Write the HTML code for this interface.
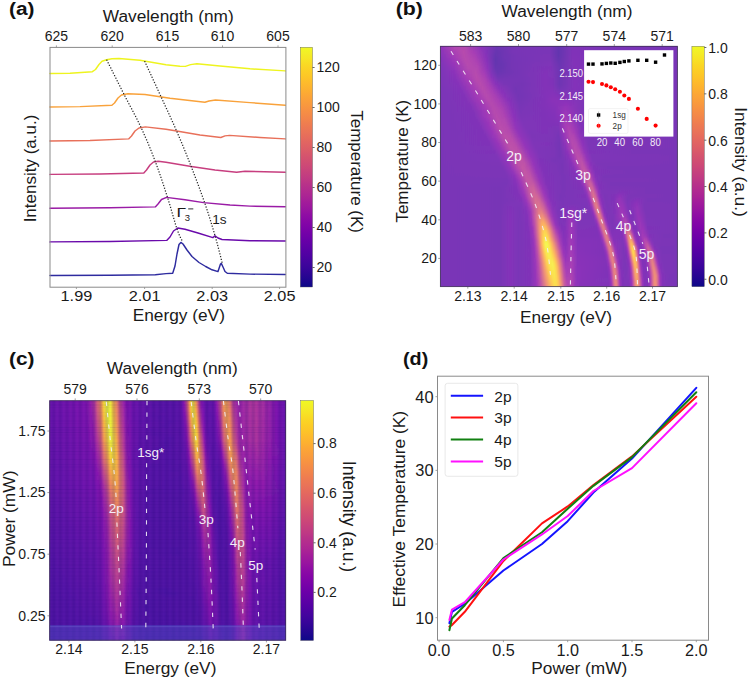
<!DOCTYPE html>
<html><head><meta charset="utf-8"><style>html,body{margin:0;padding:0;background:#fff;overflow:hidden}svg{display:block}</style></head>
<body><svg width="749" height="679" viewBox="0 0 749 679" font-family='"Liberation Sans", sans-serif'>
<defs><linearGradient id="pl" x1="0" y1="0" x2="0" y2="1"><stop offset="0.000" stop-color="#f0f921"/><stop offset="0.025" stop-color="#f3ee27"/><stop offset="0.050" stop-color="#f7e425"/><stop offset="0.075" stop-color="#fad824"/><stop offset="0.100" stop-color="#fcce25"/><stop offset="0.125" stop-color="#fdc527"/><stop offset="0.150" stop-color="#feba2c"/><stop offset="0.175" stop-color="#fdb130"/><stop offset="0.200" stop-color="#fca636"/><stop offset="0.225" stop-color="#fa9e3b"/><stop offset="0.250" stop-color="#f89540"/><stop offset="0.275" stop-color="#f58c46"/><stop offset="0.300" stop-color="#f2844b"/><stop offset="0.325" stop-color="#ee7b51"/><stop offset="0.350" stop-color="#ea7457"/><stop offset="0.375" stop-color="#e66c5c"/><stop offset="0.400" stop-color="#e16462"/><stop offset="0.425" stop-color="#dc5d67"/><stop offset="0.450" stop-color="#d6556d"/><stop offset="0.475" stop-color="#d14e72"/><stop offset="0.500" stop-color="#cc4778"/><stop offset="0.525" stop-color="#c5407e"/><stop offset="0.550" stop-color="#bf3984"/><stop offset="0.575" stop-color="#b7318a"/><stop offset="0.600" stop-color="#b12a90"/><stop offset="0.625" stop-color="#aa2395"/><stop offset="0.650" stop-color="#a11b9b"/><stop offset="0.675" stop-color="#99159f"/><stop offset="0.700" stop-color="#8f0da4"/><stop offset="0.725" stop-color="#8707a6"/><stop offset="0.750" stop-color="#7e03a8"/><stop offset="0.775" stop-color="#7401a8"/><stop offset="0.800" stop-color="#6a00a8"/><stop offset="0.825" stop-color="#6001a6"/><stop offset="0.850" stop-color="#5601a4"/><stop offset="0.875" stop-color="#4c02a1"/><stop offset="0.900" stop-color="#41049d"/><stop offset="0.925" stop-color="#370499"/><stop offset="0.950" stop-color="#2a0593"/><stop offset="0.975" stop-color="#1d068e"/><stop offset="1.000" stop-color="#0d0887"/></linearGradient><filter id="bv" filterUnits="userSpaceOnUse" x="0" y="0" width="749" height="679"><feGaussianBlur stdDeviation="0.6 1.6"/></filter><filter id="b1" filterUnits="userSpaceOnUse" x="0" y="0" width="749" height="679"><feGaussianBlur stdDeviation="1"/></filter><filter id="b1_5" filterUnits="userSpaceOnUse" x="0" y="0" width="749" height="679"><feGaussianBlur stdDeviation="1.5"/></filter><filter id="b2" filterUnits="userSpaceOnUse" x="0" y="0" width="749" height="679"><feGaussianBlur stdDeviation="2"/></filter><filter id="b2_5" filterUnits="userSpaceOnUse" x="0" y="0" width="749" height="679"><feGaussianBlur stdDeviation="2.5"/></filter><filter id="b3" filterUnits="userSpaceOnUse" x="0" y="0" width="749" height="679"><feGaussianBlur stdDeviation="3"/></filter><filter id="b3_5" filterUnits="userSpaceOnUse" x="0" y="0" width="749" height="679"><feGaussianBlur stdDeviation="3.5"/></filter><filter id="b4" filterUnits="userSpaceOnUse" x="0" y="0" width="749" height="679"><feGaussianBlur stdDeviation="4"/></filter><filter id="b5" filterUnits="userSpaceOnUse" x="0" y="0" width="749" height="679"><feGaussianBlur stdDeviation="5"/></filter><filter id="b6" filterUnits="userSpaceOnUse" x="0" y="0" width="749" height="679"><feGaussianBlur stdDeviation="6"/></filter><filter id="b8" filterUnits="userSpaceOnUse" x="0" y="0" width="749" height="679"><feGaussianBlur stdDeviation="8"/></filter><filter id="b10" filterUnits="userSpaceOnUse" x="0" y="0" width="749" height="679"><feGaussianBlur stdDeviation="10"/></filter><filter id="b12" filterUnits="userSpaceOnUse" x="0" y="0" width="749" height="679"><feGaussianBlur stdDeviation="12"/></filter><clipPath id="cb"><rect x="440.2" y="46" width="237.4" height="240.8"/></clipPath><linearGradient id="hb0" gradientUnits="userSpaceOnUse" x1="440" y1="0" x2="678" y2="0"><stop offset="0.002" stop-color="#8d33ba"/><stop offset="0.061" stop-color="#b046b1"/><stop offset="0.103" stop-color="#b54aae"/><stop offset="0.174" stop-color="#8c33ba"/><stop offset="0.237" stop-color="#6b36b2"/><stop offset="0.313" stop-color="#7834b6"/><stop offset="0.460" stop-color="#7b34b7"/><stop offset="0.498" stop-color="#6536b0"/><stop offset="0.561" stop-color="#8133b8"/><stop offset="0.708" stop-color="#7a34b7"/><stop offset="0.998" stop-color="#7a34b7"/></linearGradient><linearGradient id="hb1" gradientUnits="userSpaceOnUse" x1="440" y1="0" x2="678" y2="0"><stop offset="0.002" stop-color="#8833b9"/><stop offset="0.053" stop-color="#a63eb6"/><stop offset="0.099" stop-color="#b74bad"/><stop offset="0.145" stop-color="#a53db6"/><stop offset="0.195" stop-color="#8233b9"/><stop offset="0.237" stop-color="#6736b0"/><stop offset="0.309" stop-color="#7834b6"/><stop offset="0.460" stop-color="#7a34b7"/><stop offset="0.498" stop-color="#6336af"/><stop offset="0.557" stop-color="#8033b8"/><stop offset="0.754" stop-color="#7a34b7"/><stop offset="0.998" stop-color="#7a34b7"/></linearGradient><linearGradient id="hb2" gradientUnits="userSpaceOnUse" x1="440" y1="0" x2="678" y2="0"><stop offset="0.002" stop-color="#8433b9"/><stop offset="0.057" stop-color="#a33bb7"/><stop offset="0.103" stop-color="#b64bad"/><stop offset="0.145" stop-color="#aa41b4"/><stop offset="0.191" stop-color="#8933b9"/><stop offset="0.233" stop-color="#6536b0"/><stop offset="0.267" stop-color="#6e35b3"/><stop offset="0.321" stop-color="#7734b6"/><stop offset="0.460" stop-color="#7c34b7"/><stop offset="0.498" stop-color="#6436af"/><stop offset="0.557" stop-color="#8133b8"/><stop offset="0.716" stop-color="#7a34b7"/><stop offset="0.998" stop-color="#7a34b7"/></linearGradient><linearGradient id="hb3" gradientUnits="userSpaceOnUse" x1="440" y1="0" x2="678" y2="0"><stop offset="0.002" stop-color="#8133b8"/><stop offset="0.057" stop-color="#9c37b9"/><stop offset="0.107" stop-color="#b64bae"/><stop offset="0.149" stop-color="#ad43b3"/><stop offset="0.195" stop-color="#8933b9"/><stop offset="0.233" stop-color="#6336af"/><stop offset="0.267" stop-color="#6d35b3"/><stop offset="0.313" stop-color="#7634b6"/><stop offset="0.464" stop-color="#7c34b7"/><stop offset="0.498" stop-color="#6736b0"/><stop offset="0.561" stop-color="#8233b8"/><stop offset="0.683" stop-color="#7a34b7"/><stop offset="0.998" stop-color="#7a34b7"/></linearGradient><linearGradient id="hb4" gradientUnits="userSpaceOnUse" x1="440" y1="0" x2="678" y2="0"><stop offset="0.002" stop-color="#7f34b8"/><stop offset="0.061" stop-color="#9836b9"/><stop offset="0.116" stop-color="#b64bae"/><stop offset="0.158" stop-color="#ad43b3"/><stop offset="0.200" stop-color="#8933b9"/><stop offset="0.233" stop-color="#6536b0"/><stop offset="0.258" stop-color="#6836b1"/><stop offset="0.305" stop-color="#7534b5"/><stop offset="0.464" stop-color="#7f34b8"/><stop offset="0.502" stop-color="#6a36b2"/><stop offset="0.561" stop-color="#8233b8"/><stop offset="0.670" stop-color="#7a34b7"/><stop offset="0.998" stop-color="#7a34b7"/></linearGradient><linearGradient id="hb5" gradientUnits="userSpaceOnUse" x1="440" y1="0" x2="678" y2="0"><stop offset="0.002" stop-color="#7d34b8"/><stop offset="0.057" stop-color="#8f34ba"/><stop offset="0.120" stop-color="#b44aaf"/><stop offset="0.158" stop-color="#b147b1"/><stop offset="0.200" stop-color="#8e33ba"/><stop offset="0.233" stop-color="#6836b1"/><stop offset="0.258" stop-color="#6936b1"/><stop offset="0.305" stop-color="#7534b5"/><stop offset="0.464" stop-color="#8033b8"/><stop offset="0.502" stop-color="#6d35b3"/><stop offset="0.565" stop-color="#8233b8"/><stop offset="0.662" stop-color="#7a34b7"/><stop offset="0.998" stop-color="#7a34b7"/></linearGradient><linearGradient id="hb6" gradientUnits="userSpaceOnUse" x1="440" y1="0" x2="678" y2="0"><stop offset="0.002" stop-color="#7c34b7"/><stop offset="0.061" stop-color="#8c33ba"/><stop offset="0.107" stop-color="#aa41b4"/><stop offset="0.149" stop-color="#b64bae"/><stop offset="0.187" stop-color="#a23bb7"/><stop offset="0.221" stop-color="#7934b7"/><stop offset="0.242" stop-color="#6936b1"/><stop offset="0.313" stop-color="#7435b5"/><stop offset="0.447" stop-color="#8233b8"/><stop offset="0.473" stop-color="#7e34b8"/><stop offset="0.502" stop-color="#6e35b3"/><stop offset="0.569" stop-color="#8233b8"/><stop offset="0.662" stop-color="#7a34b7"/><stop offset="0.998" stop-color="#7a34b7"/></linearGradient><linearGradient id="hb7" gradientUnits="userSpaceOnUse" x1="440" y1="0" x2="678" y2="0"><stop offset="0.002" stop-color="#7c34b7"/><stop offset="0.065" stop-color="#8933b9"/><stop offset="0.111" stop-color="#a73eb5"/><stop offset="0.153" stop-color="#b74cad"/><stop offset="0.187" stop-color="#a940b5"/><stop offset="0.216" stop-color="#8733b9"/><stop offset="0.242" stop-color="#7035b4"/><stop offset="0.351" stop-color="#7834b6"/><stop offset="0.447" stop-color="#8233b9"/><stop offset="0.473" stop-color="#7f34b8"/><stop offset="0.502" stop-color="#6e35b3"/><stop offset="0.565" stop-color="#8333b9"/><stop offset="0.645" stop-color="#7a34b7"/><stop offset="0.998" stop-color="#7a34b7"/></linearGradient><linearGradient id="hb8" gradientUnits="userSpaceOnUse" x1="440" y1="0" x2="678" y2="0"><stop offset="0.002" stop-color="#7c34b7"/><stop offset="0.069" stop-color="#8633b9"/><stop offset="0.116" stop-color="#a33bb7"/><stop offset="0.158" stop-color="#b74bad"/><stop offset="0.191" stop-color="#ac42b3"/><stop offset="0.221" stop-color="#8c33ba"/><stop offset="0.246" stop-color="#7734b6"/><stop offset="0.347" stop-color="#7734b6"/><stop offset="0.443" stop-color="#8233b8"/><stop offset="0.473" stop-color="#7f33b8"/><stop offset="0.502" stop-color="#6e35b3"/><stop offset="0.565" stop-color="#8333b9"/><stop offset="0.645" stop-color="#7a34b7"/><stop offset="0.998" stop-color="#7a34b7"/></linearGradient><linearGradient id="hb9" gradientUnits="userSpaceOnUse" x1="440" y1="0" x2="678" y2="0"><stop offset="0.002" stop-color="#7c34b7"/><stop offset="0.078" stop-color="#8533b9"/><stop offset="0.128" stop-color="#a43cb6"/><stop offset="0.170" stop-color="#b74cad"/><stop offset="0.204" stop-color="#a83fb5"/><stop offset="0.233" stop-color="#8933b9"/><stop offset="0.267" stop-color="#7934b6"/><stop offset="0.342" stop-color="#7534b5"/><stop offset="0.443" stop-color="#8233b8"/><stop offset="0.473" stop-color="#7f33b8"/><stop offset="0.502" stop-color="#6e35b3"/><stop offset="0.565" stop-color="#8333b9"/><stop offset="0.645" stop-color="#7a34b7"/><stop offset="0.998" stop-color="#7a34b7"/></linearGradient><linearGradient id="hb10" gradientUnits="userSpaceOnUse" x1="440" y1="0" x2="678" y2="0"><stop offset="0.002" stop-color="#7b34b7"/><stop offset="0.086" stop-color="#8433b9"/><stop offset="0.137" stop-color="#a33bb7"/><stop offset="0.179" stop-color="#b74bad"/><stop offset="0.212" stop-color="#a83fb5"/><stop offset="0.246" stop-color="#8933b9"/><stop offset="0.317" stop-color="#7335b5"/><stop offset="0.443" stop-color="#8233b8"/><stop offset="0.473" stop-color="#8233b8"/><stop offset="0.502" stop-color="#7235b5"/><stop offset="0.565" stop-color="#8333b9"/><stop offset="0.645" stop-color="#7a34b7"/><stop offset="0.998" stop-color="#7a34b7"/></linearGradient><linearGradient id="hb11" gradientUnits="userSpaceOnUse" x1="440" y1="0" x2="678" y2="0"><stop offset="0.002" stop-color="#7a34b7"/><stop offset="0.095" stop-color="#8333b9"/><stop offset="0.145" stop-color="#a23ab7"/><stop offset="0.187" stop-color="#b64bae"/><stop offset="0.221" stop-color="#a940b5"/><stop offset="0.258" stop-color="#8a33b9"/><stop offset="0.321" stop-color="#7335b5"/><stop offset="0.443" stop-color="#8233b8"/><stop offset="0.473" stop-color="#8433b9"/><stop offset="0.506" stop-color="#7a34b7"/><stop offset="0.565" stop-color="#8333b9"/><stop offset="0.645" stop-color="#7a34b7"/><stop offset="0.998" stop-color="#7a34b7"/></linearGradient><linearGradient id="hb12" gradientUnits="userSpaceOnUse" x1="440" y1="0" x2="678" y2="0"><stop offset="0.002" stop-color="#7a34b7"/><stop offset="0.103" stop-color="#8233b8"/><stop offset="0.158" stop-color="#a33bb7"/><stop offset="0.195" stop-color="#b64bae"/><stop offset="0.229" stop-color="#aa41b4"/><stop offset="0.271" stop-color="#8a33b9"/><stop offset="0.330" stop-color="#7335b5"/><stop offset="0.443" stop-color="#8233b9"/><stop offset="0.477" stop-color="#8633b9"/><stop offset="0.506" stop-color="#8133b8"/><stop offset="0.565" stop-color="#8433b9"/><stop offset="0.637" stop-color="#7a34b7"/><stop offset="0.998" stop-color="#7a34b7"/></linearGradient><linearGradient id="hb13" gradientUnits="userSpaceOnUse" x1="440" y1="0" x2="678" y2="0"><stop offset="0.002" stop-color="#7a34b7"/><stop offset="0.111" stop-color="#8233b8"/><stop offset="0.166" stop-color="#a23ab7"/><stop offset="0.204" stop-color="#b54aae"/><stop offset="0.242" stop-color="#a940b5"/><stop offset="0.284" stop-color="#8933b9"/><stop offset="0.330" stop-color="#7534b5"/><stop offset="0.439" stop-color="#8133b8"/><stop offset="0.473" stop-color="#8a33b9"/><stop offset="0.511" stop-color="#8933b9"/><stop offset="0.649" stop-color="#7a34b7"/><stop offset="0.998" stop-color="#7a34b7"/></linearGradient><linearGradient id="hb14" gradientUnits="userSpaceOnUse" x1="440" y1="0" x2="678" y2="0"><stop offset="0.002" stop-color="#7a34b7"/><stop offset="0.124" stop-color="#8233b8"/><stop offset="0.174" stop-color="#a039b8"/><stop offset="0.216" stop-color="#b54aae"/><stop offset="0.254" stop-color="#a83fb5"/><stop offset="0.296" stop-color="#8833b9"/><stop offset="0.334" stop-color="#7734b6"/><stop offset="0.439" stop-color="#8133b8"/><stop offset="0.481" stop-color="#8833b9"/><stop offset="0.532" stop-color="#8f33ba"/><stop offset="0.611" stop-color="#7c34b7"/><stop offset="0.998" stop-color="#7a34b7"/></linearGradient><linearGradient id="hb15" gradientUnits="userSpaceOnUse" x1="440" y1="0" x2="678" y2="0"><stop offset="0.002" stop-color="#7a34b7"/><stop offset="0.132" stop-color="#8133b8"/><stop offset="0.187" stop-color="#a23bb7"/><stop offset="0.225" stop-color="#b54aae"/><stop offset="0.258" stop-color="#ac42b3"/><stop offset="0.300" stop-color="#8a33b9"/><stop offset="0.334" stop-color="#7934b6"/><stop offset="0.439" stop-color="#8133b8"/><stop offset="0.485" stop-color="#8633b9"/><stop offset="0.527" stop-color="#9535b9"/><stop offset="0.603" stop-color="#7c34b7"/><stop offset="0.998" stop-color="#7a34b7"/></linearGradient><linearGradient id="hb16" gradientUnits="userSpaceOnUse" x1="440" y1="0" x2="678" y2="0"><stop offset="0.002" stop-color="#7a34b7"/><stop offset="0.141" stop-color="#8133b8"/><stop offset="0.187" stop-color="#9c37b8"/><stop offset="0.229" stop-color="#b64bae"/><stop offset="0.263" stop-color="#ae44b2"/><stop offset="0.305" stop-color="#8b33ba"/><stop offset="0.338" stop-color="#7a34b7"/><stop offset="0.439" stop-color="#7f33b8"/><stop offset="0.481" stop-color="#8433b9"/><stop offset="0.506" stop-color="#8e33ba"/><stop offset="0.527" stop-color="#9b37b9"/><stop offset="0.603" stop-color="#7c34b7"/><stop offset="0.998" stop-color="#7a34b7"/></linearGradient><linearGradient id="hb17" gradientUnits="userSpaceOnUse" x1="440" y1="0" x2="678" y2="0"><stop offset="0.002" stop-color="#7a34b7"/><stop offset="0.145" stop-color="#8033b8"/><stop offset="0.195" stop-color="#9e38b8"/><stop offset="0.237" stop-color="#b74cad"/><stop offset="0.271" stop-color="#ad43b3"/><stop offset="0.309" stop-color="#8c33ba"/><stop offset="0.338" stop-color="#7c34b7"/><stop offset="0.439" stop-color="#7f33b8"/><stop offset="0.481" stop-color="#8233b9"/><stop offset="0.502" stop-color="#8a33b9"/><stop offset="0.527" stop-color="#a039b8"/><stop offset="0.565" stop-color="#8c33ba"/><stop offset="0.603" stop-color="#7c34b7"/><stop offset="0.998" stop-color="#7a34b7"/></linearGradient><linearGradient id="hb18" gradientUnits="userSpaceOnUse" x1="440" y1="0" x2="678" y2="0"><stop offset="0.002" stop-color="#7a34b7"/><stop offset="0.153" stop-color="#8033b8"/><stop offset="0.200" stop-color="#9b37b9"/><stop offset="0.242" stop-color="#b74cad"/><stop offset="0.271" stop-color="#b248b0"/><stop offset="0.313" stop-color="#8e33ba"/><stop offset="0.342" stop-color="#7e34b8"/><stop offset="0.439" stop-color="#7f33b8"/><stop offset="0.477" stop-color="#8133b8"/><stop offset="0.498" stop-color="#8433b9"/><stop offset="0.527" stop-color="#a43cb7"/><stop offset="0.553" stop-color="#9b37b9"/><stop offset="0.595" stop-color="#7e34b8"/><stop offset="0.998" stop-color="#7a34b7"/></linearGradient><linearGradient id="hb19" gradientUnits="userSpaceOnUse" x1="440" y1="0" x2="678" y2="0"><stop offset="0.002" stop-color="#7a34b7"/><stop offset="0.162" stop-color="#8033b8"/><stop offset="0.204" stop-color="#9836b9"/><stop offset="0.246" stop-color="#b84cad"/><stop offset="0.275" stop-color="#b449af"/><stop offset="0.317" stop-color="#8f34ba"/><stop offset="0.351" stop-color="#7f34b8"/><stop offset="0.439" stop-color="#7f33b8"/><stop offset="0.477" stop-color="#7f33b8"/><stop offset="0.498" stop-color="#8133b8"/><stop offset="0.527" stop-color="#a63eb6"/><stop offset="0.548" stop-color="#a53db6"/><stop offset="0.586" stop-color="#8333b9"/><stop offset="0.645" stop-color="#7a34b7"/><stop offset="0.998" stop-color="#7a34b7"/></linearGradient><linearGradient id="hb20" gradientUnits="userSpaceOnUse" x1="440" y1="0" x2="678" y2="0"><stop offset="0.002" stop-color="#7a34b7"/><stop offset="0.170" stop-color="#8033b8"/><stop offset="0.212" stop-color="#9936b9"/><stop offset="0.254" stop-color="#b94eac"/><stop offset="0.284" stop-color="#b449af"/><stop offset="0.321" stop-color="#9034ba"/><stop offset="0.359" stop-color="#7f34b8"/><stop offset="0.443" stop-color="#8033b8"/><stop offset="0.481" stop-color="#7d34b7"/><stop offset="0.498" stop-color="#7e34b8"/><stop offset="0.523" stop-color="#a23ab7"/><stop offset="0.540" stop-color="#ad43b3"/><stop offset="0.561" stop-color="#a23ab7"/><stop offset="0.595" stop-color="#8033b8"/><stop offset="0.733" stop-color="#7a34b7"/><stop offset="0.998" stop-color="#7a34b7"/></linearGradient><linearGradient id="hb21" gradientUnits="userSpaceOnUse" x1="440" y1="0" x2="678" y2="0"><stop offset="0.002" stop-color="#7a34b7"/><stop offset="0.179" stop-color="#7f33b8"/><stop offset="0.221" stop-color="#9a36b9"/><stop offset="0.263" stop-color="#ba4fab"/><stop offset="0.292" stop-color="#b449af"/><stop offset="0.330" stop-color="#8f34ba"/><stop offset="0.376" stop-color="#7d34b8"/><stop offset="0.443" stop-color="#7f33b8"/><stop offset="0.477" stop-color="#7d34b7"/><stop offset="0.498" stop-color="#7a34b7"/><stop offset="0.523" stop-color="#9d38b8"/><stop offset="0.544" stop-color="#b046b1"/><stop offset="0.565" stop-color="#a43cb6"/><stop offset="0.590" stop-color="#8633b9"/><stop offset="0.624" stop-color="#7c34b7"/><stop offset="0.998" stop-color="#7a34b7"/></linearGradient><linearGradient id="hb22" gradientUnits="userSpaceOnUse" x1="440" y1="0" x2="678" y2="0"><stop offset="0.002" stop-color="#7a34b7"/><stop offset="0.191" stop-color="#8033b8"/><stop offset="0.233" stop-color="#9d38b8"/><stop offset="0.271" stop-color="#bb50aa"/><stop offset="0.296" stop-color="#b84dac"/><stop offset="0.338" stop-color="#9034ba"/><stop offset="0.384" stop-color="#7d34b7"/><stop offset="0.473" stop-color="#7e34b8"/><stop offset="0.498" stop-color="#7734b6"/><stop offset="0.519" stop-color="#9034ba"/><stop offset="0.544" stop-color="#b046b1"/><stop offset="0.561" stop-color="#b045b1"/><stop offset="0.586" stop-color="#9034ba"/><stop offset="0.611" stop-color="#7e34b8"/><stop offset="0.998" stop-color="#7a34b7"/></linearGradient><linearGradient id="hb23" gradientUnits="userSpaceOnUse" x1="440" y1="0" x2="678" y2="0"><stop offset="0.002" stop-color="#7a34b7"/><stop offset="0.200" stop-color="#8033b8"/><stop offset="0.237" stop-color="#9836b9"/><stop offset="0.279" stop-color="#bc50aa"/><stop offset="0.305" stop-color="#b94dac"/><stop offset="0.347" stop-color="#9234ba"/><stop offset="0.389" stop-color="#7e34b8"/><stop offset="0.473" stop-color="#7d34b7"/><stop offset="0.502" stop-color="#7634b6"/><stop offset="0.532" stop-color="#9c37b8"/><stop offset="0.553" stop-color="#b44aaf"/><stop offset="0.569" stop-color="#af45b2"/><stop offset="0.595" stop-color="#8c33ba"/><stop offset="0.624" stop-color="#7c34b7"/><stop offset="0.998" stop-color="#7a34b7"/></linearGradient><linearGradient id="hb24" gradientUnits="userSpaceOnUse" x1="440" y1="0" x2="678" y2="0"><stop offset="0.002" stop-color="#7a34b7"/><stop offset="0.208" stop-color="#7f33b8"/><stop offset="0.246" stop-color="#9735b9"/><stop offset="0.288" stop-color="#bd51a9"/><stop offset="0.313" stop-color="#ba4eab"/><stop offset="0.355" stop-color="#9334ba"/><stop offset="0.393" stop-color="#7f34b8"/><stop offset="0.452" stop-color="#8033b8"/><stop offset="0.502" stop-color="#7534b5"/><stop offset="0.527" stop-color="#8e33ba"/><stop offset="0.557" stop-color="#b64bae"/><stop offset="0.574" stop-color="#b147b1"/><stop offset="0.599" stop-color="#8e33ba"/><stop offset="0.624" stop-color="#7d34b7"/><stop offset="0.998" stop-color="#7a34b7"/></linearGradient><linearGradient id="hb25" gradientUnits="userSpaceOnUse" x1="440" y1="0" x2="678" y2="0"><stop offset="0.002" stop-color="#7a34b7"/><stop offset="0.216" stop-color="#7f34b8"/><stop offset="0.254" stop-color="#9635b9"/><stop offset="0.296" stop-color="#bd52a9"/><stop offset="0.321" stop-color="#bb4faa"/><stop offset="0.363" stop-color="#9334ba"/><stop offset="0.401" stop-color="#7f34b8"/><stop offset="0.477" stop-color="#7c34b7"/><stop offset="0.502" stop-color="#7435b5"/><stop offset="0.527" stop-color="#8833b9"/><stop offset="0.548" stop-color="#a73fb5"/><stop offset="0.565" stop-color="#b84dad"/><stop offset="0.582" stop-color="#af45b2"/><stop offset="0.603" stop-color="#9034ba"/><stop offset="0.628" stop-color="#7d34b8"/><stop offset="0.998" stop-color="#7a34b7"/></linearGradient><linearGradient id="hb26" gradientUnits="userSpaceOnUse" x1="440" y1="0" x2="678" y2="0"><stop offset="0.002" stop-color="#7a34b7"/><stop offset="0.229" stop-color="#7f33b8"/><stop offset="0.267" stop-color="#9936b9"/><stop offset="0.305" stop-color="#bd52a9"/><stop offset="0.330" stop-color="#bc50aa"/><stop offset="0.376" stop-color="#9034ba"/><stop offset="0.414" stop-color="#7e34b8"/><stop offset="0.477" stop-color="#7c34b7"/><stop offset="0.506" stop-color="#7534b5"/><stop offset="0.536" stop-color="#8b33b9"/><stop offset="0.553" stop-color="#a53db6"/><stop offset="0.569" stop-color="#b84dac"/><stop offset="0.586" stop-color="#b348b0"/><stop offset="0.607" stop-color="#9334ba"/><stop offset="0.628" stop-color="#7f33b8"/><stop offset="0.809" stop-color="#7a34b7"/><stop offset="0.998" stop-color="#7a34b7"/></linearGradient><linearGradient id="hb27" gradientUnits="userSpaceOnUse" x1="440" y1="0" x2="678" y2="0"><stop offset="0.002" stop-color="#7a34b7"/><stop offset="0.237" stop-color="#7e34b8"/><stop offset="0.271" stop-color="#9435b9"/><stop offset="0.313" stop-color="#be52a8"/><stop offset="0.338" stop-color="#bd52a9"/><stop offset="0.380" stop-color="#9334ba"/><stop offset="0.418" stop-color="#7f34b8"/><stop offset="0.477" stop-color="#7c34b7"/><stop offset="0.506" stop-color="#7534b5"/><stop offset="0.540" stop-color="#8833b9"/><stop offset="0.557" stop-color="#a13ab7"/><stop offset="0.578" stop-color="#bb4faa"/><stop offset="0.595" stop-color="#b247b0"/><stop offset="0.616" stop-color="#9034ba"/><stop offset="0.637" stop-color="#7e34b8"/><stop offset="0.998" stop-color="#7a34b7"/></linearGradient><linearGradient id="hb28" gradientUnits="userSpaceOnUse" x1="440" y1="0" x2="678" y2="0"><stop offset="0.002" stop-color="#7a34b7"/><stop offset="0.246" stop-color="#7e34b8"/><stop offset="0.279" stop-color="#9334ba"/><stop offset="0.321" stop-color="#be52a8"/><stop offset="0.347" stop-color="#be53a8"/><stop offset="0.389" stop-color="#9334ba"/><stop offset="0.422" stop-color="#7f33b8"/><stop offset="0.485" stop-color="#7834b6"/><stop offset="0.523" stop-color="#7a34b7"/><stop offset="0.548" stop-color="#8933b9"/><stop offset="0.565" stop-color="#a43cb6"/><stop offset="0.582" stop-color="#bb50aa"/><stop offset="0.595" stop-color="#ba4fab"/><stop offset="0.620" stop-color="#9234ba"/><stop offset="0.641" stop-color="#7e34b8"/><stop offset="0.998" stop-color="#7a34b7"/></linearGradient><linearGradient id="hb29" gradientUnits="userSpaceOnUse" x1="440" y1="0" x2="678" y2="0"><stop offset="0.002" stop-color="#7a34b7"/><stop offset="0.254" stop-color="#7d34b7"/><stop offset="0.288" stop-color="#9234ba"/><stop offset="0.330" stop-color="#bf53a7"/><stop offset="0.355" stop-color="#bf53a7"/><stop offset="0.393" stop-color="#9635b9"/><stop offset="0.422" stop-color="#8133b8"/><stop offset="0.515" stop-color="#7834b6"/><stop offset="0.553" stop-color="#8633b9"/><stop offset="0.569" stop-color="#9e39b8"/><stop offset="0.586" stop-color="#ba4fab"/><stop offset="0.599" stop-color="#be53a8"/><stop offset="0.616" stop-color="#a63eb6"/><stop offset="0.632" stop-color="#8933b9"/><stop offset="0.658" stop-color="#7c34b7"/><stop offset="0.998" stop-color="#7a34b7"/></linearGradient><linearGradient id="hb30" gradientUnits="userSpaceOnUse" x1="440" y1="0" x2="678" y2="0"><stop offset="0.002" stop-color="#7a34b7"/><stop offset="0.263" stop-color="#7c34b7"/><stop offset="0.296" stop-color="#9034ba"/><stop offset="0.321" stop-color="#af45b2"/><stop offset="0.347" stop-color="#c357a4"/><stop offset="0.372" stop-color="#b74cad"/><stop offset="0.401" stop-color="#9334ba"/><stop offset="0.431" stop-color="#8033b8"/><stop offset="0.515" stop-color="#7834b6"/><stop offset="0.561" stop-color="#8633b9"/><stop offset="0.578" stop-color="#a03ab7"/><stop offset="0.595" stop-color="#be52a8"/><stop offset="0.607" stop-color="#bf53a7"/><stop offset="0.628" stop-color="#9936b9"/><stop offset="0.645" stop-color="#8233b8"/><stop offset="0.704" stop-color="#7a34b7"/><stop offset="0.998" stop-color="#7a34b7"/></linearGradient><linearGradient id="hb31" gradientUnits="userSpaceOnUse" x1="440" y1="0" x2="678" y2="0"><stop offset="0.002" stop-color="#7a34b7"/><stop offset="0.271" stop-color="#7c34b7"/><stop offset="0.305" stop-color="#8f34ba"/><stop offset="0.330" stop-color="#af45b2"/><stop offset="0.355" stop-color="#c458a4"/><stop offset="0.376" stop-color="#bb4faa"/><stop offset="0.405" stop-color="#9635b9"/><stop offset="0.435" stop-color="#8033b8"/><stop offset="0.515" stop-color="#7934b6"/><stop offset="0.565" stop-color="#8333b9"/><stop offset="0.582" stop-color="#9936b9"/><stop offset="0.603" stop-color="#c256a5"/><stop offset="0.616" stop-color="#c054a6"/><stop offset="0.637" stop-color="#9535b9"/><stop offset="0.653" stop-color="#7f33b8"/><stop offset="0.792" stop-color="#7a34b7"/><stop offset="0.998" stop-color="#7a34b7"/></linearGradient><linearGradient id="hb32" gradientUnits="userSpaceOnUse" x1="440" y1="0" x2="678" y2="0"><stop offset="0.002" stop-color="#7a34b7"/><stop offset="0.279" stop-color="#7b34b7"/><stop offset="0.313" stop-color="#8d33ba"/><stop offset="0.334" stop-color="#a940b5"/><stop offset="0.359" stop-color="#c357a4"/><stop offset="0.380" stop-color="#be52a8"/><stop offset="0.414" stop-color="#9334ba"/><stop offset="0.443" stop-color="#8033b8"/><stop offset="0.519" stop-color="#7934b7"/><stop offset="0.574" stop-color="#8233b8"/><stop offset="0.590" stop-color="#9b37b8"/><stop offset="0.607" stop-color="#c256a5"/><stop offset="0.620" stop-color="#c65ba1"/><stop offset="0.637" stop-color="#a43cb6"/><stop offset="0.653" stop-color="#8433b9"/><stop offset="0.687" stop-color="#7a34b7"/><stop offset="0.998" stop-color="#7a34b7"/></linearGradient><linearGradient id="hb33" gradientUnits="userSpaceOnUse" x1="440" y1="0" x2="678" y2="0"><stop offset="0.002" stop-color="#7a34b7"/><stop offset="0.284" stop-color="#7a34b7"/><stop offset="0.317" stop-color="#8833b9"/><stop offset="0.338" stop-color="#a33bb7"/><stop offset="0.363" stop-color="#c256a5"/><stop offset="0.384" stop-color="#c156a5"/><stop offset="0.418" stop-color="#9635b9"/><stop offset="0.443" stop-color="#8133b8"/><stop offset="0.519" stop-color="#7934b7"/><stop offset="0.582" stop-color="#8233b8"/><stop offset="0.595" stop-color="#9335b9"/><stop offset="0.607" stop-color="#b64bae"/><stop offset="0.620" stop-color="#cb609d"/><stop offset="0.632" stop-color="#c055a6"/><stop offset="0.645" stop-color="#9e39b8"/><stop offset="0.658" stop-color="#8433b9"/><stop offset="0.683" stop-color="#7c34b7"/><stop offset="0.998" stop-color="#7a34b7"/></linearGradient><linearGradient id="hb34" gradientUnits="userSpaceOnUse" x1="440" y1="0" x2="678" y2="0"><stop offset="0.002" stop-color="#7a34b7"/><stop offset="0.279" stop-color="#7934b7"/><stop offset="0.321" stop-color="#8633b9"/><stop offset="0.342" stop-color="#a039b8"/><stop offset="0.372" stop-color="#c75ba1"/><stop offset="0.393" stop-color="#c357a4"/><stop offset="0.422" stop-color="#9936b9"/><stop offset="0.447" stop-color="#8233b8"/><stop offset="0.515" stop-color="#7934b7"/><stop offset="0.590" stop-color="#8133b8"/><stop offset="0.603" stop-color="#9535b9"/><stop offset="0.616" stop-color="#bc50aa"/><stop offset="0.628" stop-color="#d06599"/><stop offset="0.637" stop-color="#c85da0"/><stop offset="0.653" stop-color="#9836b9"/><stop offset="0.666" stop-color="#8133b8"/><stop offset="0.716" stop-color="#7a34b7"/><stop offset="0.998" stop-color="#7a34b7"/></linearGradient><linearGradient id="hb35" gradientUnits="userSpaceOnUse" x1="440" y1="0" x2="678" y2="0"><stop offset="0.002" stop-color="#7a34b7"/><stop offset="0.254" stop-color="#7834b6"/><stop offset="0.321" stop-color="#8133b8"/><stop offset="0.347" stop-color="#9e38b8"/><stop offset="0.376" stop-color="#c95d9f"/><stop offset="0.393" stop-color="#cb609d"/><stop offset="0.414" stop-color="#b248b0"/><stop offset="0.431" stop-color="#9735b9"/><stop offset="0.456" stop-color="#8133b8"/><stop offset="0.515" stop-color="#7934b7"/><stop offset="0.599" stop-color="#8033b8"/><stop offset="0.611" stop-color="#9736b9"/><stop offset="0.624" stop-color="#c156a5"/><stop offset="0.632" stop-color="#d26797"/><stop offset="0.641" stop-color="#cf6499"/><stop offset="0.658" stop-color="#9d38b8"/><stop offset="0.670" stop-color="#8133b8"/><stop offset="0.716" stop-color="#7b34b7"/><stop offset="0.998" stop-color="#7a34b7"/></linearGradient><linearGradient id="hb36" gradientUnits="userSpaceOnUse" x1="440" y1="0" x2="678" y2="0"><stop offset="0.002" stop-color="#7a34b7"/><stop offset="0.258" stop-color="#7834b6"/><stop offset="0.326" stop-color="#8033b8"/><stop offset="0.351" stop-color="#9b37b9"/><stop offset="0.380" stop-color="#ca5f9e"/><stop offset="0.397" stop-color="#d06599"/><stop offset="0.418" stop-color="#b84dac"/><stop offset="0.435" stop-color="#9b37b9"/><stop offset="0.460" stop-color="#8133b8"/><stop offset="0.515" stop-color="#7a34b7"/><stop offset="0.603" stop-color="#7e34b8"/><stop offset="0.616" stop-color="#9034ba"/><stop offset="0.624" stop-color="#ae44b2"/><stop offset="0.637" stop-color="#d46a95"/><stop offset="0.645" stop-color="#d46b94"/><stop offset="0.658" stop-color="#b046b1"/><stop offset="0.666" stop-color="#9134ba"/><stop offset="0.679" stop-color="#7e34b8"/><stop offset="0.733" stop-color="#7e34b8"/><stop offset="0.763" stop-color="#8133b8"/><stop offset="0.863" stop-color="#7a34b7"/><stop offset="0.998" stop-color="#7a34b7"/></linearGradient><linearGradient id="hb37" gradientUnits="userSpaceOnUse" x1="440" y1="0" x2="678" y2="0"><stop offset="0.002" stop-color="#7a34b7"/><stop offset="0.254" stop-color="#7834b6"/><stop offset="0.334" stop-color="#8133b8"/><stop offset="0.355" stop-color="#9835b9"/><stop offset="0.376" stop-color="#bf53a7"/><stop offset="0.393" stop-color="#d36996"/><stop offset="0.410" stop-color="#cf6499"/><stop offset="0.439" stop-color="#9f39b8"/><stop offset="0.460" stop-color="#8433b9"/><stop offset="0.506" stop-color="#7934b7"/><stop offset="0.611" stop-color="#8033b8"/><stop offset="0.620" stop-color="#8e34ba"/><stop offset="0.628" stop-color="#ab42b3"/><stop offset="0.637" stop-color="#cc619c"/><stop offset="0.645" stop-color="#db728e"/><stop offset="0.653" stop-color="#d06599"/><stop offset="0.666" stop-color="#a039b8"/><stop offset="0.674" stop-color="#8733b9"/><stop offset="0.691" stop-color="#7c34b7"/><stop offset="0.733" stop-color="#8033b8"/><stop offset="0.754" stop-color="#8e33ba"/><stop offset="0.792" stop-color="#7c34b7"/><stop offset="0.998" stop-color="#7a34b7"/></linearGradient><linearGradient id="hb38" gradientUnits="userSpaceOnUse" x1="440" y1="0" x2="678" y2="0"><stop offset="0.002" stop-color="#7a34b7"/><stop offset="0.254" stop-color="#7834b6"/><stop offset="0.309" stop-color="#7c34b7"/><stop offset="0.342" stop-color="#8233b8"/><stop offset="0.363" stop-color="#9b37b9"/><stop offset="0.384" stop-color="#c559a2"/><stop offset="0.401" stop-color="#d76e92"/><stop offset="0.418" stop-color="#d06698"/><stop offset="0.443" stop-color="#a33cb7"/><stop offset="0.464" stop-color="#8533b9"/><stop offset="0.502" stop-color="#7a34b7"/><stop offset="0.616" stop-color="#7e34b8"/><stop offset="0.624" stop-color="#8a33b9"/><stop offset="0.628" stop-color="#9736b9"/><stop offset="0.637" stop-color="#bc50aa"/><stop offset="0.645" stop-color="#d97090"/><stop offset="0.649" stop-color="#de778b"/><stop offset="0.653" stop-color="#dc758c"/><stop offset="0.662" stop-color="#c559a2"/><stop offset="0.670" stop-color="#9f39b8"/><stop offset="0.679" stop-color="#8633b9"/><stop offset="0.695" stop-color="#7c34b7"/><stop offset="0.729" stop-color="#7f33b8"/><stop offset="0.754" stop-color="#9735b9"/><stop offset="0.788" stop-color="#7c34b7"/><stop offset="0.830" stop-color="#8533b9"/><stop offset="0.872" stop-color="#7a34b7"/><stop offset="0.998" stop-color="#7a34b7"/></linearGradient><linearGradient id="hb39" gradientUnits="userSpaceOnUse" x1="440" y1="0" x2="678" y2="0"><stop offset="0.002" stop-color="#7a34b7"/><stop offset="0.254" stop-color="#7834b6"/><stop offset="0.300" stop-color="#7e34b8"/><stop offset="0.342" stop-color="#7e34b8"/><stop offset="0.363" stop-color="#9134ba"/><stop offset="0.376" stop-color="#a940b5"/><stop offset="0.401" stop-color="#d66d92"/><stop offset="0.414" stop-color="#db728e"/><stop offset="0.431" stop-color="#ca5f9e"/><stop offset="0.452" stop-color="#9f39b8"/><stop offset="0.473" stop-color="#8333b9"/><stop offset="0.515" stop-color="#7a34b7"/><stop offset="0.620" stop-color="#7d34b8"/><stop offset="0.628" stop-color="#8733b9"/><stop offset="0.637" stop-color="#a53db6"/><stop offset="0.649" stop-color="#da728e"/><stop offset="0.653" stop-color="#e17b87"/><stop offset="0.658" stop-color="#e07989"/><stop offset="0.666" stop-color="#c75ca0"/><stop offset="0.674" stop-color="#9f39b8"/><stop offset="0.683" stop-color="#8533b9"/><stop offset="0.700" stop-color="#7c34b7"/><stop offset="0.733" stop-color="#8233b8"/><stop offset="0.754" stop-color="#9a36b9"/><stop offset="0.767" stop-color="#9434ba"/><stop offset="0.788" stop-color="#7e34b8"/><stop offset="0.809" stop-color="#8533b9"/><stop offset="0.826" stop-color="#8e33ba"/><stop offset="0.859" stop-color="#7c34b7"/><stop offset="0.998" stop-color="#7a34b7"/></linearGradient><linearGradient id="hb40" gradientUnits="userSpaceOnUse" x1="440" y1="0" x2="678" y2="0"><stop offset="0.002" stop-color="#7a34b7"/><stop offset="0.254" stop-color="#7834b6"/><stop offset="0.296" stop-color="#8033b8"/><stop offset="0.334" stop-color="#7b34b7"/><stop offset="0.363" stop-color="#8833b9"/><stop offset="0.380" stop-color="#a43cb6"/><stop offset="0.405" stop-color="#d66d92"/><stop offset="0.418" stop-color="#df778a"/><stop offset="0.435" stop-color="#d06698"/><stop offset="0.456" stop-color="#a33cb7"/><stop offset="0.473" stop-color="#8833b9"/><stop offset="0.502" stop-color="#7a34b7"/><stop offset="0.557" stop-color="#8433b9"/><stop offset="0.607" stop-color="#7a34b7"/><stop offset="0.628" stop-color="#7f34b8"/><stop offset="0.637" stop-color="#8f34ba"/><stop offset="0.641" stop-color="#a03ab7"/><stop offset="0.649" stop-color="#cb609d"/><stop offset="0.658" stop-color="#e47f84"/><stop offset="0.662" stop-color="#e47e85"/><stop offset="0.670" stop-color="#ca5e9e"/><stop offset="0.679" stop-color="#9e39b8"/><stop offset="0.687" stop-color="#8433b9"/><stop offset="0.704" stop-color="#7c34b7"/><stop offset="0.733" stop-color="#8133b8"/><stop offset="0.758" stop-color="#9d37b8"/><stop offset="0.771" stop-color="#9635b9"/><stop offset="0.792" stop-color="#7e34b8"/><stop offset="0.813" stop-color="#8933b9"/><stop offset="0.830" stop-color="#9234ba"/><stop offset="0.859" stop-color="#7c34b7"/><stop offset="0.998" stop-color="#7a34b7"/></linearGradient><linearGradient id="hb41" gradientUnits="userSpaceOnUse" x1="440" y1="0" x2="678" y2="0"><stop offset="0.002" stop-color="#7a34b7"/><stop offset="0.254" stop-color="#7834b6"/><stop offset="0.296" stop-color="#8233b8"/><stop offset="0.334" stop-color="#7a34b7"/><stop offset="0.363" stop-color="#8433b9"/><stop offset="0.380" stop-color="#9b37b9"/><stop offset="0.397" stop-color="#c458a3"/><stop offset="0.414" stop-color="#e17b87"/><stop offset="0.426" stop-color="#e58083"/><stop offset="0.443" stop-color="#d06598"/><stop offset="0.460" stop-color="#a83fb5"/><stop offset="0.473" stop-color="#8f34ba"/><stop offset="0.494" stop-color="#7d34b8"/><stop offset="0.527" stop-color="#7f33b8"/><stop offset="0.553" stop-color="#9134ba"/><stop offset="0.582" stop-color="#7c34b7"/><stop offset="0.632" stop-color="#7e34b8"/><stop offset="0.641" stop-color="#8a33b9"/><stop offset="0.645" stop-color="#9a37b8"/><stop offset="0.649" stop-color="#af45b1"/><stop offset="0.658" stop-color="#d97090"/><stop offset="0.662" stop-color="#e37e85"/><stop offset="0.666" stop-color="#e58183"/><stop offset="0.670" stop-color="#dd768b"/><stop offset="0.679" stop-color="#b74cac"/><stop offset="0.683" stop-color="#a13bb7"/><stop offset="0.691" stop-color="#8433b9"/><stop offset="0.708" stop-color="#7c34b7"/><stop offset="0.737" stop-color="#8433b9"/><stop offset="0.763" stop-color="#9f39b8"/><stop offset="0.775" stop-color="#9735b9"/><stop offset="0.796" stop-color="#7e34b8"/><stop offset="0.813" stop-color="#8533b9"/><stop offset="0.830" stop-color="#9535ba"/><stop offset="0.863" stop-color="#7c34b7"/><stop offset="0.998" stop-color="#7a34b7"/></linearGradient><linearGradient id="hb42" gradientUnits="userSpaceOnUse" x1="440" y1="0" x2="678" y2="0"><stop offset="0.002" stop-color="#7a34b7"/><stop offset="0.254" stop-color="#7834b6"/><stop offset="0.296" stop-color="#8333b9"/><stop offset="0.334" stop-color="#7a34b7"/><stop offset="0.368" stop-color="#8533b9"/><stop offset="0.384" stop-color="#a23ab7"/><stop offset="0.401" stop-color="#ce639b"/><stop offset="0.418" stop-color="#eb8a7c"/><stop offset="0.431" stop-color="#ee8f79"/><stop offset="0.447" stop-color="#d86e91"/><stop offset="0.464" stop-color="#ac43b3"/><stop offset="0.477" stop-color="#9034ba"/><stop offset="0.498" stop-color="#7e34b8"/><stop offset="0.527" stop-color="#8133b8"/><stop offset="0.548" stop-color="#9a36b9"/><stop offset="0.565" stop-color="#8c33ba"/><stop offset="0.582" stop-color="#7d34b7"/><stop offset="0.637" stop-color="#7d34b7"/><stop offset="0.645" stop-color="#8733b9"/><stop offset="0.649" stop-color="#9335b9"/><stop offset="0.653" stop-color="#a63eb5"/><stop offset="0.662" stop-color="#d26797"/><stop offset="0.666" stop-color="#df7989"/><stop offset="0.670" stop-color="#e47f84"/><stop offset="0.674" stop-color="#e07989"/><stop offset="0.683" stop-color="#bd52a8"/><stop offset="0.687" stop-color="#a63eb5"/><stop offset="0.691" stop-color="#9335b9"/><stop offset="0.700" stop-color="#8033b8"/><stop offset="0.729" stop-color="#7e34b8"/><stop offset="0.763" stop-color="#9f38b8"/><stop offset="0.775" stop-color="#a039b8"/><stop offset="0.796" stop-color="#8033b8"/><stop offset="0.813" stop-color="#8233b8"/><stop offset="0.834" stop-color="#9635b9"/><stop offset="0.868" stop-color="#7c34b7"/><stop offset="0.998" stop-color="#7a34b7"/></linearGradient><linearGradient id="hb43" gradientUnits="userSpaceOnUse" x1="440" y1="0" x2="678" y2="0"><stop offset="0.002" stop-color="#7a34b7"/><stop offset="0.254" stop-color="#7834b6"/><stop offset="0.296" stop-color="#8433b9"/><stop offset="0.330" stop-color="#7a34b7"/><stop offset="0.368" stop-color="#8333b9"/><stop offset="0.384" stop-color="#9d38b8"/><stop offset="0.397" stop-color="#c054a7"/><stop offset="0.414" stop-color="#e9877e"/><stop offset="0.426" stop-color="#f6a06d"/><stop offset="0.435" stop-color="#f69f6e"/><stop offset="0.452" stop-color="#de778a"/><stop offset="0.468" stop-color="#b046b1"/><stop offset="0.481" stop-color="#9234ba"/><stop offset="0.502" stop-color="#7e34b8"/><stop offset="0.527" stop-color="#8133b8"/><stop offset="0.548" stop-color="#9b37b9"/><stop offset="0.561" stop-color="#9234ba"/><stop offset="0.582" stop-color="#7d34b7"/><stop offset="0.645" stop-color="#7e34b8"/><stop offset="0.653" stop-color="#8d34b9"/><stop offset="0.658" stop-color="#9e39b8"/><stop offset="0.666" stop-color="#ca5f9e"/><stop offset="0.670" stop-color="#da728e"/><stop offset="0.674" stop-color="#e37d86"/><stop offset="0.679" stop-color="#e17a88"/><stop offset="0.687" stop-color="#c358a3"/><stop offset="0.691" stop-color="#ad43b2"/><stop offset="0.695" stop-color="#9836b9"/><stop offset="0.704" stop-color="#8133b8"/><stop offset="0.725" stop-color="#7d34b7"/><stop offset="0.758" stop-color="#9334ba"/><stop offset="0.771" stop-color="#a940b4"/><stop offset="0.779" stop-color="#a940b4"/><stop offset="0.796" stop-color="#8733b9"/><stop offset="0.809" stop-color="#7e34b8"/><stop offset="0.838" stop-color="#9936b9"/><stop offset="0.868" stop-color="#7d34b8"/><stop offset="0.998" stop-color="#7a34b7"/></linearGradient><linearGradient id="hb44" gradientUnits="userSpaceOnUse" x1="440" y1="0" x2="678" y2="0"><stop offset="0.002" stop-color="#7a34b7"/><stop offset="0.254" stop-color="#7834b6"/><stop offset="0.296" stop-color="#8433b9"/><stop offset="0.330" stop-color="#7a34b7"/><stop offset="0.368" stop-color="#8133b8"/><stop offset="0.384" stop-color="#9936b9"/><stop offset="0.397" stop-color="#bb4faa"/><stop offset="0.414" stop-color="#ea887e"/><stop offset="0.426" stop-color="#faac65"/><stop offset="0.435" stop-color="#fcb361"/><stop offset="0.443" stop-color="#f8a768"/><stop offset="0.456" stop-color="#e48084"/><stop offset="0.473" stop-color="#b449af"/><stop offset="0.485" stop-color="#9334ba"/><stop offset="0.502" stop-color="#8033b8"/><stop offset="0.523" stop-color="#7f34b8"/><stop offset="0.548" stop-color="#9c37b9"/><stop offset="0.561" stop-color="#9334ba"/><stop offset="0.582" stop-color="#7e34b8"/><stop offset="0.649" stop-color="#7e34b8"/><stop offset="0.658" stop-color="#8933b9"/><stop offset="0.662" stop-color="#9736b9"/><stop offset="0.666" stop-color="#ab42b3"/><stop offset="0.674" stop-color="#d46b94"/><stop offset="0.679" stop-color="#e07989"/><stop offset="0.683" stop-color="#e17b87"/><stop offset="0.687" stop-color="#da718f"/><stop offset="0.695" stop-color="#b349af"/><stop offset="0.700" stop-color="#9d39b8"/><stop offset="0.708" stop-color="#8333b9"/><stop offset="0.725" stop-color="#7d34b7"/><stop offset="0.758" stop-color="#8b33ba"/><stop offset="0.771" stop-color="#a73fb5"/><stop offset="0.779" stop-color="#b44aaf"/><stop offset="0.788" stop-color="#ab42b3"/><stop offset="0.800" stop-color="#8a33b9"/><stop offset="0.813" stop-color="#7f34b8"/><stop offset="0.842" stop-color="#9b37b9"/><stop offset="0.872" stop-color="#7d34b8"/><stop offset="0.998" stop-color="#7a34b7"/></linearGradient><linearGradient id="hb45" gradientUnits="userSpaceOnUse" x1="440" y1="0" x2="678" y2="0"><stop offset="0.002" stop-color="#7a34b7"/><stop offset="0.254" stop-color="#7834b6"/><stop offset="0.296" stop-color="#8433b9"/><stop offset="0.330" stop-color="#7a34b7"/><stop offset="0.372" stop-color="#8333b9"/><stop offset="0.389" stop-color="#9c37b8"/><stop offset="0.401" stop-color="#c256a5"/><stop offset="0.418" stop-color="#f19574"/><stop offset="0.431" stop-color="#fec05a"/><stop offset="0.439" stop-color="#fec757"/><stop offset="0.447" stop-color="#fcb75f"/><stop offset="0.460" stop-color="#ea897d"/><stop offset="0.477" stop-color="#bb50aa"/><stop offset="0.489" stop-color="#9b37b8"/><stop offset="0.511" stop-color="#8133b8"/><stop offset="0.527" stop-color="#8333b9"/><stop offset="0.548" stop-color="#9d38b8"/><stop offset="0.561" stop-color="#9434ba"/><stop offset="0.582" stop-color="#7f34b8"/><stop offset="0.658" stop-color="#8033b8"/><stop offset="0.666" stop-color="#9134b9"/><stop offset="0.670" stop-color="#a33cb6"/><stop offset="0.679" stop-color="#cd639b"/><stop offset="0.683" stop-color="#dc738d"/><stop offset="0.687" stop-color="#e17a88"/><stop offset="0.691" stop-color="#dc748d"/><stop offset="0.700" stop-color="#b94eab"/><stop offset="0.704" stop-color="#a33cb6"/><stop offset="0.712" stop-color="#8533b9"/><stop offset="0.725" stop-color="#7d34b7"/><stop offset="0.763" stop-color="#8b33b9"/><stop offset="0.771" stop-color="#a33cb7"/><stop offset="0.779" stop-color="#c155a6"/><stop offset="0.788" stop-color="#c85da0"/><stop offset="0.796" stop-color="#b349af"/><stop offset="0.805" stop-color="#9335b9"/><stop offset="0.813" stop-color="#8233b8"/><stop offset="0.826" stop-color="#8433b9"/><stop offset="0.842" stop-color="#9b37b9"/><stop offset="0.855" stop-color="#9635b9"/><stop offset="0.872" stop-color="#7f33b8"/><stop offset="0.989" stop-color="#7a34b7"/><stop offset="0.998" stop-color="#7a34b7"/></linearGradient><linearGradient id="hb46" gradientUnits="userSpaceOnUse" x1="440" y1="0" x2="678" y2="0"><stop offset="0.002" stop-color="#7a34b7"/><stop offset="0.254" stop-color="#7834b6"/><stop offset="0.296" stop-color="#8433b9"/><stop offset="0.330" stop-color="#7a34b7"/><stop offset="0.372" stop-color="#8133b8"/><stop offset="0.389" stop-color="#9835b9"/><stop offset="0.401" stop-color="#bc51a9"/><stop offset="0.418" stop-color="#f09277"/><stop offset="0.431" stop-color="#fec657"/><stop offset="0.439" stop-color="#fdd751"/><stop offset="0.447" stop-color="#fece54"/><stop offset="0.460" stop-color="#f6a06d"/><stop offset="0.477" stop-color="#cd629b"/><stop offset="0.489" stop-color="#ac43b3"/><stop offset="0.502" stop-color="#9234ba"/><stop offset="0.519" stop-color="#8233b8"/><stop offset="0.536" stop-color="#8e33ba"/><stop offset="0.548" stop-color="#9e38b8"/><stop offset="0.561" stop-color="#9635b9"/><stop offset="0.578" stop-color="#8233b8"/><stop offset="0.662" stop-color="#8033b8"/><stop offset="0.670" stop-color="#8d33ba"/><stop offset="0.674" stop-color="#9d38b8"/><stop offset="0.683" stop-color="#c75ca0"/><stop offset="0.687" stop-color="#d86f91"/><stop offset="0.691" stop-color="#e07a88"/><stop offset="0.695" stop-color="#de778a"/><stop offset="0.704" stop-color="#c054a6"/><stop offset="0.708" stop-color="#a940b4"/><stop offset="0.712" stop-color="#9535b9"/><stop offset="0.721" stop-color="#8133b8"/><stop offset="0.763" stop-color="#8433b9"/><stop offset="0.771" stop-color="#9735b9"/><stop offset="0.779" stop-color="#be53a8"/><stop offset="0.788" stop-color="#db738e"/><stop offset="0.792" stop-color="#dd768b"/><stop offset="0.796" stop-color="#d76e92"/><stop offset="0.809" stop-color="#a03ab7"/><stop offset="0.817" stop-color="#8633b9"/><stop offset="0.826" stop-color="#8233b9"/><stop offset="0.851" stop-color="#9f39b8"/><stop offset="0.880" stop-color="#7d34b8"/><stop offset="0.998" stop-color="#7a34b7"/></linearGradient><linearGradient id="hb47" gradientUnits="userSpaceOnUse" x1="440" y1="0" x2="678" y2="0"><stop offset="0.002" stop-color="#7a34b7"/><stop offset="0.254" stop-color="#7834b6"/><stop offset="0.296" stop-color="#8433b9"/><stop offset="0.330" stop-color="#7a34b7"/><stop offset="0.376" stop-color="#8333b9"/><stop offset="0.393" stop-color="#9d38b8"/><stop offset="0.405" stop-color="#c55aa2"/><stop offset="0.422" stop-color="#f7a16c"/><stop offset="0.431" stop-color="#fec856"/><stop offset="0.439" stop-color="#fbdf50"/><stop offset="0.447" stop-color="#fcde50"/><stop offset="0.456" stop-color="#fec458"/><stop offset="0.468" stop-color="#ee9078"/><stop offset="0.485" stop-color="#c65aa2"/><stop offset="0.502" stop-color="#9d38b8"/><stop offset="0.519" stop-color="#8533b9"/><stop offset="0.532" stop-color="#8933b9"/><stop offset="0.548" stop-color="#9f39b8"/><stop offset="0.561" stop-color="#9635b9"/><stop offset="0.582" stop-color="#8133b8"/><stop offset="0.666" stop-color="#8033b8"/><stop offset="0.674" stop-color="#8a33b9"/><stop offset="0.679" stop-color="#9836b9"/><stop offset="0.683" stop-color="#ac43b3"/><stop offset="0.691" stop-color="#d56c93"/><stop offset="0.695" stop-color="#e07989"/><stop offset="0.700" stop-color="#e17a88"/><stop offset="0.704" stop-color="#d86e91"/><stop offset="0.712" stop-color="#b046b1"/><stop offset="0.716" stop-color="#9a37b9"/><stop offset="0.725" stop-color="#8433b9"/><stop offset="0.767" stop-color="#8333b9"/><stop offset="0.775" stop-color="#9936b9"/><stop offset="0.779" stop-color="#ae45b2"/><stop offset="0.788" stop-color="#dc748d"/><stop offset="0.792" stop-color="#e9877e"/><stop offset="0.796" stop-color="#ee8e79"/><stop offset="0.800" stop-color="#e8867f"/><stop offset="0.809" stop-color="#c459a2"/><stop offset="0.813" stop-color="#ac43b2"/><stop offset="0.817" stop-color="#9736b9"/><stop offset="0.826" stop-color="#8433b9"/><stop offset="0.838" stop-color="#8d33ba"/><stop offset="0.851" stop-color="#a23bb7"/><stop offset="0.863" stop-color="#9c38b8"/><stop offset="0.880" stop-color="#8133b8"/><stop offset="0.939" stop-color="#7a34b7"/><stop offset="0.998" stop-color="#7a34b7"/></linearGradient><linearGradient id="hb48" gradientUnits="userSpaceOnUse" x1="440" y1="0" x2="678" y2="0"><stop offset="0.002" stop-color="#7a34b7"/><stop offset="0.254" stop-color="#7834b6"/><stop offset="0.296" stop-color="#8433b9"/><stop offset="0.330" stop-color="#7a34b7"/><stop offset="0.376" stop-color="#8133b8"/><stop offset="0.389" stop-color="#9034ba"/><stop offset="0.397" stop-color="#a43cb6"/><stop offset="0.410" stop-color="#ce649a"/><stop offset="0.422" stop-color="#f49c70"/><stop offset="0.431" stop-color="#fec657"/><stop offset="0.439" stop-color="#fae650"/><stop offset="0.447" stop-color="#f7ed51"/><stop offset="0.456" stop-color="#fdd851"/><stop offset="0.468" stop-color="#f7a46b"/><stop offset="0.485" stop-color="#d36995"/><stop offset="0.502" stop-color="#a73fb5"/><stop offset="0.515" stop-color="#8e33ba"/><stop offset="0.527" stop-color="#8733b9"/><stop offset="0.548" stop-color="#a039b8"/><stop offset="0.561" stop-color="#9835b9"/><stop offset="0.578" stop-color="#8433b9"/><stop offset="0.674" stop-color="#8233b8"/><stop offset="0.683" stop-color="#9435b9"/><stop offset="0.687" stop-color="#a73fb5"/><stop offset="0.695" stop-color="#d16797"/><stop offset="0.700" stop-color="#df778a"/><stop offset="0.704" stop-color="#e27c87"/><stop offset="0.708" stop-color="#db738d"/><stop offset="0.716" stop-color="#b64bad"/><stop offset="0.721" stop-color="#a03ab7"/><stop offset="0.729" stop-color="#8633b9"/><stop offset="0.767" stop-color="#7f34b8"/><stop offset="0.775" stop-color="#8c33ba"/><stop offset="0.779" stop-color="#9d38b8"/><stop offset="0.784" stop-color="#b64bae"/><stop offset="0.792" stop-color="#e68282"/><stop offset="0.796" stop-color="#f39a71"/><stop offset="0.800" stop-color="#f7a36b"/><stop offset="0.805" stop-color="#f39972"/><stop offset="0.809" stop-color="#e58183"/><stop offset="0.817" stop-color="#b44aae"/><stop offset="0.821" stop-color="#9d38b8"/><stop offset="0.826" stop-color="#8c33ba"/><stop offset="0.834" stop-color="#8333b9"/><stop offset="0.847" stop-color="#9836b9"/><stop offset="0.859" stop-color="#b247b0"/><stop offset="0.868" stop-color="#ad43b2"/><stop offset="0.880" stop-color="#8e34b9"/><stop offset="0.893" stop-color="#7e34b8"/><stop offset="0.998" stop-color="#7a34b7"/></linearGradient><linearGradient id="hb49" gradientUnits="userSpaceOnUse" x1="440" y1="0" x2="678" y2="0"><stop offset="0.002" stop-color="#7a34b7"/><stop offset="0.254" stop-color="#7834b6"/><stop offset="0.296" stop-color="#8433b9"/><stop offset="0.330" stop-color="#7a34b7"/><stop offset="0.376" stop-color="#8033b8"/><stop offset="0.393" stop-color="#9535b9"/><stop offset="0.401" stop-color="#ac43b3"/><stop offset="0.414" stop-color="#d86f91"/><stop offset="0.426" stop-color="#faac65"/><stop offset="0.435" stop-color="#fdd951"/><stop offset="0.443" stop-color="#f4f552"/><stop offset="0.452" stop-color="#f4f650"/><stop offset="0.460" stop-color="#fbde50"/><stop offset="0.473" stop-color="#f9a868"/><stop offset="0.494" stop-color="#cb609d"/><stop offset="0.506" stop-color="#a63eb6"/><stop offset="0.519" stop-color="#8c33ba"/><stop offset="0.532" stop-color="#8c33ba"/><stop offset="0.548" stop-color="#a13ab7"/><stop offset="0.561" stop-color="#9936b9"/><stop offset="0.578" stop-color="#8533b9"/><stop offset="0.679" stop-color="#8233b8"/><stop offset="0.687" stop-color="#9134ba"/><stop offset="0.691" stop-color="#a23bb7"/><stop offset="0.700" stop-color="#ce639a"/><stop offset="0.704" stop-color="#dd758c"/><stop offset="0.708" stop-color="#e37d86"/><stop offset="0.712" stop-color="#df778a"/><stop offset="0.721" stop-color="#bd52a8"/><stop offset="0.725" stop-color="#a73fb5"/><stop offset="0.733" stop-color="#8b33b9"/><stop offset="0.771" stop-color="#7f34b8"/><stop offset="0.779" stop-color="#8f34ba"/><stop offset="0.784" stop-color="#a23bb7"/><stop offset="0.788" stop-color="#bd52a8"/><stop offset="0.796" stop-color="#ef9177"/><stop offset="0.800" stop-color="#faad65"/><stop offset="0.805" stop-color="#fcb95e"/><stop offset="0.809" stop-color="#f9ad65"/><stop offset="0.813" stop-color="#ee9078"/><stop offset="0.821" stop-color="#bc51a8"/><stop offset="0.826" stop-color="#a23bb7"/><stop offset="0.830" stop-color="#8f34ba"/><stop offset="0.838" stop-color="#8233b9"/><stop offset="0.847" stop-color="#8c33ba"/><stop offset="0.855" stop-color="#a53db6"/><stop offset="0.863" stop-color="#bc50aa"/><stop offset="0.872" stop-color="#bd52a8"/><stop offset="0.889" stop-color="#8e34b9"/><stop offset="0.901" stop-color="#7d34b7"/><stop offset="0.998" stop-color="#7a34b7"/></linearGradient><linearGradient id="hb50" gradientUnits="userSpaceOnUse" x1="440" y1="0" x2="678" y2="0"><stop offset="0.002" stop-color="#7a34b7"/><stop offset="0.254" stop-color="#7834b6"/><stop offset="0.296" stop-color="#8433b9"/><stop offset="0.330" stop-color="#7a34b7"/><stop offset="0.380" stop-color="#8233b8"/><stop offset="0.397" stop-color="#9c37b8"/><stop offset="0.410" stop-color="#c358a4"/><stop offset="0.426" stop-color="#f6a06d"/><stop offset="0.435" stop-color="#fecc54"/><stop offset="0.443" stop-color="#f7ee52"/><stop offset="0.452" stop-color="#f3f850"/><stop offset="0.460" stop-color="#f9e951"/><stop offset="0.468" stop-color="#fecc54"/><stop offset="0.481" stop-color="#f49b71"/><stop offset="0.502" stop-color="#be53a8"/><stop offset="0.515" stop-color="#9a36b9"/><stop offset="0.527" stop-color="#8c33ba"/><stop offset="0.553" stop-color="#a33bb7"/><stop offset="0.578" stop-color="#8633b9"/><stop offset="0.683" stop-color="#8133b8"/><stop offset="0.691" stop-color="#8e34ba"/><stop offset="0.695" stop-color="#9d39b8"/><stop offset="0.704" stop-color="#c95e9e"/><stop offset="0.708" stop-color="#da728e"/><stop offset="0.712" stop-color="#e37d86"/><stop offset="0.716" stop-color="#e17b87"/><stop offset="0.725" stop-color="#c458a3"/><stop offset="0.733" stop-color="#9b37b8"/><stop offset="0.742" stop-color="#8933b9"/><stop offset="0.771" stop-color="#7d34b7"/><stop offset="0.779" stop-color="#8533b9"/><stop offset="0.784" stop-color="#9234ba"/><stop offset="0.788" stop-color="#a83fb5"/><stop offset="0.792" stop-color="#c459a3"/><stop offset="0.800" stop-color="#f6a16d"/><stop offset="0.805" stop-color="#fec258"/><stop offset="0.809" stop-color="#fdd153"/><stop offset="0.813" stop-color="#fdc359"/><stop offset="0.817" stop-color="#f5a16d"/><stop offset="0.826" stop-color="#c459a2"/><stop offset="0.830" stop-color="#a840b4"/><stop offset="0.834" stop-color="#9334b9"/><stop offset="0.838" stop-color="#8633b9"/><stop offset="0.847" stop-color="#8333b9"/><stop offset="0.855" stop-color="#9335b9"/><stop offset="0.863" stop-color="#b349af"/><stop offset="0.872" stop-color="#ca5e9e"/><stop offset="0.876" stop-color="#cc609c"/><stop offset="0.884" stop-color="#ba4faa"/><stop offset="0.893" stop-color="#9a37b8"/><stop offset="0.901" stop-color="#8433b9"/><stop offset="0.926" stop-color="#7a34b7"/><stop offset="0.998" stop-color="#7a34b7"/></linearGradient><linearGradient id="hb51" gradientUnits="userSpaceOnUse" x1="440" y1="0" x2="678" y2="0"><stop offset="0.002" stop-color="#7a34b7"/><stop offset="0.254" stop-color="#7834b6"/><stop offset="0.296" stop-color="#8433b9"/><stop offset="0.330" stop-color="#7a34b7"/><stop offset="0.380" stop-color="#8233b8"/><stop offset="0.397" stop-color="#9936b9"/><stop offset="0.410" stop-color="#be52a8"/><stop offset="0.426" stop-color="#f19475"/><stop offset="0.439" stop-color="#fed053"/><stop offset="0.447" stop-color="#f8ec51"/><stop offset="0.456" stop-color="#f5f252"/><stop offset="0.468" stop-color="#fcd951"/><stop offset="0.481" stop-color="#faad65"/><stop offset="0.494" stop-color="#e37e85"/><stop offset="0.511" stop-color="#af45b2"/><stop offset="0.519" stop-color="#9936b9"/><stop offset="0.532" stop-color="#9134ba"/><stop offset="0.548" stop-color="#a43cb7"/><stop offset="0.561" stop-color="#9b37b9"/><stop offset="0.578" stop-color="#8733b9"/><stop offset="0.687" stop-color="#8033b8"/><stop offset="0.695" stop-color="#8d33ba"/><stop offset="0.700" stop-color="#9c38b8"/><stop offset="0.708" stop-color="#c95d9f"/><stop offset="0.712" stop-color="#da728e"/><stop offset="0.716" stop-color="#e37e85"/><stop offset="0.721" stop-color="#e27c86"/><stop offset="0.729" stop-color="#c65ba1"/><stop offset="0.733" stop-color="#b146b1"/><stop offset="0.737" stop-color="#9e38b8"/><stop offset="0.746" stop-color="#8a33b9"/><stop offset="0.771" stop-color="#7c34b7"/><stop offset="0.784" stop-color="#8733b9"/><stop offset="0.788" stop-color="#9635b9"/><stop offset="0.792" stop-color="#ae44b2"/><stop offset="0.800" stop-color="#e88580"/><stop offset="0.805" stop-color="#faad65"/><stop offset="0.809" stop-color="#fdce54"/><stop offset="0.813" stop-color="#fdd851"/><stop offset="0.817" stop-color="#fec557"/><stop offset="0.821" stop-color="#f69f6e"/><stop offset="0.830" stop-color="#c256a5"/><stop offset="0.834" stop-color="#a53db6"/><stop offset="0.838" stop-color="#9034ba"/><stop offset="0.847" stop-color="#8033b8"/><stop offset="0.855" stop-color="#8533b9"/><stop offset="0.863" stop-color="#9d39b8"/><stop offset="0.876" stop-color="#d06599"/><stop offset="0.880" stop-color="#d66c93"/><stop offset="0.884" stop-color="#d46b94"/><stop offset="0.893" stop-color="#bb50a9"/><stop offset="0.901" stop-color="#9736b9"/><stop offset="0.910" stop-color="#8333b9"/><stop offset="0.935" stop-color="#7a34b7"/><stop offset="0.998" stop-color="#7a34b7"/></linearGradient><linearGradient id="hb52" gradientUnits="userSpaceOnUse" x1="440" y1="0" x2="678" y2="0"><stop offset="0.002" stop-color="#7a34b7"/><stop offset="0.254" stop-color="#7834b6"/><stop offset="0.296" stop-color="#8433b9"/><stop offset="0.330" stop-color="#7a34b7"/><stop offset="0.380" stop-color="#8233b8"/><stop offset="0.397" stop-color="#9735b9"/><stop offset="0.410" stop-color="#b84dac"/><stop offset="0.426" stop-color="#ea897d"/><stop offset="0.439" stop-color="#fdc05a"/><stop offset="0.447" stop-color="#fbdf50"/><stop offset="0.456" stop-color="#f7ee52"/><stop offset="0.464" stop-color="#f8eb51"/><stop offset="0.477" stop-color="#fecd54"/><stop offset="0.489" stop-color="#f69f6e"/><stop offset="0.506" stop-color="#c85d9f"/><stop offset="0.519" stop-color="#a13ab7"/><stop offset="0.527" stop-color="#9434ba"/><stop offset="0.553" stop-color="#a53db6"/><stop offset="0.578" stop-color="#8833b9"/><stop offset="0.691" stop-color="#8133b8"/><stop offset="0.700" stop-color="#9034ba"/><stop offset="0.704" stop-color="#a03ab7"/><stop offset="0.712" stop-color="#cd629b"/><stop offset="0.716" stop-color="#dd758c"/><stop offset="0.721" stop-color="#e47f84"/><stop offset="0.725" stop-color="#e17b87"/><stop offset="0.733" stop-color="#c257a4"/><stop offset="0.742" stop-color="#9c37b8"/><stop offset="0.750" stop-color="#8933b9"/><stop offset="0.775" stop-color="#7c34b7"/><stop offset="0.784" stop-color="#8133b8"/><stop offset="0.792" stop-color="#9b37b9"/><stop offset="0.796" stop-color="#b54bae"/><stop offset="0.805" stop-color="#ec8d7a"/><stop offset="0.809" stop-color="#fbb262"/><stop offset="0.813" stop-color="#fecb55"/><stop offset="0.817" stop-color="#fecb55"/><stop offset="0.821" stop-color="#fbb262"/><stop offset="0.826" stop-color="#ec8c7b"/><stop offset="0.834" stop-color="#b54aae"/><stop offset="0.838" stop-color="#9b37b9"/><stop offset="0.847" stop-color="#8233b8"/><stop offset="0.859" stop-color="#8333b9"/><stop offset="0.868" stop-color="#9a37b9"/><stop offset="0.876" stop-color="#c357a4"/><stop offset="0.884" stop-color="#dd758c"/><stop offset="0.889" stop-color="#df788a"/><stop offset="0.897" stop-color="#c95e9f"/><stop offset="0.905" stop-color="#a13ab7"/><stop offset="0.914" stop-color="#8533b9"/><stop offset="0.931" stop-color="#7c34b7"/><stop offset="0.998" stop-color="#7a34b7"/></linearGradient><linearGradient id="hb53" gradientUnits="userSpaceOnUse" x1="440" y1="0" x2="678" y2="0"><stop offset="0.002" stop-color="#7a34b7"/><stop offset="0.254" stop-color="#7834b6"/><stop offset="0.296" stop-color="#8433b9"/><stop offset="0.330" stop-color="#7a34b7"/><stop offset="0.380" stop-color="#8133b8"/><stop offset="0.401" stop-color="#9d38b8"/><stop offset="0.414" stop-color="#bf54a7"/><stop offset="0.435" stop-color="#f6a16d"/><stop offset="0.447" stop-color="#fdd252"/><stop offset="0.460" stop-color="#f8ed52"/><stop offset="0.473" stop-color="#fae550"/><stop offset="0.485" stop-color="#fec259"/><stop offset="0.498" stop-color="#ed8d7a"/><stop offset="0.515" stop-color="#b74cad"/><stop offset="0.527" stop-color="#9a36b9"/><stop offset="0.540" stop-color="#9f39b8"/><stop offset="0.553" stop-color="#a73eb6"/><stop offset="0.578" stop-color="#8933b9"/><stop offset="0.695" stop-color="#8233b8"/><stop offset="0.704" stop-color="#9234ba"/><stop offset="0.708" stop-color="#a53db6"/><stop offset="0.716" stop-color="#d16698"/><stop offset="0.721" stop-color="#df7889"/><stop offset="0.725" stop-color="#e58084"/><stop offset="0.729" stop-color="#e07a88"/><stop offset="0.737" stop-color="#c054a6"/><stop offset="0.746" stop-color="#9a36b9"/><stop offset="0.754" stop-color="#8633b9"/><stop offset="0.775" stop-color="#7c34b7"/><stop offset="0.788" stop-color="#8433b9"/><stop offset="0.792" stop-color="#8e33ba"/><stop offset="0.796" stop-color="#a23bb7"/><stop offset="0.800" stop-color="#bd51a9"/><stop offset="0.809" stop-color="#f09376"/><stop offset="0.813" stop-color="#fbb361"/><stop offset="0.817" stop-color="#fec458"/><stop offset="0.821" stop-color="#fdbb5c"/><stop offset="0.826" stop-color="#f59e6e"/><stop offset="0.834" stop-color="#c65ba1"/><stop offset="0.838" stop-color="#aa41b4"/><stop offset="0.842" stop-color="#9334ba"/><stop offset="0.851" stop-color="#8033b8"/><stop offset="0.863" stop-color="#8533b9"/><stop offset="0.872" stop-color="#a03ab8"/><stop offset="0.884" stop-color="#d9708f"/><stop offset="0.889" stop-color="#e27b87"/><stop offset="0.893" stop-color="#e27b87"/><stop offset="0.901" stop-color="#ca5f9e"/><stop offset="0.910" stop-color="#a03ab7"/><stop offset="0.918" stop-color="#8533b9"/><stop offset="0.935" stop-color="#7c34b7"/><stop offset="0.998" stop-color="#7a34b7"/></linearGradient><linearGradient id="hb54" gradientUnits="userSpaceOnUse" x1="440" y1="0" x2="678" y2="0"><stop offset="0.002" stop-color="#7a34b7"/><stop offset="0.254" stop-color="#7834b6"/><stop offset="0.296" stop-color="#8433b9"/><stop offset="0.330" stop-color="#7a34b7"/><stop offset="0.380" stop-color="#8133b8"/><stop offset="0.401" stop-color="#9a36b9"/><stop offset="0.414" stop-color="#ba4fab"/><stop offset="0.435" stop-color="#f19574"/><stop offset="0.447" stop-color="#fec657"/><stop offset="0.460" stop-color="#f9e751"/><stop offset="0.473" stop-color="#f7ee52"/><stop offset="0.481" stop-color="#fbe050"/><stop offset="0.489" stop-color="#fec259"/><stop offset="0.502" stop-color="#ea897d"/><stop offset="0.519" stop-color="#b349af"/><stop offset="0.527" stop-color="#a13ab7"/><stop offset="0.540" stop-color="#a23bb7"/><stop offset="0.553" stop-color="#a83fb5"/><stop offset="0.578" stop-color="#8933b9"/><stop offset="0.700" stop-color="#8233b8"/><stop offset="0.708" stop-color="#9535b9"/><stop offset="0.712" stop-color="#a940b4"/><stop offset="0.721" stop-color="#d46b94"/><stop offset="0.725" stop-color="#e27b87"/><stop offset="0.729" stop-color="#e58183"/><stop offset="0.733" stop-color="#df7889"/><stop offset="0.742" stop-color="#bd52a9"/><stop offset="0.746" stop-color="#a73fb5"/><stop offset="0.750" stop-color="#9635b9"/><stop offset="0.758" stop-color="#8333b9"/><stop offset="0.779" stop-color="#7c34b7"/><stop offset="0.792" stop-color="#8633b9"/><stop offset="0.796" stop-color="#9334ba"/><stop offset="0.800" stop-color="#a940b5"/><stop offset="0.809" stop-color="#df788a"/><stop offset="0.813" stop-color="#f39872"/><stop offset="0.817" stop-color="#fbb361"/><stop offset="0.821" stop-color="#fdba5d"/><stop offset="0.826" stop-color="#faab66"/><stop offset="0.830" stop-color="#ec8c7a"/><stop offset="0.838" stop-color="#ba4eab"/><stop offset="0.842" stop-color="#a039b8"/><stop offset="0.851" stop-color="#8333b9"/><stop offset="0.863" stop-color="#8133b8"/><stop offset="0.872" stop-color="#9535b9"/><stop offset="0.876" stop-color="#a73fb5"/><stop offset="0.884" stop-color="#d16698"/><stop offset="0.889" stop-color="#df788a"/><stop offset="0.893" stop-color="#e58183"/><stop offset="0.897" stop-color="#e47f84"/><stop offset="0.905" stop-color="#c95e9e"/><stop offset="0.914" stop-color="#9f39b8"/><stop offset="0.922" stop-color="#8433b9"/><stop offset="0.943" stop-color="#7b34b7"/><stop offset="0.998" stop-color="#7a34b7"/></linearGradient><linearGradient id="hb55" gradientUnits="userSpaceOnUse" x1="440" y1="0" x2="678" y2="0"><stop offset="0.002" stop-color="#7a34b7"/><stop offset="0.254" stop-color="#7834b6"/><stop offset="0.296" stop-color="#8433b9"/><stop offset="0.330" stop-color="#7a34b7"/><stop offset="0.380" stop-color="#8133b8"/><stop offset="0.401" stop-color="#9936b9"/><stop offset="0.414" stop-color="#b74bad"/><stop offset="0.439" stop-color="#f49b70"/><stop offset="0.452" stop-color="#fec756"/><stop offset="0.464" stop-color="#fae650"/><stop offset="0.477" stop-color="#f8eb51"/><stop offset="0.485" stop-color="#fcdb50"/><stop offset="0.494" stop-color="#fdbb5c"/><stop offset="0.506" stop-color="#e58084"/><stop offset="0.519" stop-color="#bb50aa"/><stop offset="0.527" stop-color="#a63eb6"/><stop offset="0.540" stop-color="#a53db6"/><stop offset="0.553" stop-color="#a940b5"/><stop offset="0.574" stop-color="#8c33ba"/><stop offset="0.611" stop-color="#8833b9"/><stop offset="0.700" stop-color="#8033b8"/><stop offset="0.708" stop-color="#8a33b9"/><stop offset="0.712" stop-color="#9936b9"/><stop offset="0.716" stop-color="#ae44b2"/><stop offset="0.725" stop-color="#d86f91"/><stop offset="0.729" stop-color="#e37e85"/><stop offset="0.733" stop-color="#e58183"/><stop offset="0.737" stop-color="#de768b"/><stop offset="0.746" stop-color="#b94dac"/><stop offset="0.750" stop-color="#a33cb7"/><stop offset="0.758" stop-color="#8633b9"/><stop offset="0.771" stop-color="#7c34b7"/><stop offset="0.788" stop-color="#7e34b8"/><stop offset="0.796" stop-color="#8c33ba"/><stop offset="0.800" stop-color="#9e38b8"/><stop offset="0.805" stop-color="#b74cad"/><stop offset="0.813" stop-color="#e9867f"/><stop offset="0.817" stop-color="#f7a36b"/><stop offset="0.821" stop-color="#fcb262"/><stop offset="0.826" stop-color="#faad65"/><stop offset="0.830" stop-color="#f29674"/><stop offset="0.838" stop-color="#c559a2"/><stop offset="0.842" stop-color="#aa41b4"/><stop offset="0.847" stop-color="#9434ba"/><stop offset="0.855" stop-color="#8033b8"/><stop offset="0.868" stop-color="#8333b9"/><stop offset="0.876" stop-color="#9b37b9"/><stop offset="0.880" stop-color="#af45b2"/><stop offset="0.889" stop-color="#d76e91"/><stop offset="0.893" stop-color="#e47f84"/><stop offset="0.897" stop-color="#e9867f"/><stop offset="0.901" stop-color="#e68182"/><stop offset="0.910" stop-color="#c95e9f"/><stop offset="0.918" stop-color="#9e39b8"/><stop offset="0.926" stop-color="#8433b9"/><stop offset="0.943" stop-color="#7c34b7"/><stop offset="0.998" stop-color="#7a34b7"/></linearGradient><linearGradient id="hb56" gradientUnits="userSpaceOnUse" x1="440" y1="0" x2="678" y2="0"><stop offset="0.002" stop-color="#7a34b7"/><stop offset="0.254" stop-color="#7834b6"/><stop offset="0.296" stop-color="#8433b9"/><stop offset="0.330" stop-color="#7a34b7"/><stop offset="0.380" stop-color="#8133b8"/><stop offset="0.401" stop-color="#9735b9"/><stop offset="0.418" stop-color="#be52a8"/><stop offset="0.439" stop-color="#ef9277"/><stop offset="0.456" stop-color="#fec856"/><stop offset="0.468" stop-color="#fae350"/><stop offset="0.481" stop-color="#fae550"/><stop offset="0.489" stop-color="#fdd252"/><stop offset="0.502" stop-color="#f49c70"/><stop offset="0.519" stop-color="#c156a5"/><stop offset="0.532" stop-color="#a63eb6"/><stop offset="0.553" stop-color="#aa41b4"/><stop offset="0.574" stop-color="#8d33ba"/><stop offset="0.599" stop-color="#8833b9"/><stop offset="0.704" stop-color="#8033b8"/><stop offset="0.712" stop-color="#8f34ba"/><stop offset="0.716" stop-color="#a13ab7"/><stop offset="0.725" stop-color="#ce639a"/><stop offset="0.729" stop-color="#df778a"/><stop offset="0.733" stop-color="#e68282"/><stop offset="0.737" stop-color="#e47f84"/><stop offset="0.746" stop-color="#c65aa2"/><stop offset="0.750" stop-color="#ae44b2"/><stop offset="0.754" stop-color="#9a36b9"/><stop offset="0.763" stop-color="#8233b9"/><stop offset="0.784" stop-color="#7c34b7"/><stop offset="0.796" stop-color="#8933b9"/><stop offset="0.800" stop-color="#9735b9"/><stop offset="0.805" stop-color="#ad44b3"/><stop offset="0.813" stop-color="#e07989"/><stop offset="0.817" stop-color="#f19575"/><stop offset="0.821" stop-color="#f9a968"/><stop offset="0.826" stop-color="#faab66"/><stop offset="0.830" stop-color="#f49b71"/><stop offset="0.838" stop-color="#ce639b"/><stop offset="0.842" stop-color="#b349af"/><stop offset="0.847" stop-color="#9c37b9"/><stop offset="0.855" stop-color="#8333b9"/><stop offset="0.868" stop-color="#8033b8"/><stop offset="0.876" stop-color="#9034ba"/><stop offset="0.880" stop-color="#a13ab7"/><stop offset="0.889" stop-color="#cc619c"/><stop offset="0.897" stop-color="#e9867f"/><stop offset="0.901" stop-color="#ec8b7b"/><stop offset="0.905" stop-color="#e78481"/><stop offset="0.914" stop-color="#c85d9f"/><stop offset="0.922" stop-color="#9d38b8"/><stop offset="0.931" stop-color="#8433b9"/><stop offset="0.947" stop-color="#7c34b7"/><stop offset="0.998" stop-color="#7a34b7"/></linearGradient><linearGradient id="hb57" gradientUnits="userSpaceOnUse" x1="440" y1="0" x2="678" y2="0"><stop offset="0.002" stop-color="#7a34b7"/><stop offset="0.254" stop-color="#7834b6"/><stop offset="0.296" stop-color="#8433b9"/><stop offset="0.330" stop-color="#7a34b7"/><stop offset="0.380" stop-color="#8133b8"/><stop offset="0.401" stop-color="#9635b9"/><stop offset="0.418" stop-color="#ba4fab"/><stop offset="0.443" stop-color="#f29674"/><stop offset="0.460" stop-color="#fec756"/><stop offset="0.473" stop-color="#fbe050"/><stop offset="0.481" stop-color="#fae450"/><stop offset="0.489" stop-color="#fdd751"/><stop offset="0.498" stop-color="#fcb85e"/><stop offset="0.511" stop-color="#e27d86"/><stop offset="0.523" stop-color="#bb50aa"/><stop offset="0.532" stop-color="#ab42b4"/><stop offset="0.553" stop-color="#ac42b3"/><stop offset="0.574" stop-color="#8d33ba"/><stop offset="0.599" stop-color="#8833b9"/><stop offset="0.704" stop-color="#7f33b8"/><stop offset="0.712" stop-color="#8b33ba"/><stop offset="0.716" stop-color="#9a36b9"/><stop offset="0.721" stop-color="#b046b1"/><stop offset="0.729" stop-color="#db728e"/><stop offset="0.733" stop-color="#e58183"/><stop offset="0.737" stop-color="#e68282"/><stop offset="0.742" stop-color="#dd768b"/><stop offset="0.750" stop-color="#b64bae"/><stop offset="0.754" stop-color="#9f39b8"/><stop offset="0.763" stop-color="#8433b9"/><stop offset="0.779" stop-color="#7c34b7"/><stop offset="0.796" stop-color="#8633b9"/><stop offset="0.800" stop-color="#9234ba"/><stop offset="0.805" stop-color="#a53db6"/><stop offset="0.813" stop-color="#d66d92"/><stop offset="0.817" stop-color="#ea887e"/><stop offset="0.821" stop-color="#f59d6f"/><stop offset="0.826" stop-color="#f8a669"/><stop offset="0.830" stop-color="#f59d6f"/><stop offset="0.834" stop-color="#e9867f"/><stop offset="0.842" stop-color="#bc51a9"/><stop offset="0.847" stop-color="#a43cb7"/><stop offset="0.855" stop-color="#8533b9"/><stop offset="0.868" stop-color="#7e34b8"/><stop offset="0.876" stop-color="#8a33b9"/><stop offset="0.880" stop-color="#9835b9"/><stop offset="0.884" stop-color="#ac42b3"/><stop offset="0.893" stop-color="#d76d92"/><stop offset="0.901" stop-color="#ed8e7a"/><stop offset="0.905" stop-color="#ed8d7a"/><stop offset="0.910" stop-color="#e68183"/><stop offset="0.918" stop-color="#c256a5"/><stop offset="0.922" stop-color="#ab42b4"/><stop offset="0.926" stop-color="#9835b9"/><stop offset="0.935" stop-color="#8233b8"/><stop offset="0.964" stop-color="#7a34b7"/><stop offset="0.998" stop-color="#7a34b7"/></linearGradient><linearGradient id="hb58" gradientUnits="userSpaceOnUse" x1="440" y1="0" x2="678" y2="0"><stop offset="0.002" stop-color="#7a34b7"/><stop offset="0.254" stop-color="#7834b6"/><stop offset="0.296" stop-color="#8433b9"/><stop offset="0.330" stop-color="#7a34b7"/><stop offset="0.380" stop-color="#8133b8"/><stop offset="0.401" stop-color="#9535ba"/><stop offset="0.414" stop-color="#ad43b3"/><stop offset="0.443" stop-color="#ed8d7a"/><stop offset="0.464" stop-color="#fec657"/><stop offset="0.477" stop-color="#fcde50"/><stop offset="0.485" stop-color="#fbe050"/><stop offset="0.494" stop-color="#fece53"/><stop offset="0.506" stop-color="#f29873"/><stop offset="0.519" stop-color="#cd629b"/><stop offset="0.532" stop-color="#b046b1"/><stop offset="0.553" stop-color="#ae44b2"/><stop offset="0.574" stop-color="#8d33ba"/><stop offset="0.599" stop-color="#8833b9"/><stop offset="0.704" stop-color="#7f34b8"/><stop offset="0.712" stop-color="#8833b9"/><stop offset="0.716" stop-color="#9535ba"/><stop offset="0.721" stop-color="#a940b5"/><stop offset="0.729" stop-color="#d56c93"/><stop offset="0.733" stop-color="#e37d85"/><stop offset="0.737" stop-color="#e78481"/><stop offset="0.742" stop-color="#e27b87"/><stop offset="0.750" stop-color="#bd52a9"/><stop offset="0.754" stop-color="#a53db6"/><stop offset="0.758" stop-color="#9234ba"/><stop offset="0.767" stop-color="#7f33b8"/><stop offset="0.792" stop-color="#7f34b8"/><stop offset="0.800" stop-color="#8e33ba"/><stop offset="0.805" stop-color="#9e38b8"/><stop offset="0.809" stop-color="#b44aaf"/><stop offset="0.817" stop-color="#e27b87"/><stop offset="0.821" stop-color="#f09277"/><stop offset="0.826" stop-color="#f59f6e"/><stop offset="0.830" stop-color="#f49c70"/><stop offset="0.834" stop-color="#ec8b7c"/><stop offset="0.842" stop-color="#c458a3"/><stop offset="0.847" stop-color="#ac43b3"/><stop offset="0.851" stop-color="#9735b9"/><stop offset="0.859" stop-color="#8233b8"/><stop offset="0.872" stop-color="#8233b8"/><stop offset="0.880" stop-color="#9635b9"/><stop offset="0.884" stop-color="#a940b4"/><stop offset="0.897" stop-color="#e48084"/><stop offset="0.901" stop-color="#ed8d7a"/><stop offset="0.905" stop-color="#ee8f79"/><stop offset="0.914" stop-color="#d86f90"/><stop offset="0.922" stop-color="#ae44b2"/><stop offset="0.926" stop-color="#9936b9"/><stop offset="0.935" stop-color="#8233b9"/><stop offset="0.960" stop-color="#7a34b7"/><stop offset="0.998" stop-color="#7a34b7"/></linearGradient><linearGradient id="hb59" gradientUnits="userSpaceOnUse" x1="440" y1="0" x2="678" y2="0"><stop offset="0.002" stop-color="#7a34b7"/><stop offset="0.254" stop-color="#7834b6"/><stop offset="0.296" stop-color="#8433b9"/><stop offset="0.330" stop-color="#7a34b7"/><stop offset="0.380" stop-color="#8133b8"/><stop offset="0.405" stop-color="#9a36b9"/><stop offset="0.422" stop-color="#bd52a9"/><stop offset="0.447" stop-color="#ee9078"/><stop offset="0.468" stop-color="#fec557"/><stop offset="0.481" stop-color="#fcdd50"/><stop offset="0.489" stop-color="#fcdb50"/><stop offset="0.498" stop-color="#fec358"/><stop offset="0.511" stop-color="#ec8b7c"/><stop offset="0.523" stop-color="#c65ba1"/><stop offset="0.536" stop-color="#b147b1"/><stop offset="0.553" stop-color="#b045b1"/><stop offset="0.569" stop-color="#9334ba"/><stop offset="0.590" stop-color="#8733b9"/><stop offset="0.708" stop-color="#8033b8"/><stop offset="0.716" stop-color="#8f34ba"/><stop offset="0.721" stop-color="#a13ab7"/><stop offset="0.729" stop-color="#d06599"/><stop offset="0.733" stop-color="#e07989"/><stop offset="0.737" stop-color="#e78481"/><stop offset="0.742" stop-color="#e58084"/><stop offset="0.746" stop-color="#d97090"/><stop offset="0.754" stop-color="#ac43b3"/><stop offset="0.758" stop-color="#9735b9"/><stop offset="0.767" stop-color="#8033b8"/><stop offset="0.792" stop-color="#7e34b8"/><stop offset="0.800" stop-color="#8b33ba"/><stop offset="0.805" stop-color="#9a36b9"/><stop offset="0.809" stop-color="#af45b2"/><stop offset="0.817" stop-color="#dd758c"/><stop offset="0.821" stop-color="#ec8c7b"/><stop offset="0.826" stop-color="#f49a71"/><stop offset="0.830" stop-color="#f49b71"/><stop offset="0.834" stop-color="#ed8d7a"/><stop offset="0.842" stop-color="#c95d9f"/><stop offset="0.847" stop-color="#b046b1"/><stop offset="0.851" stop-color="#9b37b9"/><stop offset="0.859" stop-color="#8333b9"/><stop offset="0.872" stop-color="#8133b8"/><stop offset="0.880" stop-color="#9535ba"/><stop offset="0.884" stop-color="#a73fb5"/><stop offset="0.897" stop-color="#e37e85"/><stop offset="0.901" stop-color="#ed8c7a"/><stop offset="0.905" stop-color="#ee8f79"/><stop offset="0.910" stop-color="#e88480"/><stop offset="0.918" stop-color="#c65ba1"/><stop offset="0.922" stop-color="#b045b1"/><stop offset="0.926" stop-color="#9b37b9"/><stop offset="0.935" stop-color="#8333b9"/><stop offset="0.952" stop-color="#7c34b7"/><stop offset="0.998" stop-color="#7a34b7"/></linearGradient><linearGradient id="hb60" gradientUnits="userSpaceOnUse" x1="440" y1="0" x2="678" y2="0"><stop offset="0.002" stop-color="#7a34b7"/><stop offset="0.254" stop-color="#7834b6"/><stop offset="0.296" stop-color="#8433b9"/><stop offset="0.330" stop-color="#7a34b7"/><stop offset="0.380" stop-color="#8133b8"/><stop offset="0.405" stop-color="#9936b9"/><stop offset="0.422" stop-color="#bb4faa"/><stop offset="0.447" stop-color="#ec8b7c"/><stop offset="0.468" stop-color="#fec05a"/><stop offset="0.481" stop-color="#fcd950"/><stop offset="0.489" stop-color="#fcd950"/><stop offset="0.498" stop-color="#fec557"/><stop offset="0.511" stop-color="#ee8f79"/><stop offset="0.523" stop-color="#c85d9f"/><stop offset="0.536" stop-color="#b449af"/><stop offset="0.553" stop-color="#b146b1"/><stop offset="0.569" stop-color="#9334ba"/><stop offset="0.590" stop-color="#8733b9"/><stop offset="0.708" stop-color="#7f33b8"/><stop offset="0.716" stop-color="#8d33ba"/><stop offset="0.721" stop-color="#9e38b8"/><stop offset="0.725" stop-color="#b54aae"/><stop offset="0.733" stop-color="#de768b"/><stop offset="0.737" stop-color="#e78381"/><stop offset="0.742" stop-color="#e68282"/><stop offset="0.750" stop-color="#c85d9f"/><stop offset="0.754" stop-color="#b045b1"/><stop offset="0.758" stop-color="#9936b9"/><stop offset="0.767" stop-color="#8133b8"/><stop offset="0.788" stop-color="#7c34b7"/><stop offset="0.800" stop-color="#8b33ba"/><stop offset="0.805" stop-color="#9936b9"/><stop offset="0.809" stop-color="#af45b2"/><stop offset="0.817" stop-color="#dc748c"/><stop offset="0.826" stop-color="#f39a71"/><stop offset="0.830" stop-color="#f49b71"/><stop offset="0.838" stop-color="#de778a"/><stop offset="0.847" stop-color="#b146b1"/><stop offset="0.851" stop-color="#9b37b9"/><stop offset="0.859" stop-color="#8333b9"/><stop offset="0.872" stop-color="#8133b8"/><stop offset="0.880" stop-color="#9434ba"/><stop offset="0.884" stop-color="#a73eb5"/><stop offset="0.897" stop-color="#e37d85"/><stop offset="0.901" stop-color="#ec8c7b"/><stop offset="0.905" stop-color="#ee8f79"/><stop offset="0.910" stop-color="#e88580"/><stop offset="0.918" stop-color="#c75ca0"/><stop offset="0.922" stop-color="#b146b1"/><stop offset="0.926" stop-color="#9b37b9"/><stop offset="0.935" stop-color="#8333b9"/><stop offset="0.964" stop-color="#7a34b7"/><stop offset="0.998" stop-color="#7a34b7"/></linearGradient><clipPath id="cc"><rect x="49.4" y="400.4" width="236.6" height="240"/></clipPath><linearGradient id="hc0" gradientUnits="userSpaceOnUse" x1="49" y1="0" x2="286" y2="0"><stop offset="0.002" stop-color="#6d17af"/><stop offset="0.150" stop-color="#8017b1"/><stop offset="0.175" stop-color="#9720ad"/><stop offset="0.192" stop-color="#b93f99"/><stop offset="0.209" stop-color="#e5756e"/><stop offset="0.222" stop-color="#faac4a"/><stop offset="0.230" stop-color="#fad33a"/><stop offset="0.238" stop-color="#f0f23b"/><stop offset="0.255" stop-color="#eff638"/><stop offset="0.259" stop-color="#f1f03c"/><stop offset="0.268" stop-color="#fad03b"/><stop offset="0.281" stop-color="#f49558"/><stop offset="0.297" stop-color="#cb5288"/><stop offset="0.314" stop-color="#9f27aa"/><stop offset="0.327" stop-color="#8818b1"/><stop offset="0.361" stop-color="#6e17af"/><stop offset="0.466" stop-color="#5b18aa"/><stop offset="0.546" stop-color="#5e18ab"/><stop offset="0.559" stop-color="#6d17af"/><stop offset="0.568" stop-color="#8618b1"/><stop offset="0.572" stop-color="#9a23ac"/><stop offset="0.580" stop-color="#c94f8b"/><stop offset="0.589" stop-color="#f18b5f"/><stop offset="0.593" stop-color="#faac4a"/><stop offset="0.597" stop-color="#fbcb3c"/><stop offset="0.601" stop-color="#f7e03b"/><stop offset="0.605" stop-color="#f4e73c"/><stop offset="0.610" stop-color="#f7de3a"/><stop offset="0.614" stop-color="#fbc73d"/><stop offset="0.618" stop-color="#faa84c"/><stop offset="0.627" stop-color="#dd6977"/><stop offset="0.635" stop-color="#b1379f"/><stop offset="0.643" stop-color="#8a19b0"/><stop offset="0.656" stop-color="#6d17af"/><stop offset="0.681" stop-color="#6517ad"/><stop offset="0.694" stop-color="#6f16af"/><stop offset="0.707" stop-color="#901caf"/><stop offset="0.715" stop-color="#b3389e"/><stop offset="0.728" stop-color="#e37370"/><stop offset="0.736" stop-color="#f59757"/><stop offset="0.745" stop-color="#f9a74d"/><stop offset="0.753" stop-color="#f69a55"/><stop offset="0.766" stop-color="#dd6877"/><stop offset="0.778" stop-color="#b83d9a"/><stop offset="0.791" stop-color="#a229a9"/><stop offset="0.812" stop-color="#a22aa8"/><stop offset="0.863" stop-color="#b53a9c"/><stop offset="0.909" stop-color="#a72ea6"/><stop offset="0.960" stop-color="#8217b1"/><stop offset="0.998" stop-color="#6b17af"/></linearGradient><linearGradient id="hc1" gradientUnits="userSpaceOnUse" x1="49" y1="0" x2="286" y2="0"><stop offset="0.002" stop-color="#6c17af"/><stop offset="0.154" stop-color="#8117b1"/><stop offset="0.175" stop-color="#941eae"/><stop offset="0.192" stop-color="#b63b9b"/><stop offset="0.209" stop-color="#e16f72"/><stop offset="0.222" stop-color="#f9a54e"/><stop offset="0.230" stop-color="#fbcc3c"/><stop offset="0.238" stop-color="#f2ed3d"/><stop offset="0.243" stop-color="#eff638"/><stop offset="0.259" stop-color="#f0f23b"/><stop offset="0.272" stop-color="#fcc13f"/><stop offset="0.285" stop-color="#ee8762"/><stop offset="0.302" stop-color="#c34891"/><stop offset="0.314" stop-color="#a229a9"/><stop offset="0.327" stop-color="#8919b0"/><stop offset="0.352" stop-color="#7216b0"/><stop offset="0.437" stop-color="#5c18aa"/><stop offset="0.542" stop-color="#5c18aa"/><stop offset="0.559" stop-color="#6a17ae"/><stop offset="0.568" stop-color="#8017b1"/><stop offset="0.572" stop-color="#931eae"/><stop offset="0.576" stop-color="#a92fa5"/><stop offset="0.589" stop-color="#eb8066"/><stop offset="0.593" stop-color="#f8a051"/><stop offset="0.597" stop-color="#fcc040"/><stop offset="0.601" stop-color="#f9d93a"/><stop offset="0.605" stop-color="#f5e63c"/><stop offset="0.610" stop-color="#f6e23b"/><stop offset="0.614" stop-color="#facf3b"/><stop offset="0.618" stop-color="#fbb246"/><stop offset="0.622" stop-color="#f4925a"/><stop offset="0.635" stop-color="#ba3f99"/><stop offset="0.639" stop-color="#a32aa8"/><stop offset="0.643" stop-color="#901caf"/><stop offset="0.652" stop-color="#7516b0"/><stop offset="0.669" stop-color="#6517ad"/><stop offset="0.690" stop-color="#6817ae"/><stop offset="0.703" stop-color="#7e16b1"/><stop offset="0.711" stop-color="#9b23ac"/><stop offset="0.724" stop-color="#d05884"/><stop offset="0.736" stop-color="#f3915a"/><stop offset="0.745" stop-color="#f9a54e"/><stop offset="0.753" stop-color="#f79d53"/><stop offset="0.766" stop-color="#e16e73"/><stop offset="0.778" stop-color="#bc4196"/><stop offset="0.791" stop-color="#a32aa8"/><stop offset="0.808" stop-color="#a028aa"/><stop offset="0.859" stop-color="#b43a9d"/><stop offset="0.905" stop-color="#a930a4"/><stop offset="0.960" stop-color="#8217b1"/><stop offset="0.998" stop-color="#6b17af"/></linearGradient><linearGradient id="hc2" gradientUnits="userSpaceOnUse" x1="49" y1="0" x2="286" y2="0"><stop offset="0.002" stop-color="#6c17af"/><stop offset="0.154" stop-color="#8017b1"/><stop offset="0.179" stop-color="#9821ad"/><stop offset="0.196" stop-color="#bd4396"/><stop offset="0.213" stop-color="#e87a6b"/><stop offset="0.226" stop-color="#fbb247"/><stop offset="0.234" stop-color="#f9d83a"/><stop offset="0.243" stop-color="#f0f43a"/><stop offset="0.259" stop-color="#f0f539"/><stop offset="0.272" stop-color="#fbc63e"/><stop offset="0.285" stop-color="#f08b5f"/><stop offset="0.302" stop-color="#c54b8e"/><stop offset="0.319" stop-color="#9a23ac"/><stop offset="0.335" stop-color="#7e16b1"/><stop offset="0.369" stop-color="#6b17af"/><stop offset="0.475" stop-color="#5918a9"/><stop offset="0.546" stop-color="#5d18ab"/><stop offset="0.563" stop-color="#7016b0"/><stop offset="0.572" stop-color="#8c1ab0"/><stop offset="0.576" stop-color="#a229a9"/><stop offset="0.584" stop-color="#d05884"/><stop offset="0.593" stop-color="#f49558"/><stop offset="0.597" stop-color="#fbb545"/><stop offset="0.601" stop-color="#fad13b"/><stop offset="0.605" stop-color="#f6e23b"/><stop offset="0.610" stop-color="#f6e33b"/><stop offset="0.614" stop-color="#f9d63a"/><stop offset="0.618" stop-color="#fcbd41"/><stop offset="0.622" stop-color="#f79e52"/><stop offset="0.631" stop-color="#d7617d"/><stop offset="0.639" stop-color="#ab31a3"/><stop offset="0.643" stop-color="#9620ae"/><stop offset="0.652" stop-color="#7916b1"/><stop offset="0.665" stop-color="#6617ad"/><stop offset="0.690" stop-color="#6717ae"/><stop offset="0.703" stop-color="#7a16b1"/><stop offset="0.711" stop-color="#951fae"/><stop offset="0.719" stop-color="#b93e99"/><stop offset="0.732" stop-color="#e7796b"/><stop offset="0.741" stop-color="#f69b54"/><stop offset="0.749" stop-color="#f9a54e"/><stop offset="0.757" stop-color="#f49558"/><stop offset="0.770" stop-color="#d9637b"/><stop offset="0.783" stop-color="#b53a9c"/><stop offset="0.795" stop-color="#a129a9"/><stop offset="0.816" stop-color="#a42ba8"/><stop offset="0.863" stop-color="#b4399d"/><stop offset="0.914" stop-color="#a52ca7"/><stop offset="0.960" stop-color="#8217b1"/><stop offset="0.998" stop-color="#6b17af"/></linearGradient><linearGradient id="hc3" gradientUnits="userSpaceOnUse" x1="49" y1="0" x2="286" y2="0"><stop offset="0.002" stop-color="#6c17af"/><stop offset="0.154" stop-color="#7f17b1"/><stop offset="0.179" stop-color="#951fae"/><stop offset="0.196" stop-color="#b93e99"/><stop offset="0.217" stop-color="#ee8563"/><stop offset="0.230" stop-color="#fcbf40"/><stop offset="0.238" stop-color="#f6e33b"/><stop offset="0.247" stop-color="#eff638"/><stop offset="0.259" stop-color="#eff638"/><stop offset="0.272" stop-color="#fbca3c"/><stop offset="0.285" stop-color="#f28f5c"/><stop offset="0.306" stop-color="#bc4296"/><stop offset="0.319" stop-color="#9c24ac"/><stop offset="0.331" stop-color="#8417b1"/><stop offset="0.357" stop-color="#6f16af"/><stop offset="0.445" stop-color="#5b18aa"/><stop offset="0.546" stop-color="#5c18aa"/><stop offset="0.563" stop-color="#6d17af"/><stop offset="0.572" stop-color="#8618b1"/><stop offset="0.576" stop-color="#9a23ac"/><stop offset="0.584" stop-color="#c84e8c"/><stop offset="0.593" stop-color="#f08960"/><stop offset="0.597" stop-color="#faa94c"/><stop offset="0.601" stop-color="#fbc73d"/><stop offset="0.605" stop-color="#f8dc3a"/><stop offset="0.610" stop-color="#f6e33b"/><stop offset="0.614" stop-color="#f8dc3a"/><stop offset="0.618" stop-color="#fbc63d"/><stop offset="0.622" stop-color="#faa94c"/><stop offset="0.631" stop-color="#de6b75"/><stop offset="0.639" stop-color="#b3389e"/><stop offset="0.648" stop-color="#8b19b0"/><stop offset="0.660" stop-color="#6b17af"/><stop offset="0.681" stop-color="#6218ac"/><stop offset="0.698" stop-color="#6e16af"/><stop offset="0.711" stop-color="#8f1baf"/><stop offset="0.719" stop-color="#b2389e"/><stop offset="0.732" stop-color="#e37270"/><stop offset="0.741" stop-color="#f59558"/><stop offset="0.749" stop-color="#f9a54e"/><stop offset="0.757" stop-color="#f69856"/><stop offset="0.770" stop-color="#dd6877"/><stop offset="0.783" stop-color="#b83e9a"/><stop offset="0.795" stop-color="#a32aa8"/><stop offset="0.812" stop-color="#a129a9"/><stop offset="0.863" stop-color="#b3399e"/><stop offset="0.909" stop-color="#a72ea6"/><stop offset="0.960" stop-color="#8217b1"/><stop offset="0.998" stop-color="#6b17af"/></linearGradient><linearGradient id="hc4" gradientUnits="userSpaceOnUse" x1="49" y1="0" x2="286" y2="0"><stop offset="0.002" stop-color="#6b17af"/><stop offset="0.158" stop-color="#8017b1"/><stop offset="0.179" stop-color="#931eae"/><stop offset="0.196" stop-color="#b53b9c"/><stop offset="0.213" stop-color="#e16f72"/><stop offset="0.226" stop-color="#f9a44e"/><stop offset="0.234" stop-color="#fbcb3c"/><stop offset="0.243" stop-color="#f3eb3c"/><stop offset="0.247" stop-color="#eff539"/><stop offset="0.259" stop-color="#eff638"/><stop offset="0.268" stop-color="#f7df3b"/><stop offset="0.276" stop-color="#fcbb42"/><stop offset="0.289" stop-color="#ec8165"/><stop offset="0.306" stop-color="#bf4594"/><stop offset="0.319" stop-color="#9e26ab"/><stop offset="0.331" stop-color="#8518b1"/><stop offset="0.361" stop-color="#6c17af"/><stop offset="0.462" stop-color="#5918a9"/><stop offset="0.546" stop-color="#5c18aa"/><stop offset="0.563" stop-color="#6a17ae"/><stop offset="0.572" stop-color="#8117b1"/><stop offset="0.576" stop-color="#931eae"/><stop offset="0.580" stop-color="#a92fa5"/><stop offset="0.593" stop-color="#ea7e68"/><stop offset="0.597" stop-color="#f79d53"/><stop offset="0.601" stop-color="#fcbc42"/><stop offset="0.605" stop-color="#fad53a"/><stop offset="0.610" stop-color="#f6e23b"/><stop offset="0.614" stop-color="#f7df3b"/><stop offset="0.618" stop-color="#fbce3b"/><stop offset="0.622" stop-color="#fbb446"/><stop offset="0.631" stop-color="#e5756e"/><stop offset="0.643" stop-color="#a52ba7"/><stop offset="0.648" stop-color="#911caf"/><stop offset="0.656" stop-color="#7516b0"/><stop offset="0.669" stop-color="#6517ad"/><stop offset="0.690" stop-color="#6417ad"/><stop offset="0.703" stop-color="#7316b0"/><stop offset="0.711" stop-color="#8a19b0"/><stop offset="0.719" stop-color="#ac32a3"/><stop offset="0.732" stop-color="#de6b76"/><stop offset="0.745" stop-color="#f79d53"/><stop offset="0.753" stop-color="#f9a34f"/><stop offset="0.762" stop-color="#f28f5c"/><stop offset="0.783" stop-color="#bc4196"/><stop offset="0.795" stop-color="#a42ba7"/><stop offset="0.816" stop-color="#a22aa8"/><stop offset="0.867" stop-color="#b3399e"/><stop offset="0.914" stop-color="#a42ba8"/><stop offset="0.964" stop-color="#7e16b1"/><stop offset="0.998" stop-color="#6a17ae"/></linearGradient><linearGradient id="hc5" gradientUnits="userSpaceOnUse" x1="49" y1="0" x2="286" y2="0"><stop offset="0.002" stop-color="#6b17af"/><stop offset="0.158" stop-color="#7f17b1"/><stop offset="0.184" stop-color="#9721ad"/><stop offset="0.200" stop-color="#bc4196"/><stop offset="0.222" stop-color="#f08b5f"/><stop offset="0.234" stop-color="#fcc43e"/><stop offset="0.247" stop-color="#f1f13c"/><stop offset="0.259" stop-color="#eff638"/><stop offset="0.268" stop-color="#f6e33b"/><stop offset="0.276" stop-color="#fcc040"/><stop offset="0.289" stop-color="#ee8562"/><stop offset="0.310" stop-color="#b63c9b"/><stop offset="0.323" stop-color="#9620ae"/><stop offset="0.344" stop-color="#7716b1"/><stop offset="0.386" stop-color="#6417ad"/><stop offset="0.513" stop-color="#5819a9"/><stop offset="0.555" stop-color="#5f18ab"/><stop offset="0.568" stop-color="#7016b0"/><stop offset="0.576" stop-color="#8c1ab0"/><stop offset="0.580" stop-color="#a129a9"/><stop offset="0.593" stop-color="#e37370"/><stop offset="0.601" stop-color="#fbb147"/><stop offset="0.605" stop-color="#fbcc3c"/><stop offset="0.610" stop-color="#f7de3a"/><stop offset="0.614" stop-color="#f7e03b"/><stop offset="0.618" stop-color="#f9d53a"/><stop offset="0.622" stop-color="#fcbd41"/><stop offset="0.627" stop-color="#f89f52"/><stop offset="0.635" stop-color="#d8637b"/><stop offset="0.643" stop-color="#ad33a2"/><stop offset="0.648" stop-color="#9721ad"/><stop offset="0.656" stop-color="#7816b1"/><stop offset="0.669" stop-color="#6517ad"/><stop offset="0.694" stop-color="#6517ad"/><stop offset="0.707" stop-color="#7916b1"/><stop offset="0.715" stop-color="#941eae"/><stop offset="0.724" stop-color="#b83d9a"/><stop offset="0.736" stop-color="#e6786c"/><stop offset="0.745" stop-color="#f69856"/><stop offset="0.749" stop-color="#f8a250"/><stop offset="0.757" stop-color="#f89f52"/><stop offset="0.770" stop-color="#e4746f"/><stop offset="0.787" stop-color="#b53b9c"/><stop offset="0.800" stop-color="#a229a9"/><stop offset="0.829" stop-color="#a82fa5"/><stop offset="0.876" stop-color="#b2389e"/><stop offset="0.922" stop-color="#9f27aa"/><stop offset="0.964" stop-color="#7e16b1"/><stop offset="0.998" stop-color="#6917ae"/></linearGradient><linearGradient id="hc6" gradientUnits="userSpaceOnUse" x1="49" y1="0" x2="286" y2="0"><stop offset="0.002" stop-color="#6b17af"/><stop offset="0.158" stop-color="#7e16b1"/><stop offset="0.184" stop-color="#951fae"/><stop offset="0.200" stop-color="#b93e99"/><stop offset="0.217" stop-color="#e4746f"/><stop offset="0.230" stop-color="#faaa4b"/><stop offset="0.238" stop-color="#fad03b"/><stop offset="0.251" stop-color="#eff538"/><stop offset="0.264" stop-color="#f1f13c"/><stop offset="0.276" stop-color="#fcc43e"/><stop offset="0.289" stop-color="#f08a5f"/><stop offset="0.310" stop-color="#b93e99"/><stop offset="0.323" stop-color="#9821ad"/><stop offset="0.340" stop-color="#7c16b1"/><stop offset="0.373" stop-color="#6817ae"/><stop offset="0.483" stop-color="#5819a9"/><stop offset="0.555" stop-color="#5e18ab"/><stop offset="0.568" stop-color="#6d17af"/><stop offset="0.576" stop-color="#8718b1"/><stop offset="0.580" stop-color="#9a23ac"/><stop offset="0.589" stop-color="#c74e8c"/><stop offset="0.597" stop-color="#ee8662"/><stop offset="0.601" stop-color="#f9a64e"/><stop offset="0.605" stop-color="#fcc33f"/><stop offset="0.610" stop-color="#f9d83a"/><stop offset="0.614" stop-color="#f7e03b"/><stop offset="0.618" stop-color="#f9d93a"/><stop offset="0.622" stop-color="#fbc63e"/><stop offset="0.627" stop-color="#faa94c"/><stop offset="0.635" stop-color="#df6c74"/><stop offset="0.643" stop-color="#b43a9d"/><stop offset="0.652" stop-color="#8b1ab0"/><stop offset="0.665" stop-color="#6a17ae"/><stop offset="0.686" stop-color="#6118ac"/><stop offset="0.703" stop-color="#6d17af"/><stop offset="0.715" stop-color="#8e1bb0"/><stop offset="0.724" stop-color="#b1379f"/><stop offset="0.736" stop-color="#e27171"/><stop offset="0.749" stop-color="#f89f52"/><stop offset="0.757" stop-color="#f8a151"/><stop offset="0.770" stop-color="#e7796b"/><stop offset="0.787" stop-color="#b93e99"/><stop offset="0.800" stop-color="#a32aa8"/><stop offset="0.821" stop-color="#a42ba8"/><stop offset="0.867" stop-color="#b2389e"/><stop offset="0.914" stop-color="#a42ba8"/><stop offset="0.964" stop-color="#7e16b1"/><stop offset="0.998" stop-color="#6917ae"/></linearGradient><linearGradient id="hc7" gradientUnits="userSpaceOnUse" x1="49" y1="0" x2="286" y2="0"><stop offset="0.002" stop-color="#6917ae"/><stop offset="0.158" stop-color="#7d16b1"/><stop offset="0.184" stop-color="#921daf"/><stop offset="0.200" stop-color="#b53a9c"/><stop offset="0.217" stop-color="#e16f73"/><stop offset="0.230" stop-color="#f9a44f"/><stop offset="0.238" stop-color="#fbc93c"/><stop offset="0.247" stop-color="#f4e83c"/><stop offset="0.255" stop-color="#eff638"/><stop offset="0.264" stop-color="#f0f23c"/><stop offset="0.276" stop-color="#fbc93d"/><stop offset="0.289" stop-color="#f28f5c"/><stop offset="0.306" stop-color="#c84e8c"/><stop offset="0.319" stop-color="#a42ba7"/><stop offset="0.331" stop-color="#8819b1"/><stop offset="0.357" stop-color="#6e17af"/><stop offset="0.437" stop-color="#5b18aa"/><stop offset="0.551" stop-color="#5c18aa"/><stop offset="0.568" stop-color="#6a17ae"/><stop offset="0.576" stop-color="#8217b1"/><stop offset="0.580" stop-color="#931eae"/><stop offset="0.589" stop-color="#bf4594"/><stop offset="0.597" stop-color="#e97b69"/><stop offset="0.605" stop-color="#fcb844"/><stop offset="0.610" stop-color="#fad03b"/><stop offset="0.614" stop-color="#f8dd3a"/><stop offset="0.618" stop-color="#f8dc3a"/><stop offset="0.622" stop-color="#fbcd3b"/><stop offset="0.631" stop-color="#f49558"/><stop offset="0.639" stop-color="#d25b82"/><stop offset="0.648" stop-color="#a62da6"/><stop offset="0.652" stop-color="#921daf"/><stop offset="0.660" stop-color="#7516b0"/><stop offset="0.673" stop-color="#6417ad"/><stop offset="0.698" stop-color="#6617ad"/><stop offset="0.711" stop-color="#7c16b1"/><stop offset="0.719" stop-color="#9922ad"/><stop offset="0.732" stop-color="#ce5686"/><stop offset="0.745" stop-color="#f28e5c"/><stop offset="0.753" stop-color="#f8a250"/><stop offset="0.762" stop-color="#f79b54"/><stop offset="0.774" stop-color="#e06e73"/><stop offset="0.787" stop-color="#bd4396"/><stop offset="0.800" stop-color="#a52ca7"/><stop offset="0.816" stop-color="#a129a9"/><stop offset="0.867" stop-color="#b1379f"/><stop offset="0.914" stop-color="#a42ba8"/><stop offset="0.964" stop-color="#7e16b1"/><stop offset="0.998" stop-color="#6917ae"/></linearGradient><linearGradient id="hc8" gradientUnits="userSpaceOnUse" x1="49" y1="0" x2="286" y2="0"><stop offset="0.002" stop-color="#6917ae"/><stop offset="0.162" stop-color="#7e16b1"/><stop offset="0.184" stop-color="#901caf"/><stop offset="0.200" stop-color="#b1379f"/><stop offset="0.222" stop-color="#e7796b"/><stop offset="0.234" stop-color="#fbb048"/><stop offset="0.243" stop-color="#f9d53a"/><stop offset="0.255" stop-color="#eff539"/><stop offset="0.264" stop-color="#f0f33b"/><stop offset="0.276" stop-color="#fbcd3c"/><stop offset="0.289" stop-color="#f49359"/><stop offset="0.310" stop-color="#be4495"/><stop offset="0.323" stop-color="#9c24ac"/><stop offset="0.335" stop-color="#8217b1"/><stop offset="0.361" stop-color="#6c17af"/><stop offset="0.445" stop-color="#5918a9"/><stop offset="0.555" stop-color="#5c18aa"/><stop offset="0.572" stop-color="#7016b0"/><stop offset="0.580" stop-color="#8c1ab0"/><stop offset="0.584" stop-color="#a128a9"/><stop offset="0.597" stop-color="#e27171"/><stop offset="0.605" stop-color="#faad49"/><stop offset="0.610" stop-color="#fbc83d"/><stop offset="0.614" stop-color="#f9d93a"/><stop offset="0.618" stop-color="#f8dd3a"/><stop offset="0.622" stop-color="#fad23b"/><stop offset="0.627" stop-color="#fcbd41"/><stop offset="0.635" stop-color="#ec8165"/><stop offset="0.648" stop-color="#ae34a1"/><stop offset="0.652" stop-color="#9922ad"/><stop offset="0.660" stop-color="#7816b1"/><stop offset="0.673" stop-color="#6417ad"/><stop offset="0.694" stop-color="#6218ac"/><stop offset="0.707" stop-color="#6f16af"/><stop offset="0.719" stop-color="#931eaf"/><stop offset="0.728" stop-color="#b73c9b"/><stop offset="0.741" stop-color="#e6766d"/><stop offset="0.749" stop-color="#f59757"/><stop offset="0.757" stop-color="#f9a34f"/><stop offset="0.766" stop-color="#f49359"/><stop offset="0.783" stop-color="#cd5487"/><stop offset="0.795" stop-color="#ad33a2"/><stop offset="0.812" stop-color="#a028aa"/><stop offset="0.871" stop-color="#b1379f"/><stop offset="0.918" stop-color="#a028a9"/><stop offset="0.964" stop-color="#7e16b1"/><stop offset="0.998" stop-color="#6917ae"/></linearGradient><linearGradient id="hc9" gradientUnits="userSpaceOnUse" x1="49" y1="0" x2="286" y2="0"><stop offset="0.002" stop-color="#6917ae"/><stop offset="0.162" stop-color="#7d16b1"/><stop offset="0.188" stop-color="#941eae"/><stop offset="0.205" stop-color="#b83d9a"/><stop offset="0.222" stop-color="#e4746f"/><stop offset="0.234" stop-color="#faa94b"/><stop offset="0.243" stop-color="#fbce3b"/><stop offset="0.255" stop-color="#f0f23c"/><stop offset="0.264" stop-color="#f0f33b"/><stop offset="0.272" stop-color="#f7e03b"/><stop offset="0.281" stop-color="#fcbe40"/><stop offset="0.293" stop-color="#ee8562"/><stop offset="0.314" stop-color="#b53b9c"/><stop offset="0.327" stop-color="#941eae"/><stop offset="0.348" stop-color="#7516b0"/><stop offset="0.386" stop-color="#6218ac"/><stop offset="0.517" stop-color="#5719a9"/><stop offset="0.563" stop-color="#6118ac"/><stop offset="0.576" stop-color="#7816b1"/><stop offset="0.580" stop-color="#8718b1"/><stop offset="0.584" stop-color="#9a23ac"/><stop offset="0.593" stop-color="#c64c8d"/><stop offset="0.601" stop-color="#ed8364"/><stop offset="0.610" stop-color="#fcbe40"/><stop offset="0.614" stop-color="#fad33a"/><stop offset="0.618" stop-color="#f8dc3a"/><stop offset="0.622" stop-color="#f9d63a"/><stop offset="0.627" stop-color="#fcc43e"/><stop offset="0.635" stop-color="#f18b5e"/><stop offset="0.648" stop-color="#b63c9b"/><stop offset="0.652" stop-color="#a028aa"/><stop offset="0.656" stop-color="#8c1ab0"/><stop offset="0.665" stop-color="#7216b0"/><stop offset="0.677" stop-color="#6218ac"/><stop offset="0.698" stop-color="#6317ad"/><stop offset="0.711" stop-color="#7416b0"/><stop offset="0.719" stop-color="#8e1bb0"/><stop offset="0.728" stop-color="#b036a0"/><stop offset="0.741" stop-color="#e17072"/><stop offset="0.753" stop-color="#f79e52"/><stop offset="0.762" stop-color="#f8a051"/><stop offset="0.774" stop-color="#e7796b"/><stop offset="0.791" stop-color="#b93f99"/><stop offset="0.804" stop-color="#a42ba7"/><stop offset="0.829" stop-color="#a62da6"/><stop offset="0.876" stop-color="#b036a0"/><stop offset="0.918" stop-color="#a028aa"/><stop offset="0.964" stop-color="#7e16b1"/><stop offset="0.998" stop-color="#6917ae"/></linearGradient><linearGradient id="hc10" gradientUnits="userSpaceOnUse" x1="49" y1="0" x2="286" y2="0"><stop offset="0.002" stop-color="#6817ae"/><stop offset="0.162" stop-color="#7b16b1"/><stop offset="0.188" stop-color="#911caf"/><stop offset="0.205" stop-color="#b3399d"/><stop offset="0.226" stop-color="#e97c69"/><stop offset="0.238" stop-color="#fbb346"/><stop offset="0.247" stop-color="#f9d63a"/><stop offset="0.255" stop-color="#f2ed3c"/><stop offset="0.264" stop-color="#f1f13c"/><stop offset="0.272" stop-color="#f6e23b"/><stop offset="0.281" stop-color="#fcc23f"/><stop offset="0.293" stop-color="#f08960"/><stop offset="0.314" stop-color="#b83d9a"/><stop offset="0.327" stop-color="#9620ae"/><stop offset="0.344" stop-color="#7916b1"/><stop offset="0.378" stop-color="#6517ad"/><stop offset="0.496" stop-color="#5619a8"/><stop offset="0.559" stop-color="#5d18ab"/><stop offset="0.572" stop-color="#6a17ae"/><stop offset="0.580" stop-color="#8017b1"/><stop offset="0.584" stop-color="#921daf"/><stop offset="0.593" stop-color="#bd4396"/><stop offset="0.601" stop-color="#e6766d"/><stop offset="0.610" stop-color="#fbb048"/><stop offset="0.614" stop-color="#fbc73d"/><stop offset="0.618" stop-color="#fad43a"/><stop offset="0.622" stop-color="#f9d53a"/><stop offset="0.627" stop-color="#fbc83d"/><stop offset="0.635" stop-color="#f49458"/><stop offset="0.643" stop-color="#d45c80"/><stop offset="0.652" stop-color="#a82ea5"/><stop offset="0.656" stop-color="#931eae"/><stop offset="0.665" stop-color="#7516b0"/><stop offset="0.677" stop-color="#6218ac"/><stop offset="0.703" stop-color="#6417ad"/><stop offset="0.715" stop-color="#7916b1"/><stop offset="0.724" stop-color="#951fae"/><stop offset="0.732" stop-color="#b93f99"/><stop offset="0.745" stop-color="#e7796b"/><stop offset="0.753" stop-color="#f69856"/><stop offset="0.762" stop-color="#f8a150"/><stop offset="0.770" stop-color="#f28f5c"/><stop offset="0.787" stop-color="#ca5189"/><stop offset="0.800" stop-color="#ac32a3"/><stop offset="0.816" stop-color="#a028a9"/><stop offset="0.871" stop-color="#b035a0"/><stop offset="0.918" stop-color="#a027aa"/><stop offset="0.964" stop-color="#7e16b1"/><stop offset="0.998" stop-color="#6917ae"/></linearGradient><linearGradient id="hc11" gradientUnits="userSpaceOnUse" x1="49" y1="0" x2="286" y2="0"><stop offset="0.002" stop-color="#6817ae"/><stop offset="0.167" stop-color="#7c16b1"/><stop offset="0.192" stop-color="#931eaf"/><stop offset="0.209" stop-color="#b83d9a"/><stop offset="0.230" stop-color="#ed8364"/><stop offset="0.243" stop-color="#fcba43"/><stop offset="0.251" stop-color="#f8d93a"/><stop offset="0.259" stop-color="#f3eb3c"/><stop offset="0.268" stop-color="#f4e93c"/><stop offset="0.281" stop-color="#fcc43e"/><stop offset="0.293" stop-color="#f18d5d"/><stop offset="0.314" stop-color="#ba3f98"/><stop offset="0.327" stop-color="#9721ad"/><stop offset="0.344" stop-color="#7916b1"/><stop offset="0.378" stop-color="#6417ad"/><stop offset="0.500" stop-color="#5619a8"/><stop offset="0.563" stop-color="#5f18ab"/><stop offset="0.576" stop-color="#6f16af"/><stop offset="0.584" stop-color="#8919b0"/><stop offset="0.593" stop-color="#b2389e"/><stop offset="0.605" stop-color="#ec8265"/><stop offset="0.614" stop-color="#fbb644"/><stop offset="0.618" stop-color="#fbc73d"/><stop offset="0.622" stop-color="#fbcd3c"/><stop offset="0.627" stop-color="#fbc63e"/><stop offset="0.635" stop-color="#f69b54"/><stop offset="0.643" stop-color="#da657a"/><stop offset="0.652" stop-color="#b036a0"/><stop offset="0.660" stop-color="#8818b1"/><stop offset="0.673" stop-color="#6817ae"/><stop offset="0.694" stop-color="#5e18ab"/><stop offset="0.711" stop-color="#6a17ae"/><stop offset="0.724" stop-color="#8a19b0"/><stop offset="0.732" stop-color="#ad33a2"/><stop offset="0.745" stop-color="#df6c75"/><stop offset="0.753" stop-color="#f28f5c"/><stop offset="0.762" stop-color="#f8a051"/><stop offset="0.770" stop-color="#f59658"/><stop offset="0.783" stop-color="#dd6977"/><stop offset="0.795" stop-color="#ba3f99"/><stop offset="0.808" stop-color="#a32aa8"/><stop offset="0.829" stop-color="#a229a9"/><stop offset="0.876" stop-color="#ad33a2"/><stop offset="0.926" stop-color="#9922ad"/><stop offset="0.973" stop-color="#7716b1"/><stop offset="0.998" stop-color="#6917ae"/></linearGradient><linearGradient id="hc12" gradientUnits="userSpaceOnUse" x1="49" y1="0" x2="286" y2="0"><stop offset="0.002" stop-color="#6817ae"/><stop offset="0.171" stop-color="#7c16b1"/><stop offset="0.192" stop-color="#8f1bb0"/><stop offset="0.209" stop-color="#b1379f"/><stop offset="0.226" stop-color="#de6a76"/><stop offset="0.238" stop-color="#f79c53"/><stop offset="0.251" stop-color="#facf3b"/><stop offset="0.259" stop-color="#f5e43b"/><stop offset="0.268" stop-color="#f5e63c"/><stop offset="0.281" stop-color="#fbc63d"/><stop offset="0.293" stop-color="#f3905b"/><stop offset="0.314" stop-color="#bc4296"/><stop offset="0.327" stop-color="#9922ad"/><stop offset="0.340" stop-color="#7f17b1"/><stop offset="0.365" stop-color="#6817ae"/><stop offset="0.462" stop-color="#5819a9"/><stop offset="0.559" stop-color="#5b18aa"/><stop offset="0.576" stop-color="#6b17af"/><stop offset="0.584" stop-color="#8217b1"/><stop offset="0.589" stop-color="#931eae"/><stop offset="0.597" stop-color="#bd4396"/><stop offset="0.610" stop-color="#f18d5d"/><stop offset="0.618" stop-color="#fcb843"/><stop offset="0.622" stop-color="#fcc33f"/><stop offset="0.627" stop-color="#fcc13f"/><stop offset="0.631" stop-color="#fbb445"/><stop offset="0.639" stop-color="#ee8662"/><stop offset="0.652" stop-color="#b73d9a"/><stop offset="0.660" stop-color="#8e1bb0"/><stop offset="0.669" stop-color="#7216b0"/><stop offset="0.686" stop-color="#5e18ab"/><stop offset="0.707" stop-color="#6218ac"/><stop offset="0.719" stop-color="#7516b0"/><stop offset="0.728" stop-color="#901caf"/><stop offset="0.736" stop-color="#b4399d"/><stop offset="0.749" stop-color="#e37270"/><stop offset="0.757" stop-color="#f49359"/><stop offset="0.766" stop-color="#f89f52"/><stop offset="0.774" stop-color="#f3905b"/><stop offset="0.787" stop-color="#d8627c"/><stop offset="0.800" stop-color="#b53a9c"/><stop offset="0.812" stop-color="#a128a9"/><stop offset="0.838" stop-color="#a32aa8"/><stop offset="0.884" stop-color="#aa30a4"/><stop offset="0.935" stop-color="#921daf"/><stop offset="0.998" stop-color="#6817ae"/></linearGradient><linearGradient id="hc13" gradientUnits="userSpaceOnUse" x1="49" y1="0" x2="286" y2="0"><stop offset="0.002" stop-color="#6717ae"/><stop offset="0.171" stop-color="#7a16b1"/><stop offset="0.192" stop-color="#8b19b0"/><stop offset="0.209" stop-color="#ab31a4"/><stop offset="0.226" stop-color="#d7617d"/><stop offset="0.243" stop-color="#f9a34f"/><stop offset="0.255" stop-color="#fad23b"/><stop offset="0.264" stop-color="#f6e13b"/><stop offset="0.272" stop-color="#f7de3a"/><stop offset="0.285" stop-color="#fcb744"/><stop offset="0.297" stop-color="#ec8265"/><stop offset="0.319" stop-color="#b2389e"/><stop offset="0.331" stop-color="#901caf"/><stop offset="0.352" stop-color="#7016b0"/><stop offset="0.407" stop-color="#5c18aa"/><stop offset="0.542" stop-color="#5819a9"/><stop offset="0.572" stop-color="#6318ac"/><stop offset="0.584" stop-color="#7c16b1"/><stop offset="0.589" stop-color="#8b1ab0"/><stop offset="0.597" stop-color="#b2389e"/><stop offset="0.610" stop-color="#ea7d68"/><stop offset="0.618" stop-color="#faaa4b"/><stop offset="0.622" stop-color="#fbb744"/><stop offset="0.627" stop-color="#fcba43"/><stop offset="0.631" stop-color="#fbb246"/><stop offset="0.639" stop-color="#f18b5f"/><stop offset="0.652" stop-color="#be4495"/><stop offset="0.660" stop-color="#951fae"/><stop offset="0.669" stop-color="#7616b0"/><stop offset="0.681" stop-color="#6118ac"/><stop offset="0.707" stop-color="#6018ac"/><stop offset="0.719" stop-color="#6e16af"/><stop offset="0.728" stop-color="#8518b1"/><stop offset="0.736" stop-color="#a72ea6"/><stop offset="0.753" stop-color="#e7786c"/><stop offset="0.762" stop-color="#f59658"/><stop offset="0.770" stop-color="#f79c53"/><stop offset="0.778" stop-color="#f08a5f"/><stop offset="0.800" stop-color="#bb4098"/><stop offset="0.812" stop-color="#a229a9"/><stop offset="0.833" stop-color="#9f27aa"/><stop offset="0.884" stop-color="#a82ea5"/><stop offset="0.935" stop-color="#911caf"/><stop offset="0.998" stop-color="#6817ae"/></linearGradient><linearGradient id="hc14" gradientUnits="userSpaceOnUse" x1="49" y1="0" x2="286" y2="0"><stop offset="0.002" stop-color="#6617ad"/><stop offset="0.175" stop-color="#7b16b1"/><stop offset="0.196" stop-color="#8d1ab0"/><stop offset="0.213" stop-color="#af35a1"/><stop offset="0.234" stop-color="#e6766d"/><stop offset="0.247" stop-color="#faa94c"/><stop offset="0.259" stop-color="#fad43a"/><stop offset="0.268" stop-color="#f7de3a"/><stop offset="0.276" stop-color="#fad43a"/><stop offset="0.289" stop-color="#faa84c"/><stop offset="0.302" stop-color="#e4746f"/><stop offset="0.323" stop-color="#a82ea5"/><stop offset="0.335" stop-color="#8819b1"/><stop offset="0.357" stop-color="#6c17af"/><stop offset="0.420" stop-color="#5b18aa"/><stop offset="0.546" stop-color="#5819a9"/><stop offset="0.576" stop-color="#6617ad"/><stop offset="0.589" stop-color="#8317b1"/><stop offset="0.593" stop-color="#941fae"/><stop offset="0.601" stop-color="#bc4296"/><stop offset="0.614" stop-color="#ee8563"/><stop offset="0.622" stop-color="#faaa4b"/><stop offset="0.627" stop-color="#fbb147"/><stop offset="0.631" stop-color="#fbae49"/><stop offset="0.639" stop-color="#f28f5c"/><stop offset="0.652" stop-color="#c54b8f"/><stop offset="0.660" stop-color="#9c24ab"/><stop offset="0.665" stop-color="#8919b0"/><stop offset="0.677" stop-color="#6717ae"/><stop offset="0.698" stop-color="#5c18aa"/><stop offset="0.715" stop-color="#6417ad"/><stop offset="0.728" stop-color="#7d16b1"/><stop offset="0.736" stop-color="#9b24ac"/><stop offset="0.753" stop-color="#df6b75"/><stop offset="0.766" stop-color="#f59856"/><stop offset="0.774" stop-color="#f69955"/><stop offset="0.787" stop-color="#e4746f"/><stop offset="0.804" stop-color="#b53b9c"/><stop offset="0.816" stop-color="#9f27aa"/><stop offset="0.842" stop-color="#9f27aa"/><stop offset="0.888" stop-color="#a52ca7"/><stop offset="0.943" stop-color="#8919b0"/><stop offset="0.998" stop-color="#6717ae"/></linearGradient><linearGradient id="hc15" gradientUnits="userSpaceOnUse" x1="49" y1="0" x2="286" y2="0"><stop offset="0.002" stop-color="#6617ad"/><stop offset="0.175" stop-color="#7916b1"/><stop offset="0.200" stop-color="#8f1baf"/><stop offset="0.217" stop-color="#b3389e"/><stop offset="0.238" stop-color="#e97c69"/><stop offset="0.251" stop-color="#fbae49"/><stop offset="0.264" stop-color="#fad23b"/><stop offset="0.272" stop-color="#f9d63a"/><stop offset="0.285" stop-color="#fcba42"/><stop offset="0.297" stop-color="#ef8861"/><stop offset="0.319" stop-color="#b73c9b"/><stop offset="0.331" stop-color="#931eae"/><stop offset="0.352" stop-color="#7016b0"/><stop offset="0.390" stop-color="#5f18ab"/><stop offset="0.521" stop-color="#5519a8"/><stop offset="0.572" stop-color="#5f18ab"/><stop offset="0.584" stop-color="#7116b0"/><stop offset="0.593" stop-color="#8c1ab0"/><stop offset="0.601" stop-color="#b2379f"/><stop offset="0.614" stop-color="#e6776d"/><stop offset="0.622" stop-color="#f79c53"/><stop offset="0.627" stop-color="#f9a74d"/><stop offset="0.631" stop-color="#faa84c"/><stop offset="0.639" stop-color="#f3915b"/><stop offset="0.652" stop-color="#ca5189"/><stop offset="0.660" stop-color="#a22aa8"/><stop offset="0.665" stop-color="#8f1baf"/><stop offset="0.677" stop-color="#6917ae"/><stop offset="0.694" stop-color="#5b18aa"/><stop offset="0.719" stop-color="#6517ad"/><stop offset="0.732" stop-color="#8117b1"/><stop offset="0.736" stop-color="#901caf"/><stop offset="0.745" stop-color="#b4399d"/><stop offset="0.757" stop-color="#e37270"/><stop offset="0.766" stop-color="#f3905b"/><stop offset="0.774" stop-color="#f69a55"/><stop offset="0.783" stop-color="#f08b5f"/><stop offset="0.800" stop-color="#c84e8c"/><stop offset="0.812" stop-color="#a82ea5"/><stop offset="0.825" stop-color="#9b24ac"/><stop offset="0.888" stop-color="#a32aa8"/><stop offset="0.943" stop-color="#8819b1"/><stop offset="0.998" stop-color="#6617ad"/></linearGradient><linearGradient id="hc16" gradientUnits="userSpaceOnUse" x1="49" y1="0" x2="286" y2="0"><stop offset="0.002" stop-color="#6517ad"/><stop offset="0.179" stop-color="#7a16b1"/><stop offset="0.200" stop-color="#8b19b0"/><stop offset="0.217" stop-color="#ac32a3"/><stop offset="0.238" stop-color="#e27171"/><stop offset="0.251" stop-color="#f8a151"/><stop offset="0.264" stop-color="#fbc73d"/><stop offset="0.272" stop-color="#fbcf3b"/><stop offset="0.281" stop-color="#fcc43e"/><stop offset="0.293" stop-color="#f69b54"/><stop offset="0.310" stop-color="#d25a82"/><stop offset="0.327" stop-color="#a028a9"/><stop offset="0.340" stop-color="#8217b1"/><stop offset="0.361" stop-color="#6917ae"/><stop offset="0.424" stop-color="#5918a9"/><stop offset="0.555" stop-color="#5819a9"/><stop offset="0.580" stop-color="#6617ad"/><stop offset="0.593" stop-color="#8317b1"/><stop offset="0.597" stop-color="#941eae"/><stop offset="0.605" stop-color="#ba3f98"/><stop offset="0.618" stop-color="#ea7d68"/><stop offset="0.627" stop-color="#f69b54"/><stop offset="0.635" stop-color="#f79d53"/><stop offset="0.643" stop-color="#eb8066"/><stop offset="0.656" stop-color="#bd4296"/><stop offset="0.665" stop-color="#951fae"/><stop offset="0.673" stop-color="#7616b0"/><stop offset="0.686" stop-color="#6018ac"/><stop offset="0.711" stop-color="#5c18aa"/><stop offset="0.728" stop-color="#6e16af"/><stop offset="0.736" stop-color="#8518b1"/><stop offset="0.745" stop-color="#a82ea5"/><stop offset="0.757" stop-color="#da657a"/><stop offset="0.770" stop-color="#f49359"/><stop offset="0.778" stop-color="#f69856"/><stop offset="0.787" stop-color="#ee8563"/><stop offset="0.808" stop-color="#b63c9b"/><stop offset="0.821" stop-color="#9e26ab"/><stop offset="0.842" stop-color="#9b23ac"/><stop offset="0.892" stop-color="#a028a9"/><stop offset="0.956" stop-color="#7f17b1"/><stop offset="0.998" stop-color="#6617ad"/></linearGradient><linearGradient id="hc17" gradientUnits="userSpaceOnUse" x1="49" y1="0" x2="286" y2="0"><stop offset="0.002" stop-color="#6517ad"/><stop offset="0.184" stop-color="#7a16b1"/><stop offset="0.205" stop-color="#8d1ab0"/><stop offset="0.222" stop-color="#b035a0"/><stop offset="0.243" stop-color="#e5756e"/><stop offset="0.255" stop-color="#f9a34f"/><stop offset="0.268" stop-color="#fcc43e"/><stop offset="0.276" stop-color="#fbc63e"/><stop offset="0.289" stop-color="#faaa4b"/><stop offset="0.302" stop-color="#e97b69"/><stop offset="0.323" stop-color="#af34a1"/><stop offset="0.335" stop-color="#8c1ab0"/><stop offset="0.357" stop-color="#6e17af"/><stop offset="0.407" stop-color="#5b18aa"/><stop offset="0.546" stop-color="#5619a8"/><stop offset="0.580" stop-color="#6318ac"/><stop offset="0.593" stop-color="#7b16b1"/><stop offset="0.601" stop-color="#9a23ac"/><stop offset="0.618" stop-color="#e06e73"/><stop offset="0.627" stop-color="#f28f5c"/><stop offset="0.635" stop-color="#f59757"/><stop offset="0.643" stop-color="#ec8165"/><stop offset="0.656" stop-color="#c14792"/><stop offset="0.665" stop-color="#9a23ac"/><stop offset="0.669" stop-color="#8818b1"/><stop offset="0.681" stop-color="#6617ad"/><stop offset="0.698" stop-color="#5918a9"/><stop offset="0.724" stop-color="#6318ac"/><stop offset="0.736" stop-color="#7c16b1"/><stop offset="0.745" stop-color="#9c24ab"/><stop offset="0.762" stop-color="#df6b75"/><stop offset="0.770" stop-color="#f18b5e"/><stop offset="0.778" stop-color="#f69856"/><stop offset="0.787" stop-color="#f18b5e"/><stop offset="0.800" stop-color="#d55e7f"/><stop offset="0.812" stop-color="#b1379f"/><stop offset="0.825" stop-color="#9b24ac"/><stop offset="0.850" stop-color="#9b23ac"/><stop offset="0.897" stop-color="#9d25ab"/><stop offset="0.968" stop-color="#7616b0"/><stop offset="0.998" stop-color="#6517ad"/></linearGradient><linearGradient id="hc18" gradientUnits="userSpaceOnUse" x1="49" y1="0" x2="286" y2="0"><stop offset="0.002" stop-color="#6517ad"/><stop offset="0.184" stop-color="#7816b1"/><stop offset="0.205" stop-color="#8919b1"/><stop offset="0.217" stop-color="#9f27aa"/><stop offset="0.234" stop-color="#c9508a"/><stop offset="0.251" stop-color="#f08960"/><stop offset="0.268" stop-color="#fcb943"/><stop offset="0.276" stop-color="#fcbf40"/><stop offset="0.289" stop-color="#faa94c"/><stop offset="0.302" stop-color="#ea7d68"/><stop offset="0.327" stop-color="#a42ba7"/><stop offset="0.340" stop-color="#8518b1"/><stop offset="0.361" stop-color="#6917ae"/><stop offset="0.420" stop-color="#5918a9"/><stop offset="0.559" stop-color="#5819a9"/><stop offset="0.584" stop-color="#6517ad"/><stop offset="0.597" stop-color="#8017b1"/><stop offset="0.605" stop-color="#a129a9"/><stop offset="0.618" stop-color="#d65f7e"/><stop offset="0.627" stop-color="#ec8265"/><stop offset="0.635" stop-color="#f3905b"/><stop offset="0.643" stop-color="#ec8165"/><stop offset="0.656" stop-color="#c54b8f"/><stop offset="0.665" stop-color="#9e26aa"/><stop offset="0.669" stop-color="#8c1ab0"/><stop offset="0.681" stop-color="#6717ae"/><stop offset="0.703" stop-color="#5919a9"/><stop offset="0.724" stop-color="#6018ac"/><stop offset="0.736" stop-color="#7516b0"/><stop offset="0.745" stop-color="#911daf"/><stop offset="0.753" stop-color="#b53b9c"/><stop offset="0.766" stop-color="#e37270"/><stop offset="0.774" stop-color="#f28e5d"/><stop offset="0.783" stop-color="#f49558"/><stop offset="0.795" stop-color="#e5756e"/><stop offset="0.812" stop-color="#b53b9c"/><stop offset="0.825" stop-color="#9b24ac"/><stop offset="0.846" stop-color="#9720ad"/><stop offset="0.897" stop-color="#9b24ac"/><stop offset="0.964" stop-color="#7716b1"/><stop offset="0.998" stop-color="#6517ad"/></linearGradient><linearGradient id="hc19" gradientUnits="userSpaceOnUse" x1="49" y1="0" x2="286" y2="0"><stop offset="0.002" stop-color="#6417ad"/><stop offset="0.188" stop-color="#7916b1"/><stop offset="0.213" stop-color="#911caf"/><stop offset="0.230" stop-color="#b63c9b"/><stop offset="0.255" stop-color="#f18c5e"/><stop offset="0.268" stop-color="#fbae49"/><stop offset="0.276" stop-color="#fcb844"/><stop offset="0.289" stop-color="#f9a74d"/><stop offset="0.306" stop-color="#e17072"/><stop offset="0.327" stop-color="#a72da6"/><stop offset="0.340" stop-color="#8618b1"/><stop offset="0.361" stop-color="#6917ae"/><stop offset="0.416" stop-color="#5918a9"/><stop offset="0.555" stop-color="#5719a9"/><stop offset="0.584" stop-color="#6218ac"/><stop offset="0.597" stop-color="#7816b1"/><stop offset="0.605" stop-color="#951fae"/><stop offset="0.614" stop-color="#ba3f98"/><stop offset="0.627" stop-color="#e4746e"/><stop offset="0.635" stop-color="#ef8761"/><stop offset="0.643" stop-color="#eb7f66"/><stop offset="0.656" stop-color="#c84f8b"/><stop offset="0.665" stop-color="#a32aa8"/><stop offset="0.669" stop-color="#901caf"/><stop offset="0.681" stop-color="#6917ae"/><stop offset="0.698" stop-color="#5918a9"/><stop offset="0.724" stop-color="#5d18ab"/><stop offset="0.736" stop-color="#7016af"/><stop offset="0.745" stop-color="#8819b1"/><stop offset="0.753" stop-color="#ac32a3"/><stop offset="0.766" stop-color="#dc6878"/><stop offset="0.774" stop-color="#ee8662"/><stop offset="0.783" stop-color="#f3925a"/><stop offset="0.791" stop-color="#ee8563"/><stop offset="0.808" stop-color="#c54b8f"/><stop offset="0.821" stop-color="#a32aa8"/><stop offset="0.838" stop-color="#931eaf"/><stop offset="0.897" stop-color="#9922ac"/><stop offset="0.964" stop-color="#7616b0"/><stop offset="0.998" stop-color="#6417ad"/></linearGradient><linearGradient id="hc20" gradientUnits="userSpaceOnUse" x1="49" y1="0" x2="286" y2="0"><stop offset="0.002" stop-color="#6417ad"/><stop offset="0.188" stop-color="#7716b1"/><stop offset="0.209" stop-color="#8618b1"/><stop offset="0.222" stop-color="#9b24ac"/><stop offset="0.238" stop-color="#c54b8e"/><stop offset="0.259" stop-color="#f28d5d"/><stop offset="0.272" stop-color="#faac4a"/><stop offset="0.285" stop-color="#faac4a"/><stop offset="0.297" stop-color="#f18d5d"/><stop offset="0.314" stop-color="#cd5586"/><stop offset="0.331" stop-color="#9d25ab"/><stop offset="0.344" stop-color="#7f17b1"/><stop offset="0.365" stop-color="#6617ad"/><stop offset="0.428" stop-color="#5819a9"/><stop offset="0.555" stop-color="#5619a8"/><stop offset="0.589" stop-color="#6417ad"/><stop offset="0.601" stop-color="#7c16b1"/><stop offset="0.610" stop-color="#9b24ac"/><stop offset="0.627" stop-color="#dc6778"/><stop offset="0.635" stop-color="#ea7e68"/><stop offset="0.643" stop-color="#e97c69"/><stop offset="0.656" stop-color="#cb5289"/><stop offset="0.669" stop-color="#951fae"/><stop offset="0.677" stop-color="#7516b0"/><stop offset="0.690" stop-color="#5e18ab"/><stop offset="0.719" stop-color="#5918a9"/><stop offset="0.736" stop-color="#6a17ae"/><stop offset="0.749" stop-color="#901caf"/><stop offset="0.757" stop-color="#b43a9d"/><stop offset="0.770" stop-color="#e16f72"/><stop offset="0.778" stop-color="#f08960"/><stop offset="0.787" stop-color="#f28d5d"/><stop offset="0.800" stop-color="#df6c74"/><stop offset="0.816" stop-color="#af35a1"/><stop offset="0.829" stop-color="#9620ae"/><stop offset="0.854" stop-color="#941eae"/><stop offset="0.905" stop-color="#951fae"/><stop offset="0.981" stop-color="#6c17af"/><stop offset="0.998" stop-color="#6417ad"/></linearGradient><linearGradient id="hc21" gradientUnits="userSpaceOnUse" x1="49" y1="0" x2="286" y2="0"><stop offset="0.002" stop-color="#6317ad"/><stop offset="0.192" stop-color="#7716b1"/><stop offset="0.213" stop-color="#8718b1"/><stop offset="0.230" stop-color="#a82ea5"/><stop offset="0.259" stop-color="#ed8364"/><stop offset="0.272" stop-color="#f8a150"/><stop offset="0.285" stop-color="#f9a74d"/><stop offset="0.297" stop-color="#f18d5e"/><stop offset="0.314" stop-color="#cf5685"/><stop offset="0.331" stop-color="#9e26aa"/><stop offset="0.344" stop-color="#8017b1"/><stop offset="0.365" stop-color="#6617ad"/><stop offset="0.424" stop-color="#5819a9"/><stop offset="0.559" stop-color="#5619a8"/><stop offset="0.593" stop-color="#6517ad"/><stop offset="0.605" stop-color="#8117b1"/><stop offset="0.610" stop-color="#901caf"/><stop offset="0.618" stop-color="#b3389e"/><stop offset="0.631" stop-color="#dd6977"/><stop offset="0.639" stop-color="#e7796b"/><stop offset="0.648" stop-color="#e27171"/><stop offset="0.660" stop-color="#be4395"/><stop offset="0.669" stop-color="#9922ac"/><stop offset="0.677" stop-color="#7916b1"/><stop offset="0.690" stop-color="#5f18ab"/><stop offset="0.715" stop-color="#5819a9"/><stop offset="0.736" stop-color="#6617ad"/><stop offset="0.749" stop-color="#8818b1"/><stop offset="0.757" stop-color="#ab31a4"/><stop offset="0.770" stop-color="#da6579"/><stop offset="0.778" stop-color="#ec8265"/><stop offset="0.787" stop-color="#f18b5f"/><stop offset="0.795" stop-color="#ea7d68"/><stop offset="0.816" stop-color="#b1379f"/><stop offset="0.829" stop-color="#9620ad"/><stop offset="0.850" stop-color="#901caf"/><stop offset="0.901" stop-color="#941eae"/><stop offset="0.985" stop-color="#6917ae"/><stop offset="0.998" stop-color="#6318ac"/></linearGradient><linearGradient id="hc22" gradientUnits="userSpaceOnUse" x1="49" y1="0" x2="286" y2="0"><stop offset="0.002" stop-color="#6218ac"/><stop offset="0.196" stop-color="#7716b1"/><stop offset="0.217" stop-color="#8919b0"/><stop offset="0.234" stop-color="#ab31a3"/><stop offset="0.259" stop-color="#e7786c"/><stop offset="0.276" stop-color="#f79e52"/><stop offset="0.289" stop-color="#f79d53"/><stop offset="0.306" stop-color="#e37270"/><stop offset="0.331" stop-color="#a028aa"/><stop offset="0.344" stop-color="#8117b1"/><stop offset="0.365" stop-color="#6617ad"/><stop offset="0.428" stop-color="#5619a8"/><stop offset="0.563" stop-color="#5719a9"/><stop offset="0.593" stop-color="#6218ac"/><stop offset="0.605" stop-color="#7816b1"/><stop offset="0.614" stop-color="#951fae"/><stop offset="0.631" stop-color="#d45d80"/><stop offset="0.639" stop-color="#e27071"/><stop offset="0.648" stop-color="#e06d73"/><stop offset="0.660" stop-color="#c04693"/><stop offset="0.669" stop-color="#9d25ab"/><stop offset="0.673" stop-color="#8b1ab0"/><stop offset="0.686" stop-color="#6617ad"/><stop offset="0.703" stop-color="#5819a9"/><stop offset="0.732" stop-color="#5e18ab"/><stop offset="0.745" stop-color="#7316b0"/><stop offset="0.753" stop-color="#8f1baf"/><stop offset="0.762" stop-color="#b3399e"/><stop offset="0.774" stop-color="#df6c74"/><stop offset="0.783" stop-color="#ed8463"/><stop offset="0.791" stop-color="#ee8662"/><stop offset="0.804" stop-color="#da657a"/><stop offset="0.821" stop-color="#a92fa5"/><stop offset="0.833" stop-color="#921daf"/><stop offset="0.859" stop-color="#901caf"/><stop offset="0.905" stop-color="#911daf"/><stop offset="0.998" stop-color="#6218ac"/></linearGradient><linearGradient id="hc23" gradientUnits="userSpaceOnUse" x1="49" y1="0" x2="286" y2="0"><stop offset="0.002" stop-color="#6218ac"/><stop offset="0.196" stop-color="#7616b0"/><stop offset="0.222" stop-color="#8d1ab0"/><stop offset="0.238" stop-color="#b2379f"/><stop offset="0.264" stop-color="#e97d68"/><stop offset="0.276" stop-color="#f59757"/><stop offset="0.289" stop-color="#f59757"/><stop offset="0.306" stop-color="#e27171"/><stop offset="0.331" stop-color="#a128a9"/><stop offset="0.344" stop-color="#8217b1"/><stop offset="0.365" stop-color="#6617ad"/><stop offset="0.416" stop-color="#5819a9"/><stop offset="0.563" stop-color="#5619a8"/><stop offset="0.597" stop-color="#6417ad"/><stop offset="0.610" stop-color="#7c16b1"/><stop offset="0.618" stop-color="#9a23ac"/><stop offset="0.631" stop-color="#ca518a"/><stop offset="0.639" stop-color="#db6778"/><stop offset="0.648" stop-color="#dd6976"/><stop offset="0.656" stop-color="#cf5785"/><stop offset="0.669" stop-color="#a128a9"/><stop offset="0.673" stop-color="#8f1baf"/><stop offset="0.686" stop-color="#6817ae"/><stop offset="0.703" stop-color="#5619a8"/><stop offset="0.732" stop-color="#5c18aa"/><stop offset="0.745" stop-color="#6e17af"/><stop offset="0.753" stop-color="#8618b1"/><stop offset="0.762" stop-color="#a930a4"/><stop offset="0.774" stop-color="#d9637b"/><stop offset="0.783" stop-color="#ea7e68"/><stop offset="0.791" stop-color="#ee8563"/><stop offset="0.804" stop-color="#dc6877"/><stop offset="0.821" stop-color="#ab31a3"/><stop offset="0.833" stop-color="#921daf"/><stop offset="0.854" stop-color="#8d1ab0"/><stop offset="0.905" stop-color="#8f1baf"/><stop offset="0.998" stop-color="#6118ac"/></linearGradient><linearGradient id="hc24" gradientUnits="userSpaceOnUse" x1="49" y1="0" x2="286" y2="0"><stop offset="0.002" stop-color="#6118ac"/><stop offset="0.196" stop-color="#7516b0"/><stop offset="0.222" stop-color="#8a19b0"/><stop offset="0.238" stop-color="#ad33a2"/><stop offset="0.264" stop-color="#e5766d"/><stop offset="0.276" stop-color="#f28f5c"/><stop offset="0.289" stop-color="#f3925a"/><stop offset="0.306" stop-color="#e16f72"/><stop offset="0.331" stop-color="#a129a9"/><stop offset="0.344" stop-color="#8217b1"/><stop offset="0.361" stop-color="#6917ae"/><stop offset="0.403" stop-color="#5918a9"/><stop offset="0.542" stop-color="#5319a7"/><stop offset="0.597" stop-color="#6118ac"/><stop offset="0.610" stop-color="#7516b0"/><stop offset="0.618" stop-color="#8f1baf"/><stop offset="0.635" stop-color="#cb5289"/><stop offset="0.643" stop-color="#d8637c"/><stop offset="0.652" stop-color="#d6607e"/><stop offset="0.665" stop-color="#b53a9c"/><stop offset="0.673" stop-color="#931daf"/><stop offset="0.681" stop-color="#7516b0"/><stop offset="0.694" stop-color="#5c18aa"/><stop offset="0.719" stop-color="#5619a8"/><stop offset="0.741" stop-color="#6218ac"/><stop offset="0.753" stop-color="#7f17b1"/><stop offset="0.757" stop-color="#8e1bb0"/><stop offset="0.766" stop-color="#b2389e"/><stop offset="0.778" stop-color="#de6a76"/><stop offset="0.787" stop-color="#eb7f67"/><stop offset="0.795" stop-color="#eb7f67"/><stop offset="0.808" stop-color="#d45d80"/><stop offset="0.825" stop-color="#a22aa8"/><stop offset="0.838" stop-color="#8e1bb0"/><stop offset="0.871" stop-color="#8e1bb0"/><stop offset="0.918" stop-color="#8919b0"/><stop offset="0.998" stop-color="#6118ac"/></linearGradient><linearGradient id="hc25" gradientUnits="userSpaceOnUse" x1="49" y1="0" x2="286" y2="0"><stop offset="0.002" stop-color="#6118ac"/><stop offset="0.196" stop-color="#7316b0"/><stop offset="0.222" stop-color="#8818b1"/><stop offset="0.238" stop-color="#aa30a4"/><stop offset="0.264" stop-color="#e17072"/><stop offset="0.281" stop-color="#f18c5e"/><stop offset="0.293" stop-color="#ef8861"/><stop offset="0.310" stop-color="#d8627c"/><stop offset="0.331" stop-color="#a129a9"/><stop offset="0.344" stop-color="#8217b1"/><stop offset="0.365" stop-color="#6617ad"/><stop offset="0.416" stop-color="#5719a9"/><stop offset="0.559" stop-color="#5519a8"/><stop offset="0.601" stop-color="#6218ac"/><stop offset="0.614" stop-color="#7816b1"/><stop offset="0.622" stop-color="#941eae"/><stop offset="0.635" stop-color="#c14792"/><stop offset="0.643" stop-color="#d25a82"/><stop offset="0.652" stop-color="#d35c81"/><stop offset="0.665" stop-color="#b83d9a"/><stop offset="0.673" stop-color="#9720ad"/><stop offset="0.681" stop-color="#7816b1"/><stop offset="0.694" stop-color="#5d18ab"/><stop offset="0.715" stop-color="#5519a8"/><stop offset="0.741" stop-color="#5f18ab"/><stop offset="0.753" stop-color="#7816b1"/><stop offset="0.762" stop-color="#9620ae"/><stop offset="0.778" stop-color="#d7617d"/><stop offset="0.787" stop-color="#e7796b"/><stop offset="0.795" stop-color="#ea7e68"/><stop offset="0.808" stop-color="#d7617d"/><stop offset="0.825" stop-color="#a52ca7"/><stop offset="0.838" stop-color="#8d1ab0"/><stop offset="0.863" stop-color="#8a19b0"/><stop offset="0.909" stop-color="#8a19b0"/><stop offset="0.998" stop-color="#6018ac"/></linearGradient><linearGradient id="hc26" gradientUnits="userSpaceOnUse" x1="49" y1="0" x2="286" y2="0"><stop offset="0.002" stop-color="#5f18ab"/><stop offset="0.200" stop-color="#7416b0"/><stop offset="0.226" stop-color="#8c1ab0"/><stop offset="0.243" stop-color="#b035a0"/><stop offset="0.268" stop-color="#e37270"/><stop offset="0.281" stop-color="#ee8562"/><stop offset="0.293" stop-color="#ec8265"/><stop offset="0.310" stop-color="#d6607e"/><stop offset="0.331" stop-color="#a22aa8"/><stop offset="0.344" stop-color="#8317b1"/><stop offset="0.365" stop-color="#6617ad"/><stop offset="0.416" stop-color="#5619a8"/><stop offset="0.563" stop-color="#5519a8"/><stop offset="0.601" stop-color="#6018ac"/><stop offset="0.614" stop-color="#7216b0"/><stop offset="0.622" stop-color="#8a19b0"/><stop offset="0.635" stop-color="#b73d9a"/><stop offset="0.648" stop-color="#d05884"/><stop offset="0.656" stop-color="#cd5487"/><stop offset="0.669" stop-color="#ab31a3"/><stop offset="0.677" stop-color="#8b19b0"/><stop offset="0.690" stop-color="#6617ad"/><stop offset="0.707" stop-color="#5519a8"/><stop offset="0.736" stop-color="#5919a9"/><stop offset="0.749" stop-color="#6817ae"/><stop offset="0.762" stop-color="#8d1bb0"/><stop offset="0.770" stop-color="#b1369f"/><stop offset="0.783" stop-color="#db6778"/><stop offset="0.791" stop-color="#e87a6a"/><stop offset="0.800" stop-color="#e7786b"/><stop offset="0.812" stop-color="#ce5686"/><stop offset="0.825" stop-color="#a82ea5"/><stop offset="0.838" stop-color="#8d1ab0"/><stop offset="0.859" stop-color="#8718b1"/><stop offset="0.909" stop-color="#8819b1"/><stop offset="0.998" stop-color="#5f18ab"/></linearGradient><linearGradient id="hc27" gradientUnits="userSpaceOnUse" x1="49" y1="0" x2="286" y2="0"><stop offset="0.002" stop-color="#5f18ab"/><stop offset="0.200" stop-color="#7216b0"/><stop offset="0.226" stop-color="#8919b0"/><stop offset="0.243" stop-color="#ab31a3"/><stop offset="0.268" stop-color="#df6c75"/><stop offset="0.285" stop-color="#ec8165"/><stop offset="0.297" stop-color="#e7786c"/><stop offset="0.319" stop-color="#c34991"/><stop offset="0.335" stop-color="#9721ad"/><stop offset="0.348" stop-color="#7c16b1"/><stop offset="0.369" stop-color="#6417ad"/><stop offset="0.424" stop-color="#5519a8"/><stop offset="0.568" stop-color="#5619a8"/><stop offset="0.605" stop-color="#6118ac"/><stop offset="0.618" stop-color="#7516b0"/><stop offset="0.627" stop-color="#8f1baf"/><stop offset="0.643" stop-color="#c34990"/><stop offset="0.652" stop-color="#cc5388"/><stop offset="0.660" stop-color="#c54b8f"/><stop offset="0.673" stop-color="#9f27aa"/><stop offset="0.681" stop-color="#8017b1"/><stop offset="0.694" stop-color="#6018ac"/><stop offset="0.715" stop-color="#5319a7"/><stop offset="0.745" stop-color="#5e18ab"/><stop offset="0.757" stop-color="#7716b1"/><stop offset="0.766" stop-color="#9620ae"/><stop offset="0.783" stop-color="#d55e7f"/><stop offset="0.791" stop-color="#e5756e"/><stop offset="0.800" stop-color="#e6776c"/><stop offset="0.812" stop-color="#d15983"/><stop offset="0.829" stop-color="#9f26aa"/><stop offset="0.842" stop-color="#8919b1"/><stop offset="0.871" stop-color="#8718b1"/><stop offset="0.922" stop-color="#8217b1"/><stop offset="0.998" stop-color="#5f18ab"/></linearGradient><linearGradient id="hc28" gradientUnits="userSpaceOnUse" x1="49" y1="0" x2="286" y2="0"><stop offset="0.002" stop-color="#5e18ab"/><stop offset="0.200" stop-color="#7116b0"/><stop offset="0.226" stop-color="#8718b1"/><stop offset="0.243" stop-color="#a72ea6"/><stop offset="0.268" stop-color="#db6679"/><stop offset="0.285" stop-color="#e87b6a"/><stop offset="0.297" stop-color="#e4746f"/><stop offset="0.319" stop-color="#c24891"/><stop offset="0.335" stop-color="#9721ad"/><stop offset="0.348" stop-color="#7c16b1"/><stop offset="0.369" stop-color="#6218ac"/><stop offset="0.428" stop-color="#5519a8"/><stop offset="0.568" stop-color="#5519a8"/><stop offset="0.610" stop-color="#6218ac"/><stop offset="0.622" stop-color="#7916b1"/><stop offset="0.631" stop-color="#941eae"/><stop offset="0.643" stop-color="#bb4097"/><stop offset="0.652" stop-color="#c74d8d"/><stop offset="0.660" stop-color="#c34990"/><stop offset="0.673" stop-color="#a22aa8"/><stop offset="0.681" stop-color="#8417b1"/><stop offset="0.694" stop-color="#6218ac"/><stop offset="0.711" stop-color="#5519a8"/><stop offset="0.741" stop-color="#5919a9"/><stop offset="0.753" stop-color="#6917ae"/><stop offset="0.766" stop-color="#8f1baf"/><stop offset="0.778" stop-color="#c24891"/><stop offset="0.791" stop-color="#e16f72"/><stop offset="0.800" stop-color="#e5756e"/><stop offset="0.812" stop-color="#d25a82"/><stop offset="0.829" stop-color="#a027aa"/><stop offset="0.842" stop-color="#8818b1"/><stop offset="0.871" stop-color="#8518b1"/><stop offset="0.922" stop-color="#8017b1"/><stop offset="0.998" stop-color="#5e18ab"/></linearGradient><linearGradient id="hc29" gradientUnits="userSpaceOnUse" x1="49" y1="0" x2="286" y2="0"><stop offset="0.002" stop-color="#5e18ab"/><stop offset="0.200" stop-color="#7016b0"/><stop offset="0.226" stop-color="#8417b1"/><stop offset="0.243" stop-color="#a32aa8"/><stop offset="0.268" stop-color="#d65f7e"/><stop offset="0.285" stop-color="#e4746e"/><stop offset="0.297" stop-color="#e16f72"/><stop offset="0.319" stop-color="#c14692"/><stop offset="0.335" stop-color="#9721ad"/><stop offset="0.348" stop-color="#7c16b1"/><stop offset="0.369" stop-color="#6218ac"/><stop offset="0.424" stop-color="#5519a8"/><stop offset="0.572" stop-color="#5519a8"/><stop offset="0.610" stop-color="#6018ac"/><stop offset="0.622" stop-color="#7216b0"/><stop offset="0.631" stop-color="#8a19b0"/><stop offset="0.648" stop-color="#bb4098"/><stop offset="0.656" stop-color="#c34891"/><stop offset="0.665" stop-color="#bb4097"/><stop offset="0.681" stop-color="#8718b1"/><stop offset="0.694" stop-color="#6517ad"/><stop offset="0.711" stop-color="#5519a8"/><stop offset="0.741" stop-color="#5819a9"/><stop offset="0.757" stop-color="#6f16af"/><stop offset="0.766" stop-color="#8a19b0"/><stop offset="0.774" stop-color="#ad33a2"/><stop offset="0.787" stop-color="#d65f7e"/><stop offset="0.795" stop-color="#e27171"/><stop offset="0.804" stop-color="#e06e73"/><stop offset="0.816" stop-color="#c74d8d"/><stop offset="0.829" stop-color="#a128a9"/><stop offset="0.842" stop-color="#8718b1"/><stop offset="0.863" stop-color="#8117b1"/><stop offset="0.914" stop-color="#8117b1"/><stop offset="0.998" stop-color="#5d18ab"/></linearGradient><linearGradient id="hc30" gradientUnits="userSpaceOnUse" x1="49" y1="0" x2="286" y2="0"><stop offset="0.002" stop-color="#5d18ab"/><stop offset="0.200" stop-color="#6f16af"/><stop offset="0.226" stop-color="#8217b1"/><stop offset="0.243" stop-color="#a028aa"/><stop offset="0.272" stop-color="#d8627c"/><stop offset="0.289" stop-color="#e27071"/><stop offset="0.306" stop-color="#d65f7e"/><stop offset="0.331" stop-color="#a129a9"/><stop offset="0.344" stop-color="#8417b1"/><stop offset="0.365" stop-color="#6617ad"/><stop offset="0.407" stop-color="#5619a8"/><stop offset="0.546" stop-color="#5219a7"/><stop offset="0.610" stop-color="#5d18ab"/><stop offset="0.627" stop-color="#7616b0"/><stop offset="0.635" stop-color="#8e1bb0"/><stop offset="0.648" stop-color="#b2389e"/><stop offset="0.656" stop-color="#be4395"/><stop offset="0.669" stop-color="#b1379f"/><stop offset="0.681" stop-color="#8b19b0"/><stop offset="0.694" stop-color="#6717ae"/><stop offset="0.711" stop-color="#5519a8"/><stop offset="0.741" stop-color="#5619a8"/><stop offset="0.757" stop-color="#6c17af"/><stop offset="0.766" stop-color="#8518b1"/><stop offset="0.774" stop-color="#a72da6"/><stop offset="0.787" stop-color="#d15983"/><stop offset="0.795" stop-color="#df6b75"/><stop offset="0.804" stop-color="#df6c75"/><stop offset="0.816" stop-color="#c84e8c"/><stop offset="0.829" stop-color="#a229a9"/><stop offset="0.842" stop-color="#8618b1"/><stop offset="0.863" stop-color="#7f17b1"/><stop offset="0.918" stop-color="#7e16b1"/><stop offset="0.998" stop-color="#5c18aa"/></linearGradient><linearGradient id="hc31" gradientUnits="userSpaceOnUse" x1="49" y1="0" x2="286" y2="0"><stop offset="0.002" stop-color="#5c18aa"/><stop offset="0.200" stop-color="#6e17af"/><stop offset="0.226" stop-color="#8117b1"/><stop offset="0.243" stop-color="#9e26ab"/><stop offset="0.272" stop-color="#d55f7f"/><stop offset="0.289" stop-color="#df6c74"/><stop offset="0.306" stop-color="#d45d80"/><stop offset="0.327" stop-color="#ab31a4"/><stop offset="0.340" stop-color="#8c1ab0"/><stop offset="0.361" stop-color="#6917ae"/><stop offset="0.395" stop-color="#5819a9"/><stop offset="0.546" stop-color="#5219a7"/><stop offset="0.614" stop-color="#5f18ab"/><stop offset="0.631" stop-color="#7916b1"/><stop offset="0.639" stop-color="#911daf"/><stop offset="0.652" stop-color="#b1379f"/><stop offset="0.660" stop-color="#b93e99"/><stop offset="0.673" stop-color="#a72ea6"/><stop offset="0.686" stop-color="#8017b1"/><stop offset="0.698" stop-color="#6118ac"/><stop offset="0.715" stop-color="#5319a7"/><stop offset="0.745" stop-color="#5819a9"/><stop offset="0.757" stop-color="#6917ae"/><stop offset="0.770" stop-color="#901caf"/><stop offset="0.783" stop-color="#c04693"/><stop offset="0.795" stop-color="#dc6778"/><stop offset="0.804" stop-color="#de6a76"/><stop offset="0.816" stop-color="#c94f8b"/><stop offset="0.833" stop-color="#9821ad"/><stop offset="0.846" stop-color="#8217b1"/><stop offset="0.876" stop-color="#7f17b1"/><stop offset="0.926" stop-color="#7a16b1"/><stop offset="0.998" stop-color="#5c18aa"/></linearGradient><linearGradient id="hc32" gradientUnits="userSpaceOnUse" x1="49" y1="0" x2="286" y2="0"><stop offset="0.002" stop-color="#5c18aa"/><stop offset="0.200" stop-color="#6d17af"/><stop offset="0.226" stop-color="#8017b1"/><stop offset="0.243" stop-color="#9c24ac"/><stop offset="0.272" stop-color="#d35b81"/><stop offset="0.289" stop-color="#dd6976"/><stop offset="0.306" stop-color="#d25a82"/><stop offset="0.331" stop-color="#9f27aa"/><stop offset="0.344" stop-color="#8317b1"/><stop offset="0.369" stop-color="#6218ac"/><stop offset="0.416" stop-color="#5519a8"/><stop offset="0.563" stop-color="#5319a7"/><stop offset="0.618" stop-color="#6018ac"/><stop offset="0.631" stop-color="#7316b0"/><stop offset="0.643" stop-color="#951fae"/><stop offset="0.656" stop-color="#b036a0"/><stop offset="0.665" stop-color="#b3399e"/><stop offset="0.677" stop-color="#9d25ab"/><stop offset="0.686" stop-color="#8317b1"/><stop offset="0.703" stop-color="#5d18ab"/><stop offset="0.724" stop-color="#5219a7"/><stop offset="0.749" stop-color="#5b18aa"/><stop offset="0.762" stop-color="#7016b0"/><stop offset="0.770" stop-color="#8b1ab0"/><stop offset="0.783" stop-color="#bb4098"/><stop offset="0.795" stop-color="#d9637b"/><stop offset="0.804" stop-color="#dc6778"/><stop offset="0.816" stop-color="#c9508a"/><stop offset="0.833" stop-color="#9922ad"/><stop offset="0.850" stop-color="#7e16b1"/><stop offset="0.922" stop-color="#7916b1"/><stop offset="0.998" stop-color="#5b18aa"/></linearGradient><linearGradient id="hc33" gradientUnits="userSpaceOnUse" x1="49" y1="0" x2="286" y2="0"><stop offset="0.002" stop-color="#5b18aa"/><stop offset="0.200" stop-color="#6c17af"/><stop offset="0.226" stop-color="#7e16b1"/><stop offset="0.243" stop-color="#9a23ac"/><stop offset="0.272" stop-color="#d05884"/><stop offset="0.289" stop-color="#db6679"/><stop offset="0.306" stop-color="#d05884"/><stop offset="0.331" stop-color="#9f27aa"/><stop offset="0.344" stop-color="#8217b1"/><stop offset="0.365" stop-color="#6517ad"/><stop offset="0.407" stop-color="#5519a8"/><stop offset="0.568" stop-color="#5319a7"/><stop offset="0.618" stop-color="#5f18ab"/><stop offset="0.635" stop-color="#7916b1"/><stop offset="0.648" stop-color="#9b23ac"/><stop offset="0.660" stop-color="#b036a0"/><stop offset="0.673" stop-color="#a72ea6"/><stop offset="0.686" stop-color="#8618b1"/><stop offset="0.703" stop-color="#5f18ab"/><stop offset="0.724" stop-color="#5219a7"/><stop offset="0.749" stop-color="#5918a9"/><stop offset="0.762" stop-color="#6d17af"/><stop offset="0.770" stop-color="#8618b1"/><stop offset="0.778" stop-color="#a62da6"/><stop offset="0.791" stop-color="#cd5587"/><stop offset="0.800" stop-color="#d9637b"/><stop offset="0.808" stop-color="#d7617d"/><stop offset="0.821" stop-color="#bf4594"/><stop offset="0.833" stop-color="#9a23ac"/><stop offset="0.846" stop-color="#8117b1"/><stop offset="0.871" stop-color="#7b16b1"/><stop offset="0.926" stop-color="#7716b1"/><stop offset="0.998" stop-color="#5b18aa"/></linearGradient><linearGradient id="hc34" gradientUnits="userSpaceOnUse" x1="49" y1="0" x2="286" y2="0"><stop offset="0.002" stop-color="#5b18aa"/><stop offset="0.200" stop-color="#6b17af"/><stop offset="0.230" stop-color="#8217b1"/><stop offset="0.247" stop-color="#a028aa"/><stop offset="0.272" stop-color="#cd5586"/><stop offset="0.289" stop-color="#d8627c"/><stop offset="0.306" stop-color="#ce5586"/><stop offset="0.331" stop-color="#9e26ab"/><stop offset="0.344" stop-color="#8217b1"/><stop offset="0.365" stop-color="#6517ad"/><stop offset="0.407" stop-color="#5519a8"/><stop offset="0.568" stop-color="#5319a7"/><stop offset="0.618" stop-color="#5e18ab"/><stop offset="0.635" stop-color="#7616b0"/><stop offset="0.648" stop-color="#9720ad"/><stop offset="0.660" stop-color="#ad33a2"/><stop offset="0.673" stop-color="#a72ea6"/><stop offset="0.690" stop-color="#7c16b1"/><stop offset="0.707" stop-color="#5b18aa"/><stop offset="0.732" stop-color="#5219a7"/><stop offset="0.753" stop-color="#5d18ab"/><stop offset="0.766" stop-color="#7516b0"/><stop offset="0.774" stop-color="#901caf"/><stop offset="0.791" stop-color="#c94f8b"/><stop offset="0.804" stop-color="#d8627c"/><stop offset="0.816" stop-color="#ca508a"/><stop offset="0.833" stop-color="#9b24ac"/><stop offset="0.846" stop-color="#8117b1"/><stop offset="0.867" stop-color="#7916b1"/><stop offset="0.926" stop-color="#7516b0"/><stop offset="0.998" stop-color="#5a18aa"/></linearGradient><linearGradient id="hc35" gradientUnits="userSpaceOnUse" x1="49" y1="0" x2="286" y2="0"><stop offset="0.002" stop-color="#5b18aa"/><stop offset="0.200" stop-color="#6a17ae"/><stop offset="0.230" stop-color="#8117b1"/><stop offset="0.247" stop-color="#9e26ab"/><stop offset="0.272" stop-color="#ca5189"/><stop offset="0.289" stop-color="#d65f7e"/><stop offset="0.306" stop-color="#cc5388"/><stop offset="0.331" stop-color="#9d25ab"/><stop offset="0.344" stop-color="#8217b1"/><stop offset="0.369" stop-color="#6118ac"/><stop offset="0.420" stop-color="#5319a7"/><stop offset="0.572" stop-color="#5319a7"/><stop offset="0.618" stop-color="#5d18ab"/><stop offset="0.635" stop-color="#7316b0"/><stop offset="0.648" stop-color="#921daf"/><stop offset="0.660" stop-color="#a930a4"/><stop offset="0.673" stop-color="#a62da6"/><stop offset="0.690" stop-color="#7f17b1"/><stop offset="0.707" stop-color="#5d18ab"/><stop offset="0.728" stop-color="#5219a7"/><stop offset="0.753" stop-color="#5b18aa"/><stop offset="0.766" stop-color="#7116b0"/><stop offset="0.774" stop-color="#8b1ab0"/><stop offset="0.787" stop-color="#b93e99"/><stop offset="0.800" stop-color="#d25b82"/><stop offset="0.808" stop-color="#d45d80"/><stop offset="0.821" stop-color="#c04693"/><stop offset="0.838" stop-color="#921daf"/><stop offset="0.850" stop-color="#7d16b1"/><stop offset="0.880" stop-color="#7816b1"/><stop offset="0.935" stop-color="#7116b0"/><stop offset="0.998" stop-color="#5918a9"/></linearGradient><linearGradient id="hc36" gradientUnits="userSpaceOnUse" x1="49" y1="0" x2="286" y2="0"><stop offset="0.002" stop-color="#5918a9"/><stop offset="0.200" stop-color="#6917ae"/><stop offset="0.226" stop-color="#7a16b1"/><stop offset="0.243" stop-color="#941eae"/><stop offset="0.272" stop-color="#c84e8c"/><stop offset="0.289" stop-color="#d35b81"/><stop offset="0.306" stop-color="#ca508a"/><stop offset="0.331" stop-color="#9b24ac"/><stop offset="0.344" stop-color="#8117b1"/><stop offset="0.369" stop-color="#6118ac"/><stop offset="0.420" stop-color="#5319a7"/><stop offset="0.576" stop-color="#5319a7"/><stop offset="0.622" stop-color="#5f18ab"/><stop offset="0.639" stop-color="#7916b1"/><stop offset="0.652" stop-color="#9821ad"/><stop offset="0.665" stop-color="#a92fa5"/><stop offset="0.677" stop-color="#9f27aa"/><stop offset="0.690" stop-color="#8117b1"/><stop offset="0.707" stop-color="#5e18ab"/><stop offset="0.728" stop-color="#5219a7"/><stop offset="0.753" stop-color="#5a18aa"/><stop offset="0.766" stop-color="#6e16af"/><stop offset="0.774" stop-color="#8718b1"/><stop offset="0.787" stop-color="#b3399e"/><stop offset="0.800" stop-color="#cf5785"/><stop offset="0.808" stop-color="#d25b82"/><stop offset="0.821" stop-color="#c04693"/><stop offset="0.838" stop-color="#931daf"/><stop offset="0.850" stop-color="#7d16b1"/><stop offset="0.876" stop-color="#7616b0"/><stop offset="0.935" stop-color="#6f16af"/><stop offset="0.998" stop-color="#5919a9"/></linearGradient><linearGradient id="hc37" gradientUnits="userSpaceOnUse" x1="49" y1="0" x2="286" y2="0"><stop offset="0.002" stop-color="#5918a9"/><stop offset="0.205" stop-color="#6917ae"/><stop offset="0.234" stop-color="#8417b1"/><stop offset="0.251" stop-color="#a229a9"/><stop offset="0.276" stop-color="#c9508a"/><stop offset="0.293" stop-color="#d05884"/><stop offset="0.314" stop-color="#bc4197"/><stop offset="0.335" stop-color="#911daf"/><stop offset="0.361" stop-color="#6817ae"/><stop offset="0.395" stop-color="#5619a8"/><stop offset="0.542" stop-color="#5019a6"/><stop offset="0.622" stop-color="#5e18ab"/><stop offset="0.639" stop-color="#7716b1"/><stop offset="0.652" stop-color="#931eae"/><stop offset="0.665" stop-color="#a62ca7"/><stop offset="0.677" stop-color="#9f27aa"/><stop offset="0.694" stop-color="#7816b1"/><stop offset="0.711" stop-color="#5b18aa"/><stop offset="0.741" stop-color="#5219a7"/><stop offset="0.762" stop-color="#6318ac"/><stop offset="0.774" stop-color="#8217b1"/><stop offset="0.783" stop-color="#a027aa"/><stop offset="0.795" stop-color="#c54b8f"/><stop offset="0.808" stop-color="#d05884"/><stop offset="0.821" stop-color="#c04693"/><stop offset="0.838" stop-color="#941eae"/><stop offset="0.854" stop-color="#7816b1"/><stop offset="0.935" stop-color="#6e16af"/><stop offset="0.998" stop-color="#5819a9"/></linearGradient><linearGradient id="hc38" gradientUnits="userSpaceOnUse" x1="49" y1="0" x2="286" y2="0"><stop offset="0.002" stop-color="#5918a9"/><stop offset="0.200" stop-color="#6717ae"/><stop offset="0.230" stop-color="#7d16b1"/><stop offset="0.247" stop-color="#9822ad"/><stop offset="0.276" stop-color="#c74e8c"/><stop offset="0.293" stop-color="#cd5587"/><stop offset="0.314" stop-color="#b93f99"/><stop offset="0.335" stop-color="#8f1baf"/><stop offset="0.361" stop-color="#6817ae"/><stop offset="0.390" stop-color="#5719a9"/><stop offset="0.546" stop-color="#5019a6"/><stop offset="0.622" stop-color="#5d18ab"/><stop offset="0.639" stop-color="#7416b0"/><stop offset="0.656" stop-color="#9821ad"/><stop offset="0.669" stop-color="#a42ba8"/><stop offset="0.681" stop-color="#9721ad"/><stop offset="0.694" stop-color="#7a16b1"/><stop offset="0.711" stop-color="#5c18aa"/><stop offset="0.736" stop-color="#5219a7"/><stop offset="0.757" stop-color="#5c18aa"/><stop offset="0.770" stop-color="#7416b0"/><stop offset="0.778" stop-color="#8e1bb0"/><stop offset="0.795" stop-color="#c14792"/><stop offset="0.808" stop-color="#ce5586"/><stop offset="0.821" stop-color="#bf4594"/><stop offset="0.838" stop-color="#941eae"/><stop offset="0.850" stop-color="#7c16b1"/><stop offset="0.876" stop-color="#7216b0"/><stop offset="0.935" stop-color="#6c17af"/><stop offset="0.998" stop-color="#5819a9"/></linearGradient><linearGradient id="hc39" gradientUnits="userSpaceOnUse" x1="49" y1="0" x2="286" y2="0"><stop offset="0.002" stop-color="#5819a9"/><stop offset="0.200" stop-color="#6617ad"/><stop offset="0.230" stop-color="#7c16b1"/><stop offset="0.247" stop-color="#9721ad"/><stop offset="0.276" stop-color="#c64c8e"/><stop offset="0.293" stop-color="#cb5289"/><stop offset="0.314" stop-color="#b73c9b"/><stop offset="0.335" stop-color="#8e1bb0"/><stop offset="0.361" stop-color="#6617ad"/><stop offset="0.399" stop-color="#5519a8"/><stop offset="0.568" stop-color="#5219a7"/><stop offset="0.622" stop-color="#5c18aa"/><stop offset="0.643" stop-color="#7916b1"/><stop offset="0.665" stop-color="#9f27aa"/><stop offset="0.677" stop-color="#9d25ab"/><stop offset="0.694" stop-color="#7c16b1"/><stop offset="0.711" stop-color="#5d18ab"/><stop offset="0.732" stop-color="#5219a7"/><stop offset="0.757" stop-color="#5c18aa"/><stop offset="0.770" stop-color="#7316b0"/><stop offset="0.778" stop-color="#8c1ab0"/><stop offset="0.795" stop-color="#bf4494"/><stop offset="0.808" stop-color="#cb5288"/><stop offset="0.821" stop-color="#be4495"/><stop offset="0.838" stop-color="#941eae"/><stop offset="0.854" stop-color="#7616b0"/><stop offset="0.947" stop-color="#6617ad"/><stop offset="0.998" stop-color="#5719a9"/></linearGradient><linearGradient id="hc40" gradientUnits="userSpaceOnUse" x1="49" y1="0" x2="286" y2="0"><stop offset="0.002" stop-color="#5819a9"/><stop offset="0.200" stop-color="#6517ad"/><stop offset="0.230" stop-color="#7c16b1"/><stop offset="0.247" stop-color="#9620ae"/><stop offset="0.276" stop-color="#c34990"/><stop offset="0.293" stop-color="#c94f8b"/><stop offset="0.314" stop-color="#b43a9d"/><stop offset="0.335" stop-color="#8b1ab0"/><stop offset="0.361" stop-color="#6617ad"/><stop offset="0.399" stop-color="#5519a8"/><stop offset="0.572" stop-color="#5219a7"/><stop offset="0.627" stop-color="#5e18ab"/><stop offset="0.648" stop-color="#7f17b1"/><stop offset="0.665" stop-color="#9c24ac"/><stop offset="0.677" stop-color="#9c24ac"/><stop offset="0.698" stop-color="#7416b0"/><stop offset="0.719" stop-color="#5619a8"/><stop offset="0.749" stop-color="#5519a8"/><stop offset="0.766" stop-color="#6817ae"/><stop offset="0.778" stop-color="#8a19b0"/><stop offset="0.795" stop-color="#bc4197"/><stop offset="0.808" stop-color="#ca508a"/><stop offset="0.821" stop-color="#bd4395"/><stop offset="0.838" stop-color="#941eae"/><stop offset="0.854" stop-color="#7616b0"/><stop offset="0.884" stop-color="#7016b0"/><stop offset="0.951" stop-color="#6517ad"/><stop offset="0.998" stop-color="#5619a8"/></linearGradient><linearGradient id="hc41" gradientUnits="userSpaceOnUse" x1="49" y1="0" x2="286" y2="0"><stop offset="0.002" stop-color="#5819a9"/><stop offset="0.200" stop-color="#6517ad"/><stop offset="0.230" stop-color="#7a16b1"/><stop offset="0.247" stop-color="#951fae"/><stop offset="0.272" stop-color="#be4395"/><stop offset="0.293" stop-color="#c64d8d"/><stop offset="0.314" stop-color="#b2389f"/><stop offset="0.335" stop-color="#8a19b0"/><stop offset="0.361" stop-color="#6517ad"/><stop offset="0.395" stop-color="#5519a8"/><stop offset="0.576" stop-color="#5319a7"/><stop offset="0.622" stop-color="#5b18aa"/><stop offset="0.643" stop-color="#7416b0"/><stop offset="0.665" stop-color="#9922ac"/><stop offset="0.677" stop-color="#9b24ac"/><stop offset="0.698" stop-color="#7616b0"/><stop offset="0.719" stop-color="#5719a9"/><stop offset="0.745" stop-color="#5319a7"/><stop offset="0.762" stop-color="#6118ac"/><stop offset="0.774" stop-color="#7c16b1"/><stop offset="0.783" stop-color="#951fae"/><stop offset="0.800" stop-color="#c14792"/><stop offset="0.812" stop-color="#c64d8d"/><stop offset="0.825" stop-color="#b43a9d"/><stop offset="0.842" stop-color="#8a19b0"/><stop offset="0.859" stop-color="#7316b0"/><stop offset="0.947" stop-color="#6517ad"/><stop offset="0.998" stop-color="#5619a8"/></linearGradient><linearGradient id="hc42" gradientUnits="userSpaceOnUse" x1="49" y1="0" x2="286" y2="0"><stop offset="0.002" stop-color="#5719a9"/><stop offset="0.200" stop-color="#6417ad"/><stop offset="0.230" stop-color="#7a16b1"/><stop offset="0.247" stop-color="#941eae"/><stop offset="0.272" stop-color="#bc4197"/><stop offset="0.293" stop-color="#c44a8f"/><stop offset="0.314" stop-color="#af35a0"/><stop offset="0.335" stop-color="#8818b1"/><stop offset="0.361" stop-color="#6417ad"/><stop offset="0.399" stop-color="#5419a8"/><stop offset="0.576" stop-color="#5219a7"/><stop offset="0.627" stop-color="#5c18aa"/><stop offset="0.648" stop-color="#7a16b1"/><stop offset="0.669" stop-color="#9a23ac"/><stop offset="0.681" stop-color="#9620ae"/><stop offset="0.703" stop-color="#6f16af"/><stop offset="0.724" stop-color="#5519a8"/><stop offset="0.753" stop-color="#5619a8"/><stop offset="0.770" stop-color="#7016b0"/><stop offset="0.783" stop-color="#941eae"/><stop offset="0.800" stop-color="#be4494"/><stop offset="0.812" stop-color="#c54b8e"/><stop offset="0.825" stop-color="#b3399e"/><stop offset="0.842" stop-color="#8a19b0"/><stop offset="0.859" stop-color="#7316b0"/><stop offset="0.951" stop-color="#6417ad"/><stop offset="0.998" stop-color="#5619a8"/></linearGradient><linearGradient id="hc43" gradientUnits="userSpaceOnUse" x1="49" y1="0" x2="286" y2="0"><stop offset="0.002" stop-color="#5619a8"/><stop offset="0.200" stop-color="#6417ad"/><stop offset="0.230" stop-color="#7916b1"/><stop offset="0.247" stop-color="#931daf"/><stop offset="0.276" stop-color="#be4395"/><stop offset="0.297" stop-color="#c04593"/><stop offset="0.319" stop-color="#a62da6"/><stop offset="0.335" stop-color="#8618b1"/><stop offset="0.361" stop-color="#6417ad"/><stop offset="0.403" stop-color="#5319a7"/><stop offset="0.580" stop-color="#5219a7"/><stop offset="0.627" stop-color="#5c18aa"/><stop offset="0.648" stop-color="#7816b1"/><stop offset="0.669" stop-color="#9821ad"/><stop offset="0.681" stop-color="#951fae"/><stop offset="0.703" stop-color="#7016b0"/><stop offset="0.724" stop-color="#5519a8"/><stop offset="0.749" stop-color="#5519a8"/><stop offset="0.766" stop-color="#6617ad"/><stop offset="0.783" stop-color="#921daf"/><stop offset="0.800" stop-color="#bc4197"/><stop offset="0.812" stop-color="#c34990"/><stop offset="0.825" stop-color="#b3389e"/><stop offset="0.842" stop-color="#8b19b0"/><stop offset="0.859" stop-color="#7316b0"/><stop offset="0.951" stop-color="#6417ad"/><stop offset="0.998" stop-color="#5619a8"/></linearGradient><linearGradient id="hc44" gradientUnits="userSpaceOnUse" x1="49" y1="0" x2="286" y2="0"><stop offset="0.002" stop-color="#5619a8"/><stop offset="0.200" stop-color="#6218ac"/><stop offset="0.230" stop-color="#7816b1"/><stop offset="0.251" stop-color="#9822ad"/><stop offset="0.276" stop-color="#bb4097"/><stop offset="0.297" stop-color="#bd4395"/><stop offset="0.323" stop-color="#9c24ac"/><stop offset="0.340" stop-color="#7d16b1"/><stop offset="0.365" stop-color="#5f18ab"/><stop offset="0.411" stop-color="#5219a7"/><stop offset="0.589" stop-color="#5319a7"/><stop offset="0.627" stop-color="#5b18aa"/><stop offset="0.648" stop-color="#7516b0"/><stop offset="0.669" stop-color="#951fae"/><stop offset="0.681" stop-color="#941eae"/><stop offset="0.707" stop-color="#6917ae"/><stop offset="0.728" stop-color="#5319a7"/><stop offset="0.753" stop-color="#5619a8"/><stop offset="0.770" stop-color="#6e17af"/><stop offset="0.783" stop-color="#8f1baf"/><stop offset="0.800" stop-color="#ba3f99"/><stop offset="0.812" stop-color="#c14792"/><stop offset="0.829" stop-color="#a930a4"/><stop offset="0.842" stop-color="#8c1ab0"/><stop offset="0.859" stop-color="#7316b0"/><stop offset="0.901" stop-color="#6e17af"/><stop offset="0.998" stop-color="#5619a8"/></linearGradient><linearGradient id="hc45" gradientUnits="userSpaceOnUse" x1="49" y1="0" x2="286" y2="0"><stop offset="0.002" stop-color="#5619a8"/><stop offset="0.200" stop-color="#6218ac"/><stop offset="0.230" stop-color="#7716b1"/><stop offset="0.251" stop-color="#9720ad"/><stop offset="0.276" stop-color="#b93e99"/><stop offset="0.297" stop-color="#bb4098"/><stop offset="0.323" stop-color="#9a23ac"/><stop offset="0.340" stop-color="#7c16b1"/><stop offset="0.365" stop-color="#5f18ab"/><stop offset="0.411" stop-color="#5219a7"/><stop offset="0.593" stop-color="#5319a7"/><stop offset="0.631" stop-color="#5d18ab"/><stop offset="0.665" stop-color="#8f1baf"/><stop offset="0.677" stop-color="#951fae"/><stop offset="0.694" stop-color="#8117b1"/><stop offset="0.719" stop-color="#5a18aa"/><stop offset="0.745" stop-color="#5319a7"/><stop offset="0.762" stop-color="#5f18ab"/><stop offset="0.778" stop-color="#8117b1"/><stop offset="0.795" stop-color="#af35a1"/><stop offset="0.808" stop-color="#bf4594"/><stop offset="0.821" stop-color="#b83d9a"/><stop offset="0.842" stop-color="#8c1ab0"/><stop offset="0.859" stop-color="#7316b0"/><stop offset="0.909" stop-color="#6c17af"/><stop offset="0.998" stop-color="#5619a8"/></linearGradient><linearGradient id="hc46" gradientUnits="userSpaceOnUse" x1="49" y1="0" x2="286" y2="0"><stop offset="0.002" stop-color="#5519a8"/><stop offset="0.205" stop-color="#6218ac"/><stop offset="0.234" stop-color="#7a16b1"/><stop offset="0.251" stop-color="#951fae"/><stop offset="0.276" stop-color="#b63c9b"/><stop offset="0.297" stop-color="#b83d9a"/><stop offset="0.319" stop-color="#9f27aa"/><stop offset="0.335" stop-color="#8117b1"/><stop offset="0.365" stop-color="#5e18ab"/><stop offset="0.416" stop-color="#5219a7"/><stop offset="0.597" stop-color="#5219a7"/><stop offset="0.631" stop-color="#5c18aa"/><stop offset="0.665" stop-color="#8c1ab0"/><stop offset="0.681" stop-color="#921daf"/><stop offset="0.711" stop-color="#6517ad"/><stop offset="0.736" stop-color="#5219a7"/><stop offset="0.757" stop-color="#5918a9"/><stop offset="0.774" stop-color="#7516b0"/><stop offset="0.787" stop-color="#9721ad"/><stop offset="0.804" stop-color="#ba3f98"/><stop offset="0.816" stop-color="#bb4097"/><stop offset="0.833" stop-color="#9f27aa"/><stop offset="0.846" stop-color="#8417b1"/><stop offset="0.863" stop-color="#7016b0"/><stop offset="0.956" stop-color="#6118ac"/><stop offset="0.998" stop-color="#5519a8"/></linearGradient><linearGradient id="hc47" gradientUnits="userSpaceOnUse" x1="49" y1="0" x2="286" y2="0"><stop offset="0.002" stop-color="#5519a8"/><stop offset="0.200" stop-color="#6018ac"/><stop offset="0.230" stop-color="#7416b0"/><stop offset="0.251" stop-color="#921daf"/><stop offset="0.276" stop-color="#b4399d"/><stop offset="0.297" stop-color="#b53b9c"/><stop offset="0.323" stop-color="#951fae"/><stop offset="0.344" stop-color="#7216b0"/><stop offset="0.373" stop-color="#5919a9"/><stop offset="0.470" stop-color="#4f19a6"/><stop offset="0.622" stop-color="#5619a8"/><stop offset="0.643" stop-color="#6917ae"/><stop offset="0.669" stop-color="#8e1bb0"/><stop offset="0.681" stop-color="#911caf"/><stop offset="0.715" stop-color="#6018ac"/><stop offset="0.736" stop-color="#5219a7"/><stop offset="0.757" stop-color="#5918a9"/><stop offset="0.774" stop-color="#7416b0"/><stop offset="0.787" stop-color="#951fae"/><stop offset="0.804" stop-color="#b73d9a"/><stop offset="0.816" stop-color="#ba3f99"/><stop offset="0.833" stop-color="#9f26aa"/><stop offset="0.846" stop-color="#8417b1"/><stop offset="0.867" stop-color="#6e17af"/><stop offset="0.951" stop-color="#6218ac"/><stop offset="0.998" stop-color="#5519a8"/></linearGradient><linearGradient id="hc48" gradientUnits="userSpaceOnUse" x1="49" y1="0" x2="286" y2="0"><stop offset="0.002" stop-color="#5519a8"/><stop offset="0.200" stop-color="#5f18ab"/><stop offset="0.230" stop-color="#7216b0"/><stop offset="0.251" stop-color="#901caf"/><stop offset="0.276" stop-color="#b1379f"/><stop offset="0.297" stop-color="#b3389e"/><stop offset="0.323" stop-color="#931eaf"/><stop offset="0.348" stop-color="#6c17af"/><stop offset="0.378" stop-color="#5619a8"/><stop offset="0.517" stop-color="#4f19a6"/><stop offset="0.622" stop-color="#5619a8"/><stop offset="0.648" stop-color="#6d17af"/><stop offset="0.673" stop-color="#8f1bb0"/><stop offset="0.690" stop-color="#8818b1"/><stop offset="0.724" stop-color="#5819a9"/><stop offset="0.749" stop-color="#5319a7"/><stop offset="0.770" stop-color="#6917ae"/><stop offset="0.787" stop-color="#921daf"/><stop offset="0.804" stop-color="#b43a9d"/><stop offset="0.816" stop-color="#b73c9b"/><stop offset="0.833" stop-color="#9d25ab"/><stop offset="0.846" stop-color="#8317b1"/><stop offset="0.867" stop-color="#6e17af"/><stop offset="0.956" stop-color="#6118ac"/><stop offset="0.998" stop-color="#5519a8"/></linearGradient><linearGradient id="hc49" gradientUnits="userSpaceOnUse" x1="49" y1="0" x2="286" y2="0"><stop offset="0.002" stop-color="#5419a7"/><stop offset="0.205" stop-color="#5f18ab"/><stop offset="0.234" stop-color="#7616b0"/><stop offset="0.255" stop-color="#951fae"/><stop offset="0.281" stop-color="#b1379f"/><stop offset="0.302" stop-color="#ad33a2"/><stop offset="0.331" stop-color="#8317b1"/><stop offset="0.361" stop-color="#5f18ab"/><stop offset="0.403" stop-color="#5219a7"/><stop offset="0.610" stop-color="#5219a7"/><stop offset="0.639" stop-color="#6018ac"/><stop offset="0.673" stop-color="#8c1ab0"/><stop offset="0.690" stop-color="#8818b1"/><stop offset="0.724" stop-color="#5918a9"/><stop offset="0.749" stop-color="#5319a7"/><stop offset="0.770" stop-color="#6817ae"/><stop offset="0.787" stop-color="#8e1bb0"/><stop offset="0.804" stop-color="#b1379f"/><stop offset="0.816" stop-color="#b43a9d"/><stop offset="0.833" stop-color="#9c25ab"/><stop offset="0.846" stop-color="#8217b1"/><stop offset="0.867" stop-color="#6d17af"/><stop offset="0.951" stop-color="#6118ac"/><stop offset="0.998" stop-color="#5519a8"/></linearGradient><linearGradient id="hc50" gradientUnits="userSpaceOnUse" x1="49" y1="0" x2="286" y2="0"><stop offset="0.002" stop-color="#5319a7"/><stop offset="0.205" stop-color="#5f18ab"/><stop offset="0.234" stop-color="#7416b0"/><stop offset="0.255" stop-color="#921daf"/><stop offset="0.281" stop-color="#ae34a1"/><stop offset="0.302" stop-color="#aa30a4"/><stop offset="0.331" stop-color="#8117b1"/><stop offset="0.361" stop-color="#5e18ab"/><stop offset="0.411" stop-color="#5019a6"/><stop offset="0.618" stop-color="#5319a7"/><stop offset="0.643" stop-color="#6317ad"/><stop offset="0.673" stop-color="#8a19b0"/><stop offset="0.690" stop-color="#8618b1"/><stop offset="0.724" stop-color="#5918a9"/><stop offset="0.749" stop-color="#5319a7"/><stop offset="0.770" stop-color="#6617ad"/><stop offset="0.787" stop-color="#8b1ab0"/><stop offset="0.804" stop-color="#ad33a2"/><stop offset="0.816" stop-color="#b2389f"/><stop offset="0.833" stop-color="#9b23ac"/><stop offset="0.850" stop-color="#7b16b1"/><stop offset="0.871" stop-color="#6b17af"/><stop offset="0.951" stop-color="#6118ac"/><stop offset="0.998" stop-color="#5519a8"/></linearGradient><linearGradient id="hc51" gradientUnits="userSpaceOnUse" x1="49" y1="0" x2="286" y2="0"><stop offset="0.002" stop-color="#5319a7"/><stop offset="0.205" stop-color="#5e18ab"/><stop offset="0.234" stop-color="#7216b0"/><stop offset="0.259" stop-color="#9620ae"/><stop offset="0.285" stop-color="#ad33a2"/><stop offset="0.306" stop-color="#a42ba8"/><stop offset="0.331" stop-color="#7f17b1"/><stop offset="0.361" stop-color="#5e18ab"/><stop offset="0.407" stop-color="#5019a6"/><stop offset="0.622" stop-color="#5319a7"/><stop offset="0.648" stop-color="#6617ad"/><stop offset="0.673" stop-color="#8618b1"/><stop offset="0.690" stop-color="#8518b1"/><stop offset="0.728" stop-color="#5619a8"/><stop offset="0.753" stop-color="#5519a8"/><stop offset="0.770" stop-color="#6417ad"/><stop offset="0.787" stop-color="#8818b1"/><stop offset="0.804" stop-color="#aa30a4"/><stop offset="0.816" stop-color="#af35a1"/><stop offset="0.833" stop-color="#9922ad"/><stop offset="0.850" stop-color="#7a16b1"/><stop offset="0.871" stop-color="#6b17af"/><stop offset="0.956" stop-color="#5f18ab"/><stop offset="0.998" stop-color="#5519a8"/></linearGradient><linearGradient id="hc52" gradientUnits="userSpaceOnUse" x1="49" y1="0" x2="286" y2="0"><stop offset="0.002" stop-color="#5319a7"/><stop offset="0.205" stop-color="#5c18aa"/><stop offset="0.238" stop-color="#7616b0"/><stop offset="0.264" stop-color="#9922ad"/><stop offset="0.285" stop-color="#aa30a4"/><stop offset="0.306" stop-color="#a128a9"/><stop offset="0.331" stop-color="#7e16b1"/><stop offset="0.361" stop-color="#5c18aa"/><stop offset="0.411" stop-color="#5019a6"/><stop offset="0.622" stop-color="#5319a7"/><stop offset="0.648" stop-color="#6417ad"/><stop offset="0.677" stop-color="#8618b1"/><stop offset="0.694" stop-color="#7f17b1"/><stop offset="0.728" stop-color="#5619a8"/><stop offset="0.753" stop-color="#5319a7"/><stop offset="0.774" stop-color="#6a17ae"/><stop offset="0.791" stop-color="#8f1baf"/><stop offset="0.808" stop-color="#ab31a3"/><stop offset="0.821" stop-color="#aa30a4"/><stop offset="0.846" stop-color="#8017b1"/><stop offset="0.867" stop-color="#6b17af"/><stop offset="0.960" stop-color="#5e18ab"/><stop offset="0.998" stop-color="#5519a8"/></linearGradient><linearGradient id="hc53" gradientUnits="userSpaceOnUse" x1="49" y1="0" x2="286" y2="0"><stop offset="0.002" stop-color="#5219a7"/><stop offset="0.205" stop-color="#5c18aa"/><stop offset="0.238" stop-color="#7416b0"/><stop offset="0.264" stop-color="#951fae"/><stop offset="0.289" stop-color="#a72da6"/><stop offset="0.310" stop-color="#9922ad"/><stop offset="0.335" stop-color="#7616b0"/><stop offset="0.365" stop-color="#5918a9"/><stop offset="0.432" stop-color="#4f19a6"/><stop offset="0.627" stop-color="#5319a7"/><stop offset="0.652" stop-color="#6717ae"/><stop offset="0.677" stop-color="#8317b1"/><stop offset="0.694" stop-color="#7e16b1"/><stop offset="0.728" stop-color="#5619a8"/><stop offset="0.757" stop-color="#5519a8"/><stop offset="0.778" stop-color="#7016b0"/><stop offset="0.795" stop-color="#951fae"/><stop offset="0.808" stop-color="#a72ea6"/><stop offset="0.821" stop-color="#a72ea6"/><stop offset="0.846" stop-color="#7f17b1"/><stop offset="0.867" stop-color="#6b17af"/><stop offset="0.964" stop-color="#5c18aa"/><stop offset="0.998" stop-color="#5519a8"/></linearGradient><linearGradient id="hc54" gradientUnits="userSpaceOnUse" x1="49" y1="0" x2="286" y2="0"><stop offset="0.002" stop-color="#5219a7"/><stop offset="0.205" stop-color="#5a18aa"/><stop offset="0.238" stop-color="#7116b0"/><stop offset="0.268" stop-color="#9620ad"/><stop offset="0.289" stop-color="#a22aa8"/><stop offset="0.310" stop-color="#9620ae"/><stop offset="0.335" stop-color="#7416b0"/><stop offset="0.369" stop-color="#5619a8"/><stop offset="0.462" stop-color="#4f19a6"/><stop offset="0.631" stop-color="#5419a7"/><stop offset="0.660" stop-color="#6f16af"/><stop offset="0.681" stop-color="#8117b1"/><stop offset="0.703" stop-color="#7316b0"/><stop offset="0.728" stop-color="#5619a8"/><stop offset="0.757" stop-color="#5519a8"/><stop offset="0.778" stop-color="#6e17af"/><stop offset="0.795" stop-color="#911daf"/><stop offset="0.812" stop-color="#a62da6"/><stop offset="0.825" stop-color="#a128a9"/><stop offset="0.846" stop-color="#7e16b1"/><stop offset="0.867" stop-color="#6a17ae"/><stop offset="0.968" stop-color="#5b18aa"/><stop offset="0.998" stop-color="#5419a8"/></linearGradient><linearGradient id="hc55" gradientUnits="userSpaceOnUse" x1="49" y1="0" x2="286" y2="0"><stop offset="0.002" stop-color="#5219a7"/><stop offset="0.205" stop-color="#5918a9"/><stop offset="0.238" stop-color="#6f16af"/><stop offset="0.268" stop-color="#921daf"/><stop offset="0.289" stop-color="#9f26aa"/><stop offset="0.314" stop-color="#8e1bb0"/><stop offset="0.357" stop-color="#5d18ab"/><stop offset="0.399" stop-color="#5019a6"/><stop offset="0.627" stop-color="#5219a7"/><stop offset="0.656" stop-color="#6717ae"/><stop offset="0.681" stop-color="#7e16b1"/><stop offset="0.703" stop-color="#7216b0"/><stop offset="0.732" stop-color="#5519a8"/><stop offset="0.762" stop-color="#5619a8"/><stop offset="0.783" stop-color="#7416b0"/><stop offset="0.800" stop-color="#9620ae"/><stop offset="0.812" stop-color="#a32aa8"/><stop offset="0.829" stop-color="#9922ad"/><stop offset="0.850" stop-color="#7716b1"/><stop offset="0.871" stop-color="#6817ae"/><stop offset="0.956" stop-color="#5e18ab"/><stop offset="0.998" stop-color="#5319a7"/></linearGradient><linearGradient id="hc56" gradientUnits="userSpaceOnUse" x1="49" y1="0" x2="286" y2="0"><stop offset="0.002" stop-color="#5119a6"/><stop offset="0.209" stop-color="#5918a9"/><stop offset="0.243" stop-color="#7116b0"/><stop offset="0.281" stop-color="#9821ad"/><stop offset="0.302" stop-color="#9620ad"/><stop offset="0.335" stop-color="#7016b0"/><stop offset="0.369" stop-color="#5619a8"/><stop offset="0.454" stop-color="#4f19a6"/><stop offset="0.631" stop-color="#5219a7"/><stop offset="0.660" stop-color="#6917ae"/><stop offset="0.686" stop-color="#7c16b1"/><stop offset="0.715" stop-color="#6218ac"/><stop offset="0.741" stop-color="#5219a7"/><stop offset="0.766" stop-color="#5918a9"/><stop offset="0.787" stop-color="#7916b1"/><stop offset="0.808" stop-color="#9d25ab"/><stop offset="0.825" stop-color="#9b24ac"/><stop offset="0.846" stop-color="#7c16b1"/><stop offset="0.867" stop-color="#6917ae"/><stop offset="0.973" stop-color="#5918a9"/><stop offset="0.998" stop-color="#5319a7"/></linearGradient><linearGradient id="hc57" gradientUnits="userSpaceOnUse" x1="49" y1="0" x2="286" y2="0"><stop offset="0.002" stop-color="#5019a6"/><stop offset="0.209" stop-color="#5819a9"/><stop offset="0.247" stop-color="#7216b0"/><stop offset="0.281" stop-color="#941fae"/><stop offset="0.302" stop-color="#931daf"/><stop offset="0.344" stop-color="#6617ad"/><stop offset="0.378" stop-color="#5319a7"/><stop offset="0.618" stop-color="#4f19a6"/><stop offset="0.652" stop-color="#5e18ab"/><stop offset="0.681" stop-color="#7916b1"/><stop offset="0.703" stop-color="#7016b0"/><stop offset="0.732" stop-color="#5519a8"/><stop offset="0.762" stop-color="#5519a8"/><stop offset="0.783" stop-color="#6f16af"/><stop offset="0.804" stop-color="#951fae"/><stop offset="0.816" stop-color="#9d25ab"/><stop offset="0.833" stop-color="#8e1bb0"/><stop offset="0.859" stop-color="#6d17af"/><stop offset="0.901" stop-color="#6617ad"/><stop offset="0.998" stop-color="#5319a7"/></linearGradient><linearGradient id="hc58" gradientUnits="userSpaceOnUse" x1="49" y1="0" x2="286" y2="0"><stop offset="0.002" stop-color="#5019a6"/><stop offset="0.209" stop-color="#5719a9"/><stop offset="0.247" stop-color="#7016b0"/><stop offset="0.281" stop-color="#901caf"/><stop offset="0.306" stop-color="#8c1ab0"/><stop offset="0.361" stop-color="#5819a9"/><stop offset="0.424" stop-color="#4f19a6"/><stop offset="0.635" stop-color="#5219a7"/><stop offset="0.686" stop-color="#7716b1"/><stop offset="0.711" stop-color="#6617ad"/><stop offset="0.741" stop-color="#5219a7"/><stop offset="0.766" stop-color="#5819a9"/><stop offset="0.787" stop-color="#7616b0"/><stop offset="0.808" stop-color="#9922ad"/><stop offset="0.825" stop-color="#9922ad"/><stop offset="0.850" stop-color="#7516b0"/><stop offset="0.876" stop-color="#6617ad"/><stop offset="0.964" stop-color="#5b18aa"/><stop offset="0.998" stop-color="#5319a7"/></linearGradient><linearGradient id="hc59" gradientUnits="userSpaceOnUse" x1="49" y1="0" x2="286" y2="0"><stop offset="0.002" stop-color="#5019a6"/><stop offset="0.213" stop-color="#5719a9"/><stop offset="0.251" stop-color="#7116b0"/><stop offset="0.285" stop-color="#8d1ab0"/><stop offset="0.310" stop-color="#8518b1"/><stop offset="0.361" stop-color="#5819a9"/><stop offset="0.416" stop-color="#4f19a6"/><stop offset="0.635" stop-color="#5019a6"/><stop offset="0.686" stop-color="#7416b0"/><stop offset="0.711" stop-color="#6517ad"/><stop offset="0.741" stop-color="#5219a7"/><stop offset="0.766" stop-color="#5819a9"/><stop offset="0.787" stop-color="#7616b0"/><stop offset="0.808" stop-color="#9922ad"/><stop offset="0.821" stop-color="#9b24ac"/><stop offset="0.846" stop-color="#7a16b1"/><stop offset="0.867" stop-color="#6717ae"/><stop offset="0.977" stop-color="#5819a9"/><stop offset="0.998" stop-color="#5319a7"/></linearGradient><linearGradient id="hc60" gradientUnits="userSpaceOnUse" x1="49" y1="0" x2="286" y2="0"><stop offset="0.002" stop-color="#5019a6"/><stop offset="0.213" stop-color="#5619a8"/><stop offset="0.247" stop-color="#6c17af"/><stop offset="0.281" stop-color="#8919b0"/><stop offset="0.306" stop-color="#8618b1"/><stop offset="0.361" stop-color="#5619a8"/><stop offset="0.445" stop-color="#4d1aa5"/><stop offset="0.635" stop-color="#5019a6"/><stop offset="0.690" stop-color="#7316b0"/><stop offset="0.741" stop-color="#5219a7"/><stop offset="0.766" stop-color="#5819a9"/><stop offset="0.787" stop-color="#7616b0"/><stop offset="0.808" stop-color="#9922ad"/><stop offset="0.821" stop-color="#9b24ac"/><stop offset="0.846" stop-color="#7a16b1"/><stop offset="0.867" stop-color="#6617ad"/><stop offset="0.968" stop-color="#5918a9"/><stop offset="0.998" stop-color="#5319a7"/></linearGradient></defs>
<rect width="749" height="679" fill="#ffffff"/>
<text transform="translate(9.0 14.6) scale(1.16 1)" x="0" y="0" font-size="18" text-anchor="start" font-weight="bold" fill="#111">(a)</text>
<text x="168.2" y="21.6" font-size="17.3" text-anchor="middle" font-weight="normal" fill="#1a1a1a">Wavelength (nm)</text>
<text x="56.4" y="41.3" font-size="14" text-anchor="middle" font-weight="normal" fill="#1a1a1a">625</text>
<line x1="56.4" y1="47.4" x2="56.4" y2="45.4" stroke="#8a8a8a" stroke-width="0.8"/>
<text x="112.2" y="41.3" font-size="14" text-anchor="middle" font-weight="normal" fill="#1a1a1a">620</text>
<line x1="112.2" y1="47.4" x2="112.2" y2="45.4" stroke="#8a8a8a" stroke-width="0.8"/>
<text x="167.5" y="41.3" font-size="14" text-anchor="middle" font-weight="normal" fill="#1a1a1a">615</text>
<line x1="167.5" y1="47.4" x2="167.5" y2="45.4" stroke="#8a8a8a" stroke-width="0.8"/>
<text x="222.5" y="41.3" font-size="14" text-anchor="middle" font-weight="normal" fill="#1a1a1a">610</text>
<line x1="222.5" y1="47.4" x2="222.5" y2="45.4" stroke="#8a8a8a" stroke-width="0.8"/>
<text x="278" y="41.3" font-size="14" text-anchor="middle" font-weight="normal" fill="#1a1a1a">605</text>
<line x1="278" y1="47.4" x2="278" y2="45.4" stroke="#8a8a8a" stroke-width="0.8"/>
<text transform="translate(76.4 301.1) scale(1.18 1)" x="0" y="0" font-size="13.8" text-anchor="middle" font-weight="normal" fill="#1a1a1a">1.99</text>
<line x1="76.4" y1="287.2" x2="76.4" y2="289.0" stroke="#8a8a8a" stroke-width="0.8"/>
<text transform="translate(144.6 301.1) scale(1.18 1)" x="0" y="0" font-size="13.8" text-anchor="middle" font-weight="normal" fill="#1a1a1a">2.01</text>
<line x1="144.6" y1="287.2" x2="144.6" y2="289.0" stroke="#8a8a8a" stroke-width="0.8"/>
<text transform="translate(212.2 301.1) scale(1.18 1)" x="0" y="0" font-size="13.8" text-anchor="middle" font-weight="normal" fill="#1a1a1a">2.03</text>
<line x1="212.2" y1="287.2" x2="212.2" y2="289.0" stroke="#8a8a8a" stroke-width="0.8"/>
<text transform="translate(279.6 301.1) scale(1.18 1)" x="0" y="0" font-size="13.8" text-anchor="middle" font-weight="normal" fill="#1a1a1a">2.05</text>
<line x1="279.6" y1="287.2" x2="279.6" y2="289.0" stroke="#8a8a8a" stroke-width="0.8"/>
<text x="178.8" y="321.1" font-size="17.3" text-anchor="middle" font-weight="normal" fill="#1a1a1a">Energy (eV)</text>
<text x="36.4" y="168.5" font-size="17" text-anchor="middle" font-weight="normal" fill="#1a1a1a" transform="rotate(-90 36.4 168.5)">Intensity (a.u.)</text>
<polyline points="50.00,73.50 70.00,73.20 92.40,71.70 95.50,69.50 99.00,64.50 102.00,61.30 106.60,59.70 112.00,58.80 119.00,58.50 140.00,60.30 166.00,64.70 180.00,66.20 185.40,66.40 190.50,64.60 196.90,63.80 220.00,66.00 250.00,68.80 285.30,70.90" fill="none" stroke="#eef41f" stroke-width="1.45" stroke-linejoin="round" stroke-linecap="round"/>
<polyline points="50.00,107.00 80.00,106.60 111.90,105.30 114.50,103.00 118.00,98.00 121.50,95.00 127.80,93.80 145.00,94.50 170.00,98.30 204.90,102.30 209.00,101.00 215.50,100.00 250.00,102.60 285.30,105.30" fill="none" stroke="#f9a23b" stroke-width="1.45" stroke-linejoin="round" stroke-linecap="round"/>
<polyline points="50.00,141.00 90.00,140.50 128.60,138.90 131.50,136.00 135.00,131.00 139.00,128.00 145.40,126.90 166.00,129.20 176.60,131.00 200.00,135.00 220.80,137.50 225.00,135.90 229.60,135.40 260.00,137.50 285.30,138.90" fill="none" stroke="#e8705a" stroke-width="1.45" stroke-linejoin="round" stroke-linecap="round"/>
<polyline points="50.00,174.40 100.00,174.00 143.80,173.00 146.50,170.00 150.00,165.00 153.50,162.00 158.20,161.30 166.00,162.30 191.20,166.50 215.00,170.00 236.60,172.30 245.00,171.20 285.30,172.30" fill="none" stroke="#c73e7f" stroke-width="1.45" stroke-linejoin="round" stroke-linecap="round"/>
<polyline points="50.00,208.20 110.00,207.80 155.30,206.90 158.00,204.00 161.50,199.50 166.50,197.40 185.00,199.80 203.60,202.60 230.00,205.00 250.00,206.10 285.30,206.80" fill="none" stroke="#9a1ba6" stroke-width="1.45" stroke-linejoin="round" stroke-linecap="round"/>
<polyline points="50.00,241.90 110.00,241.50 166.70,240.40 170.00,237.00 173.50,231.00 177.80,228.00 185.00,229.30 198.00,233.00 212.90,237.60 215.00,235.80 218.00,238.00 222.00,239.50 250.00,240.70 285.30,241.00" fill="none" stroke="#6a0aab" stroke-width="1.45" stroke-linejoin="round" stroke-linecap="round"/>
<polyline points="50.00,275.40 110.00,275.20 155.30,274.80 166.00,273.60 172.70,273.30 175.00,266.00 177.00,254.00 179.00,244.50 180.90,242.40 183.00,244.00 187.00,250.00 192.00,256.50 199.00,262.50 205.70,266.50 212.00,269.80 218.00,271.60 220.50,264.00 221.30,263.40 223.00,267.00 225.00,271.50 227.30,273.30 250.00,274.10 285.30,274.50" fill="none" stroke="#2e2b9f" stroke-width="1.45" stroke-linejoin="round" stroke-linecap="round"/>
<rect x="106.25" y="59.62" width="1.24" height="1.24" fill="#262626"/><rect x="107.54" y="62.18" width="1.24" height="1.24" fill="#262626"/><rect x="108.82" y="64.75" width="1.24" height="1.24" fill="#262626"/><rect x="110.11" y="67.31" width="1.24" height="1.24" fill="#262626"/><rect x="111.39" y="69.88" width="1.24" height="1.24" fill="#262626"/><rect x="112.68" y="72.44" width="1.24" height="1.24" fill="#262626"/><rect x="113.97" y="75.01" width="1.24" height="1.24" fill="#262626"/><rect x="115.26" y="77.57" width="1.24" height="1.24" fill="#262626"/><rect x="116.54" y="80.14" width="1.24" height="1.24" fill="#262626"/><rect x="117.83" y="82.70" width="1.24" height="1.24" fill="#262626"/><rect x="119.12" y="85.27" width="1.24" height="1.24" fill="#262626"/><rect x="120.42" y="87.83" width="1.24" height="1.24" fill="#262626"/><rect x="121.71" y="90.39" width="1.24" height="1.24" fill="#262626"/><rect x="123.01" y="92.95" width="1.24" height="1.24" fill="#262626"/><rect x="124.31" y="95.51" width="1.24" height="1.24" fill="#262626"/><rect x="125.63" y="98.06" width="1.24" height="1.24" fill="#262626"/><rect x="126.96" y="100.60" width="1.24" height="1.24" fill="#262626"/><rect x="128.29" y="103.14" width="1.24" height="1.24" fill="#262626"/><rect x="129.64" y="105.68" width="1.24" height="1.24" fill="#262626"/><rect x="130.98" y="108.21" width="1.24" height="1.24" fill="#262626"/><rect x="132.32" y="110.75" width="1.24" height="1.24" fill="#262626"/><rect x="133.66" y="113.29" width="1.24" height="1.24" fill="#262626"/><rect x="134.98" y="115.84" width="1.24" height="1.24" fill="#262626"/><rect x="136.29" y="118.39" width="1.24" height="1.24" fill="#262626"/><rect x="137.58" y="120.96" width="1.24" height="1.24" fill="#262626"/><rect x="138.84" y="123.53" width="1.24" height="1.24" fill="#262626"/><rect x="140.07" y="126.13" width="1.24" height="1.24" fill="#262626"/><rect x="141.28" y="128.73" width="1.24" height="1.24" fill="#262626"/><rect x="142.47" y="131.34" width="1.24" height="1.24" fill="#262626"/><rect x="143.64" y="133.96" width="1.24" height="1.24" fill="#262626"/><rect x="144.80" y="136.59" width="1.24" height="1.24" fill="#262626"/><rect x="145.94" y="139.22" width="1.24" height="1.24" fill="#262626"/><rect x="147.07" y="141.86" width="1.24" height="1.24" fill="#262626"/><rect x="148.17" y="144.51" width="1.24" height="1.24" fill="#262626"/><rect x="149.27" y="147.16" width="1.24" height="1.24" fill="#262626"/><rect x="150.35" y="149.82" width="1.24" height="1.24" fill="#262626"/><rect x="151.41" y="152.49" width="1.24" height="1.24" fill="#262626"/><rect x="152.46" y="155.16" width="1.24" height="1.24" fill="#262626"/><rect x="153.49" y="157.83" width="1.24" height="1.24" fill="#262626"/><rect x="154.52" y="160.52" width="1.24" height="1.24" fill="#262626"/><rect x="155.52" y="163.20" width="1.24" height="1.24" fill="#262626"/><rect x="156.51" y="165.90" width="1.24" height="1.24" fill="#262626"/><rect x="157.48" y="168.60" width="1.24" height="1.24" fill="#262626"/><rect x="158.43" y="171.31" width="1.24" height="1.24" fill="#262626"/><rect x="159.37" y="174.02" width="1.24" height="1.24" fill="#262626"/><rect x="160.30" y="176.74" width="1.24" height="1.24" fill="#262626"/><rect x="161.22" y="179.45" width="1.24" height="1.24" fill="#262626"/><rect x="162.13" y="182.18" width="1.24" height="1.24" fill="#262626"/><rect x="163.03" y="184.90" width="1.24" height="1.24" fill="#262626"/><rect x="163.92" y="187.63" width="1.24" height="1.24" fill="#262626"/><rect x="164.81" y="190.36" width="1.24" height="1.24" fill="#262626"/><rect x="165.69" y="193.09" width="1.24" height="1.24" fill="#262626"/><rect x="166.57" y="195.82" width="1.24" height="1.24" fill="#262626"/><rect x="167.45" y="198.56" width="1.24" height="1.24" fill="#262626"/><rect x="168.30" y="201.30" width="1.24" height="1.24" fill="#262626"/><rect x="169.13" y="204.04" width="1.24" height="1.24" fill="#262626"/><rect x="169.95" y="206.79" width="1.24" height="1.24" fill="#262626"/><rect x="170.75" y="209.55" width="1.24" height="1.24" fill="#262626"/><rect x="171.55" y="212.30" width="1.24" height="1.24" fill="#262626"/><rect x="172.35" y="215.06" width="1.24" height="1.24" fill="#262626"/><rect x="173.15" y="217.82" width="1.24" height="1.24" fill="#262626"/><rect x="173.95" y="220.57" width="1.24" height="1.24" fill="#262626"/><rect x="174.77" y="223.32" width="1.24" height="1.24" fill="#262626"/><rect x="175.62" y="226.07" width="1.24" height="1.24" fill="#262626"/><rect x="176.52" y="228.79" width="1.24" height="1.24" fill="#262626"/><rect x="177.51" y="231.48" width="1.24" height="1.24" fill="#262626"/><rect x="178.59" y="234.14" width="1.24" height="1.24" fill="#262626"/><rect x="179.78" y="236.75" width="1.24" height="1.24" fill="#262626"/><rect x="181.04" y="239.33" width="1.24" height="1.24" fill="#262626"/>
<rect x="144.23" y="61.02" width="1.24" height="1.24" fill="#262626"/><rect x="145.43" y="63.63" width="1.24" height="1.24" fill="#262626"/><rect x="146.64" y="66.24" width="1.24" height="1.24" fill="#262626"/><rect x="147.84" y="68.84" width="1.24" height="1.24" fill="#262626"/><rect x="149.04" y="71.45" width="1.24" height="1.24" fill="#262626"/><rect x="150.25" y="74.05" width="1.24" height="1.24" fill="#262626"/><rect x="151.45" y="76.66" width="1.24" height="1.24" fill="#262626"/><rect x="152.65" y="79.26" width="1.24" height="1.24" fill="#262626"/><rect x="153.85" y="81.87" width="1.24" height="1.24" fill="#262626"/><rect x="155.06" y="84.48" width="1.24" height="1.24" fill="#262626"/><rect x="156.26" y="87.08" width="1.24" height="1.24" fill="#262626"/><rect x="157.45" y="89.69" width="1.24" height="1.24" fill="#262626"/><rect x="158.65" y="92.30" width="1.24" height="1.24" fill="#262626"/><rect x="159.85" y="94.91" width="1.24" height="1.24" fill="#262626"/><rect x="161.04" y="97.52" width="1.24" height="1.24" fill="#262626"/><rect x="162.25" y="100.12" width="1.24" height="1.24" fill="#262626"/><rect x="163.45" y="102.73" width="1.24" height="1.24" fill="#262626"/><rect x="164.65" y="105.34" width="1.24" height="1.24" fill="#262626"/><rect x="165.86" y="107.94" width="1.24" height="1.24" fill="#262626"/><rect x="167.06" y="110.55" width="1.24" height="1.24" fill="#262626"/><rect x="168.26" y="113.15" width="1.24" height="1.24" fill="#262626"/><rect x="169.45" y="115.76" width="1.24" height="1.24" fill="#262626"/><rect x="170.64" y="118.38" width="1.24" height="1.24" fill="#262626"/><rect x="171.83" y="120.99" width="1.24" height="1.24" fill="#262626"/><rect x="173.00" y="123.61" width="1.24" height="1.24" fill="#262626"/><rect x="174.16" y="126.23" width="1.24" height="1.24" fill="#262626"/><rect x="175.32" y="128.86" width="1.24" height="1.24" fill="#262626"/><rect x="176.46" y="131.49" width="1.24" height="1.24" fill="#262626"/><rect x="177.59" y="134.13" width="1.24" height="1.24" fill="#262626"/><rect x="178.72" y="136.77" width="1.24" height="1.24" fill="#262626"/><rect x="179.84" y="139.41" width="1.24" height="1.24" fill="#262626"/><rect x="180.95" y="142.06" width="1.24" height="1.24" fill="#262626"/><rect x="182.05" y="144.71" width="1.24" height="1.24" fill="#262626"/><rect x="183.15" y="147.36" width="1.24" height="1.24" fill="#262626"/><rect x="184.24" y="150.02" width="1.24" height="1.24" fill="#262626"/><rect x="185.32" y="152.67" width="1.24" height="1.24" fill="#262626"/><rect x="186.40" y="155.33" width="1.24" height="1.24" fill="#262626"/><rect x="187.46" y="158.00" width="1.24" height="1.24" fill="#262626"/><rect x="188.53" y="160.66" width="1.24" height="1.24" fill="#262626"/><rect x="189.58" y="163.33" width="1.24" height="1.24" fill="#262626"/><rect x="190.63" y="166.01" width="1.24" height="1.24" fill="#262626"/><rect x="191.67" y="168.68" width="1.24" height="1.24" fill="#262626"/><rect x="192.71" y="171.36" width="1.24" height="1.24" fill="#262626"/><rect x="193.74" y="174.03" width="1.24" height="1.24" fill="#262626"/><rect x="194.76" y="176.72" width="1.24" height="1.24" fill="#262626"/><rect x="195.78" y="179.40" width="1.24" height="1.24" fill="#262626"/><rect x="196.79" y="182.08" width="1.24" height="1.24" fill="#262626"/><rect x="197.80" y="184.77" width="1.24" height="1.24" fill="#262626"/><rect x="198.79" y="187.46" width="1.24" height="1.24" fill="#262626"/><rect x="199.78" y="190.16" width="1.24" height="1.24" fill="#262626"/><rect x="200.76" y="192.86" width="1.24" height="1.24" fill="#262626"/><rect x="201.73" y="195.56" width="1.24" height="1.24" fill="#262626"/><rect x="202.69" y="198.26" width="1.24" height="1.24" fill="#262626"/><rect x="203.63" y="200.97" width="1.24" height="1.24" fill="#262626"/><rect x="204.57" y="203.69" width="1.24" height="1.24" fill="#262626"/><rect x="205.48" y="206.41" width="1.24" height="1.24" fill="#262626"/><rect x="206.39" y="209.13" width="1.24" height="1.24" fill="#262626"/><rect x="207.28" y="211.86" width="1.24" height="1.24" fill="#262626"/><rect x="208.16" y="214.59" width="1.24" height="1.24" fill="#262626"/><rect x="209.03" y="217.32" width="1.24" height="1.24" fill="#262626"/><rect x="209.89" y="220.06" width="1.24" height="1.24" fill="#262626"/><rect x="210.74" y="222.81" width="1.24" height="1.24" fill="#262626"/><rect x="211.58" y="225.55" width="1.24" height="1.24" fill="#262626"/><rect x="212.41" y="228.30" width="1.24" height="1.24" fill="#262626"/><rect x="213.23" y="231.05" width="1.24" height="1.24" fill="#262626"/><rect x="214.04" y="233.80" width="1.24" height="1.24" fill="#262626"/><rect x="214.83" y="236.56" width="1.24" height="1.24" fill="#262626"/><rect x="215.61" y="239.32" width="1.24" height="1.24" fill="#262626"/><rect x="216.37" y="242.09" width="1.24" height="1.24" fill="#262626"/><rect x="217.10" y="244.86" width="1.24" height="1.24" fill="#262626"/><rect x="217.83" y="247.64" width="1.24" height="1.24" fill="#262626"/><rect x="218.55" y="250.42" width="1.24" height="1.24" fill="#262626"/><rect x="219.26" y="253.20" width="1.24" height="1.24" fill="#262626"/><rect x="219.96" y="255.98" width="1.24" height="1.24" fill="#262626"/><rect x="220.66" y="258.77" width="1.24" height="1.24" fill="#262626"/><rect x="221.36" y="261.55" width="1.24" height="1.24" fill="#262626"/>
<text transform="translate(176.6 217.2) scale(1.32 1)" x="0" y="0" font-size="13.2" fill="#1a1a1a">&#915;</text>
<text x="184.7" y="221.3" font-size="9.5" text-anchor="start" font-weight="normal" fill="#1a1a1a">3</text>
<line x1="188.2" y1="208.9" x2="193.3" y2="208.9" stroke="#1a1a1a" stroke-width="0.9"/>
<text x="212.3" y="224.0" font-size="13.6" text-anchor="start" font-weight="normal" fill="#1a1a1a">1s</text>
<rect x="50" y="47.4" width="235.9" height="239.8" fill="none" stroke="#8a8a8a" stroke-width="1"/>
<rect x="300.3" y="47.3" width="12.2" height="239.7" fill="url(#pl)" stroke="#555" stroke-width="0.4"/>
<line x1="312.5" y1="67.5" x2="314.6" y2="67.5" stroke="#444" stroke-width="0.8"/>
<text x="316.5" y="72.3" font-size="14" text-anchor="start" font-weight="normal" fill="#1a1a1a">120</text>
<line x1="312.5" y1="107.5" x2="314.6" y2="107.5" stroke="#444" stroke-width="0.8"/>
<text x="316.5" y="112.3" font-size="14" text-anchor="start" font-weight="normal" fill="#1a1a1a">100</text>
<line x1="312.5" y1="147.5" x2="314.6" y2="147.5" stroke="#444" stroke-width="0.8"/>
<text x="316.5" y="152.3" font-size="14" text-anchor="start" font-weight="normal" fill="#1a1a1a">80</text>
<line x1="312.5" y1="187.5" x2="314.6" y2="187.5" stroke="#444" stroke-width="0.8"/>
<text x="316.5" y="192.3" font-size="14" text-anchor="start" font-weight="normal" fill="#1a1a1a">60</text>
<line x1="312.5" y1="227.5" x2="314.6" y2="227.5" stroke="#444" stroke-width="0.8"/>
<text x="316.5" y="232.3" font-size="14" text-anchor="start" font-weight="normal" fill="#1a1a1a">40</text>
<line x1="312.5" y1="267.5" x2="314.6" y2="267.5" stroke="#444" stroke-width="0.8"/>
<text x="316.5" y="272.3" font-size="14" text-anchor="start" font-weight="normal" fill="#1a1a1a">20</text>
<text x="351.1" y="171.6" font-size="17" text-anchor="middle" font-weight="normal" fill="#1a1a1a" transform="rotate(90 351.1 171.6)">Temperature (K)</text>
<text transform="translate(403.0 365) scale(1.1 1)" x="0" y="0" font-size="18" text-anchor="start" font-weight="bold" fill="#111">(d)</text>
<text x="439.1" y="655.5" font-size="16.2" text-anchor="middle" font-weight="normal" fill="#1a1a1a">0.0</text>
<line x1="439.1" y1="640.2" x2="439.1" y2="642.2" stroke="#8a8a8a" stroke-width="0.8"/>
<text x="503.40000000000003" y="655.5" font-size="16.2" text-anchor="middle" font-weight="normal" fill="#1a1a1a">0.5</text>
<line x1="503.40000000000003" y1="640.2" x2="503.40000000000003" y2="642.2" stroke="#8a8a8a" stroke-width="0.8"/>
<text x="567.7" y="655.5" font-size="16.2" text-anchor="middle" font-weight="normal" fill="#1a1a1a">1.0</text>
<line x1="567.7" y1="640.2" x2="567.7" y2="642.2" stroke="#8a8a8a" stroke-width="0.8"/>
<text x="632.0" y="655.5" font-size="16.2" text-anchor="middle" font-weight="normal" fill="#1a1a1a">1.5</text>
<line x1="632.0" y1="640.2" x2="632.0" y2="642.2" stroke="#8a8a8a" stroke-width="0.8"/>
<text x="696.3" y="655.5" font-size="16.2" text-anchor="middle" font-weight="normal" fill="#1a1a1a">2.0</text>
<line x1="696.3" y1="640.2" x2="696.3" y2="642.2" stroke="#8a8a8a" stroke-width="0.8"/>
<text x="433.5" y="623.6" font-size="16.4" text-anchor="end" font-weight="normal" fill="#1a1a1a">10</text>
<line x1="437.5" y1="617.7" x2="435.5" y2="617.7" stroke="#8a8a8a" stroke-width="0.8"/>
<text x="433.5" y="549.9300000000001" font-size="16.4" text-anchor="end" font-weight="normal" fill="#1a1a1a">20</text>
<line x1="437.5" y1="544.0300000000001" x2="435.5" y2="544.0300000000001" stroke="#8a8a8a" stroke-width="0.8"/>
<text x="433.5" y="476.26" font-size="16.4" text-anchor="end" font-weight="normal" fill="#1a1a1a">30</text>
<line x1="437.5" y1="470.36" x2="435.5" y2="470.36" stroke="#8a8a8a" stroke-width="0.8"/>
<text x="433.5" y="402.59000000000003" font-size="16.4" text-anchor="end" font-weight="normal" fill="#1a1a1a">40</text>
<line x1="437.5" y1="396.69000000000005" x2="435.5" y2="396.69000000000005" stroke="#8a8a8a" stroke-width="0.8"/>
<text x="579.3" y="673.7" font-size="17.3" text-anchor="middle" font-weight="normal" fill="#1a1a1a">Power (mW)</text>
<text x="404.9" y="509.1" font-size="17.4" text-anchor="middle" font-weight="normal" fill="#1a1a1a" transform="rotate(-90 404.9 509.1)">Effective Temperature (K)</text>
<polyline points="449.39,623.23 451.96,611.81 464.82,603.70 503.40,570.55 541.98,544.03 567.70,521.19 593.42,492.46 632.00,458.57 696.30,387.85" fill="none" stroke="#1414ff" stroke-width="2.0" stroke-linejoin="round" stroke-linecap="round"/>
<polyline points="449.39,626.54 451.96,625.07 464.82,611.81 503.40,560.97 541.98,523.40 567.70,506.46 593.42,485.09 632.00,456.36 696.30,396.69" fill="none" stroke="#ff1010" stroke-width="2.0" stroke-linejoin="round" stroke-linecap="round"/>
<polyline points="449.39,630.22 451.96,618.44 464.82,605.18 503.40,558.03 541.98,532.24 567.70,508.67 593.42,485.83 632.00,457.10 696.30,392.27" fill="none" stroke="#118011" stroke-width="2.0" stroke-linejoin="round" stroke-linecap="round"/>
<polyline points="449.39,619.91 451.96,609.60 464.82,602.23 503.40,559.50 541.98,534.45 567.70,516.04 593.42,490.99 632.00,468.15 696.30,403.32" fill="none" stroke="#ff10ff" stroke-width="2.0" stroke-linejoin="round" stroke-linecap="round"/>
<rect x="437.5" y="376.2" width="271" height="264" fill="none" stroke="#8a8a8a" stroke-width="1"/>
<rect x="445.1" y="383.3" width="72.8" height="93" rx="2.5" fill="#fff" fill-opacity="0.85" stroke="#e2e2e2" stroke-width="0.8"/>
<line x1="450.8" y1="395.7" x2="483.1" y2="395.7" stroke="#1414ff" stroke-width="2.0"/>
<text x="494.3" y="401.5" font-size="15.5" text-anchor="start" font-weight="normal" fill="#1a1a1a">2p</text>
<line x1="450.8" y1="417.59999999999997" x2="483.1" y2="417.59999999999997" stroke="#ff1010" stroke-width="2.0"/>
<text x="494.3" y="423.4" font-size="15.5" text-anchor="start" font-weight="normal" fill="#1a1a1a">3p</text>
<line x1="450.8" y1="439.5" x2="483.1" y2="439.5" stroke="#118011" stroke-width="2.0"/>
<text x="494.3" y="445.3" font-size="15.5" text-anchor="start" font-weight="normal" fill="#1a1a1a">4p</text>
<line x1="450.8" y1="461.4" x2="483.1" y2="461.4" stroke="#ff10ff" stroke-width="2.0"/>
<text x="494.3" y="467.2" font-size="15.5" text-anchor="start" font-weight="normal" fill="#1a1a1a">5p</text>
<text transform="translate(395.8 14.6) scale(1.18 1)" x="0" y="0" font-size="18" text-anchor="start" font-weight="bold" fill="#111">(b)</text>
<text x="567" y="17.2" font-size="17.3" text-anchor="middle" font-weight="normal" fill="#1a1a1a">Wavelength (nm)</text>
<text x="470.6" y="41.3" font-size="14" text-anchor="middle" font-weight="normal" fill="#1a1a1a">583</text>
<line x1="470.6" y1="46" x2="470.6" y2="44" stroke="#8a8a8a" stroke-width="0.8"/>
<text x="518.5" y="41.3" font-size="14" text-anchor="middle" font-weight="normal" fill="#1a1a1a">580</text>
<line x1="518.5" y1="46" x2="518.5" y2="44" stroke="#8a8a8a" stroke-width="0.8"/>
<text x="566.7" y="41.3" font-size="14" text-anchor="middle" font-weight="normal" fill="#1a1a1a">577</text>
<line x1="566.7" y1="46" x2="566.7" y2="44" stroke="#8a8a8a" stroke-width="0.8"/>
<text x="614.3" y="41.3" font-size="14" text-anchor="middle" font-weight="normal" fill="#1a1a1a">574</text>
<line x1="614.3" y1="46" x2="614.3" y2="44" stroke="#8a8a8a" stroke-width="0.8"/>
<text x="662.2" y="41.3" font-size="14" text-anchor="middle" font-weight="normal" fill="#1a1a1a">571</text>
<line x1="662.2" y1="46" x2="662.2" y2="44" stroke="#8a8a8a" stroke-width="0.8"/>
<text x="467.8" y="300.5" font-size="14" text-anchor="middle" font-weight="normal" fill="#1a1a1a">2.13</text>
<line x1="467.8" y1="286.8" x2="467.8" y2="288.6" stroke="#8a8a8a" stroke-width="0.8"/>
<text x="514.2" y="300.5" font-size="14" text-anchor="middle" font-weight="normal" fill="#1a1a1a">2.14</text>
<line x1="514.2" y1="286.8" x2="514.2" y2="288.6" stroke="#8a8a8a" stroke-width="0.8"/>
<text x="560.8" y="300.5" font-size="14" text-anchor="middle" font-weight="normal" fill="#1a1a1a">2.15</text>
<line x1="560.8" y1="286.8" x2="560.8" y2="288.6" stroke="#8a8a8a" stroke-width="0.8"/>
<text x="606.7" y="300.5" font-size="14" text-anchor="middle" font-weight="normal" fill="#1a1a1a">2.16</text>
<line x1="606.7" y1="286.8" x2="606.7" y2="288.6" stroke="#8a8a8a" stroke-width="0.8"/>
<text x="652.5" y="300.5" font-size="14" text-anchor="middle" font-weight="normal" fill="#1a1a1a">2.17</text>
<line x1="652.5" y1="286.8" x2="652.5" y2="288.6" stroke="#8a8a8a" stroke-width="0.8"/>
<text x="566" y="322.7" font-size="17.3" text-anchor="middle" font-weight="normal" fill="#1a1a1a">Energy (eV)</text>
<text x="436.9" y="70.1" font-size="14" text-anchor="end" font-weight="normal" fill="#1a1a1a">120</text>
<line x1="440.2" y1="65.3" x2="438.2" y2="65.3" stroke="#8a8a8a" stroke-width="0.8"/>
<text x="436.9" y="108.7" font-size="14" text-anchor="end" font-weight="normal" fill="#1a1a1a">100</text>
<line x1="440.2" y1="103.9" x2="438.2" y2="103.9" stroke="#8a8a8a" stroke-width="0.8"/>
<text x="436.9" y="147.3" font-size="14" text-anchor="end" font-weight="normal" fill="#1a1a1a">80</text>
<line x1="440.2" y1="142.5" x2="438.2" y2="142.5" stroke="#8a8a8a" stroke-width="0.8"/>
<text x="436.9" y="185.9" font-size="14" text-anchor="end" font-weight="normal" fill="#1a1a1a">60</text>
<line x1="440.2" y1="181.1" x2="438.2" y2="181.1" stroke="#8a8a8a" stroke-width="0.8"/>
<text x="436.9" y="224.60000000000002" font-size="14" text-anchor="end" font-weight="normal" fill="#1a1a1a">40</text>
<line x1="440.2" y1="219.8" x2="438.2" y2="219.8" stroke="#8a8a8a" stroke-width="0.8"/>
<text x="436.9" y="263.2" font-size="14" text-anchor="end" font-weight="normal" fill="#1a1a1a">20</text>
<line x1="440.2" y1="258.4" x2="438.2" y2="258.4" stroke="#8a8a8a" stroke-width="0.8"/>
<text x="408.2" y="161.2" font-size="17" text-anchor="middle" font-weight="normal" fill="#1a1a1a" transform="rotate(-90 408.2 161.2)">Temperature (K)</text>
<g clip-path="url(#cb)">
<g filter="url(#bv)">
<rect x="436" y="42.00" width="246" height="8.60" fill="url(#hb0)"/>
<rect x="436" y="50.00" width="246" height="4.60" fill="url(#hb1)"/>
<rect x="436" y="54.00" width="246" height="4.60" fill="url(#hb2)"/>
<rect x="436" y="58.00" width="246" height="4.60" fill="url(#hb3)"/>
<rect x="436" y="62.00" width="246" height="4.60" fill="url(#hb4)"/>
<rect x="436" y="66.00" width="246" height="4.60" fill="url(#hb5)"/>
<rect x="436" y="70.00" width="246" height="4.60" fill="url(#hb6)"/>
<rect x="436" y="74.00" width="246" height="4.60" fill="url(#hb7)"/>
<rect x="436" y="78.00" width="246" height="4.60" fill="url(#hb8)"/>
<rect x="436" y="82.00" width="246" height="4.60" fill="url(#hb9)"/>
<rect x="436" y="86.00" width="246" height="4.60" fill="url(#hb10)"/>
<rect x="436" y="90.00" width="246" height="4.60" fill="url(#hb11)"/>
<rect x="436" y="94.00" width="246" height="4.60" fill="url(#hb12)"/>
<rect x="436" y="98.00" width="246" height="4.60" fill="url(#hb13)"/>
<rect x="436" y="102.00" width="246" height="4.60" fill="url(#hb14)"/>
<rect x="436" y="106.00" width="246" height="4.60" fill="url(#hb15)"/>
<rect x="436" y="110.00" width="246" height="4.60" fill="url(#hb16)"/>
<rect x="436" y="114.00" width="246" height="4.60" fill="url(#hb17)"/>
<rect x="436" y="118.00" width="246" height="4.60" fill="url(#hb18)"/>
<rect x="436" y="122.00" width="246" height="4.60" fill="url(#hb19)"/>
<rect x="436" y="126.00" width="246" height="4.60" fill="url(#hb20)"/>
<rect x="436" y="130.00" width="246" height="4.60" fill="url(#hb21)"/>
<rect x="436" y="134.00" width="246" height="4.60" fill="url(#hb22)"/>
<rect x="436" y="138.00" width="246" height="4.60" fill="url(#hb23)"/>
<rect x="436" y="142.00" width="246" height="4.60" fill="url(#hb24)"/>
<rect x="436" y="146.00" width="246" height="4.60" fill="url(#hb25)"/>
<rect x="436" y="150.00" width="246" height="4.60" fill="url(#hb26)"/>
<rect x="436" y="154.00" width="246" height="4.60" fill="url(#hb27)"/>
<rect x="436" y="158.00" width="246" height="4.60" fill="url(#hb28)"/>
<rect x="436" y="162.00" width="246" height="4.60" fill="url(#hb29)"/>
<rect x="436" y="166.00" width="246" height="4.60" fill="url(#hb30)"/>
<rect x="436" y="170.00" width="246" height="4.60" fill="url(#hb31)"/>
<rect x="436" y="174.00" width="246" height="4.60" fill="url(#hb32)"/>
<rect x="436" y="178.00" width="246" height="4.60" fill="url(#hb33)"/>
<rect x="436" y="182.00" width="246" height="4.60" fill="url(#hb34)"/>
<rect x="436" y="186.00" width="246" height="4.60" fill="url(#hb35)"/>
<rect x="436" y="190.00" width="246" height="4.60" fill="url(#hb36)"/>
<rect x="436" y="194.00" width="246" height="4.60" fill="url(#hb37)"/>
<rect x="436" y="198.00" width="246" height="4.60" fill="url(#hb38)"/>
<rect x="436" y="202.00" width="246" height="4.60" fill="url(#hb39)"/>
<rect x="436" y="206.00" width="246" height="4.60" fill="url(#hb40)"/>
<rect x="436" y="210.00" width="246" height="4.60" fill="url(#hb41)"/>
<rect x="436" y="214.00" width="246" height="4.60" fill="url(#hb42)"/>
<rect x="436" y="218.00" width="246" height="4.60" fill="url(#hb43)"/>
<rect x="436" y="222.00" width="246" height="4.60" fill="url(#hb44)"/>
<rect x="436" y="226.00" width="246" height="4.60" fill="url(#hb45)"/>
<rect x="436" y="230.00" width="246" height="4.60" fill="url(#hb46)"/>
<rect x="436" y="234.00" width="246" height="4.60" fill="url(#hb47)"/>
<rect x="436" y="238.00" width="246" height="4.60" fill="url(#hb48)"/>
<rect x="436" y="242.00" width="246" height="4.60" fill="url(#hb49)"/>
<rect x="436" y="246.00" width="246" height="4.60" fill="url(#hb50)"/>
<rect x="436" y="250.00" width="246" height="4.60" fill="url(#hb51)"/>
<rect x="436" y="254.00" width="246" height="4.60" fill="url(#hb52)"/>
<rect x="436" y="258.00" width="246" height="4.60" fill="url(#hb53)"/>
<rect x="436" y="262.00" width="246" height="4.60" fill="url(#hb54)"/>
<rect x="436" y="266.00" width="246" height="4.60" fill="url(#hb55)"/>
<rect x="436" y="270.00" width="246" height="4.60" fill="url(#hb56)"/>
<rect x="436" y="274.00" width="246" height="4.60" fill="url(#hb57)"/>
<rect x="436" y="278.00" width="246" height="4.60" fill="url(#hb58)"/>
<rect x="436" y="282.00" width="246" height="4.60" fill="url(#hb59)"/>
<rect x="436" y="286.00" width="246" height="5.60" fill="url(#hb60)"/>
</g>
</g>
<rect x="440.4" y="46.3" width="237" height="240.3" fill="none" stroke="#3a3050" stroke-width="0.9" stroke-opacity="0.85"/>
<path d="M451.00,51.30 C455.83,59.08 470.50,82.53 480.00,98.00 C489.50,113.47 503.33,136.42 508.00,144.10" fill="none" stroke="#f4eef8" stroke-width="1.1" stroke-opacity="0.9" stroke-dasharray="4.4 7.1" stroke-linecap="butt"/>
<path d="M521.20,172.30 C523.57,177.73 531.27,193.58 535.40,204.90 C539.53,216.22 543.48,228.57 546.00,240.20 C548.52,251.83 549.75,268.95 550.50,274.70" fill="none" stroke="#f4eef8" stroke-width="1.1" stroke-opacity="0.9" stroke-dasharray="4.4 7.1" stroke-linecap="butt"/>
<path d="M571.80,222.60 C571.67,228.00 571.23,244.70 571.00,255.00 C570.77,265.30 570.50,279.50 570.40,284.40" fill="none" stroke="#f4eef8" stroke-width="1.1" stroke-opacity="0.9" stroke-dasharray="4.4 7.1" stroke-linecap="butt"/>
<path d="M562.40,128.40 L578.30,164.90" fill="none" stroke="#f4eef8" stroke-width="1.1" stroke-opacity="0.9" stroke-dasharray="4.4 7.1" stroke-linecap="butt"/>
<path d="M589.00,187.30 C590.90,192.30 596.43,206.42 600.40,217.30 C604.37,228.18 610.15,241.42 612.80,252.60 C615.45,263.78 615.72,279.10 616.30,284.40" fill="none" stroke="#f4eef8" stroke-width="1.1" stroke-opacity="0.9" stroke-dasharray="4.4 7.1" stroke-linecap="butt"/>
<path d="M617.20,203.10 L623.40,217.30" fill="none" stroke="#f4eef8" stroke-width="1.1" stroke-opacity="0.9" stroke-dasharray="4.4 7.1" stroke-linecap="butt"/>
<path d="M629.60,235.00 C630.63,238.23 634.48,246.17 635.80,254.40 C637.12,262.63 637.22,279.40 637.50,284.40" fill="none" stroke="#f4eef8" stroke-width="1.1" stroke-opacity="0.9" stroke-dasharray="4.4 7.1" stroke-linecap="butt"/>
<path d="M629.60,210.20 L642.80,243.80" fill="none" stroke="#f4eef8" stroke-width="1.1" stroke-opacity="0.9" stroke-dasharray="4.4 7.1" stroke-linecap="butt"/>
<path d="M647.30,266.70 L649.00,284.40" fill="none" stroke="#f4eef8" stroke-width="1.1" stroke-opacity="0.9" stroke-dasharray="4.4 7.1" stroke-linecap="butt"/>
<text x="506.3" y="160.8" font-size="14" text-anchor="start" font-weight="normal" fill="#f4eef8">2p</text>
<text x="575.3" y="180.4" font-size="14" text-anchor="start" font-weight="normal" fill="#f4eef8">3p</text>
<text x="559.2" y="217.8" font-size="14" text-anchor="start" font-weight="normal" fill="#f4eef8">1sg*</text>
<text x="615.8" y="230.8" font-size="14" text-anchor="start" font-weight="normal" fill="#f4eef8">4p</text>
<text x="638.8" y="259.2" font-size="14" text-anchor="start" font-weight="normal" fill="#f4eef8">5p</text>
<rect x="584.1" y="50.2" width="89.3" height="86.4" fill="#ffffff"/>
<text transform="translate(583.0 76.89999999999999) scale(0.9 1)" x="0" y="0" font-size="10.5" text-anchor="end" font-weight="normal" fill="#f4eef8">2.150</text>
<text transform="translate(583.0 99.6) scale(0.9 1)" x="0" y="0" font-size="10.5" text-anchor="end" font-weight="normal" fill="#f4eef8">2.145</text>
<text transform="translate(583.0 122.39999999999999) scale(0.9 1)" x="0" y="0" font-size="10.5" text-anchor="end" font-weight="normal" fill="#f4eef8">2.140</text>
<text transform="translate(602 145.5) scale(0.92 1)" x="0" y="0" font-size="10.5" text-anchor="middle" font-weight="normal" fill="#f4eef8">20</text>
<text transform="translate(619.7 145.5) scale(0.92 1)" x="0" y="0" font-size="10.5" text-anchor="middle" font-weight="normal" fill="#f4eef8">40</text>
<text transform="translate(637.7 145.5) scale(0.92 1)" x="0" y="0" font-size="10.5" text-anchor="middle" font-weight="normal" fill="#f4eef8">60</text>
<text transform="translate(655.4 145.5) scale(0.92 1)" x="0" y="0" font-size="10.5" text-anchor="middle" font-weight="normal" fill="#f4eef8">80</text>
<rect x="586.8" y="62.4" width="3.4" height="3.4" fill="#000"/>
<rect x="591.3" y="62.4" width="3.4" height="3.4" fill="#000"/>
<rect x="600.3" y="62.2" width="3.4" height="3.4" fill="#000"/>
<rect x="604.7" y="61.7" width="3.4" height="3.4" fill="#000"/>
<rect x="609.1" y="61.3" width="3.4" height="3.4" fill="#000"/>
<rect x="613.5" y="61.6" width="3.4" height="3.4" fill="#000"/>
<rect x="618.2" y="60.7" width="3.4" height="3.4" fill="#000"/>
<rect x="622.6" y="59.8" width="3.4" height="3.4" fill="#000"/>
<rect x="627.2" y="59.2" width="3.4" height="3.4" fill="#000"/>
<rect x="636.2" y="58.6" width="3.4" height="3.4" fill="#000"/>
<rect x="645.0" y="58.6" width="3.4" height="3.4" fill="#000"/>
<rect x="653.9" y="60.5" width="3.4" height="3.4" fill="#000"/>
<rect x="662.8" y="53.3" width="3.4" height="3.4" fill="#000"/>
<circle cx="588.5" cy="81.8" r="2.05" fill="#ff0000"/>
<circle cx="593" cy="82.1" r="2.05" fill="#ff0000"/>
<circle cx="602" cy="84" r="2.05" fill="#ff0000"/>
<circle cx="606.4" cy="85.4" r="2.05" fill="#ff0000"/>
<circle cx="610.8" cy="87.3" r="2.05" fill="#ff0000"/>
<circle cx="615.2" cy="89.2" r="2.05" fill="#ff0000"/>
<circle cx="619.9" cy="91.8" r="2.05" fill="#ff0000"/>
<circle cx="624.3" cy="95.5" r="2.05" fill="#ff0000"/>
<circle cx="628.9" cy="98.9" r="2.05" fill="#ff0000"/>
<circle cx="637.9" cy="108.8" r="2.05" fill="#ff0000"/>
<circle cx="646.7" cy="118.9" r="2.05" fill="#ff0000"/>
<circle cx="655.6" cy="125.6" r="2.05" fill="#ff0000"/>
<rect x="588.5" y="108.6" width="39.5" height="24.8" rx="1.5" fill="#fff" stroke="#ebebeb" stroke-width="0.6"/>
<rect x="596.9" y="113.3" width="3.4" height="3.4" fill="#000"/>
<line x1="598.6" y1="111.5" x2="598.6" y2="118.5" stroke="#666" stroke-width="0.4"/>
<circle cx="598.6" cy="125.7" r="2.05" fill="#ff0000"/>
<line x1="598.6" y1="122.5" x2="598.6" y2="129" stroke="#f88" stroke-width="0.4"/>
<text transform="translate(612.6 118.4) scale(0.92 1)" x="0" y="0" font-size="8.9" text-anchor="start" font-weight="normal" fill="#333">1sg</text>
<text transform="translate(612.6 128.9) scale(0.92 1)" x="0" y="0" font-size="8.9" text-anchor="start" font-weight="normal" fill="#333">2p</text>
<rect x="691.9" y="46.3" width="12.4" height="240.4" fill="url(#pl)" stroke="#555" stroke-width="0.4"/>
<line x1="704.3" y1="47.5" x2="706.4" y2="47.5" stroke="#444" stroke-width="0.8"/>
<text x="708.3" y="52.8" font-size="14" text-anchor="start" font-weight="normal" fill="#1a1a1a">1.0</text>
<line x1="704.3" y1="93.85" x2="706.4" y2="93.85" stroke="#444" stroke-width="0.8"/>
<text x="708.3" y="99.14999999999999" font-size="14" text-anchor="start" font-weight="normal" fill="#1a1a1a">0.8</text>
<line x1="704.3" y1="140.2" x2="706.4" y2="140.2" stroke="#444" stroke-width="0.8"/>
<text x="708.3" y="145.5" font-size="14" text-anchor="start" font-weight="normal" fill="#1a1a1a">0.6</text>
<line x1="704.3" y1="186.55" x2="706.4" y2="186.55" stroke="#444" stroke-width="0.8"/>
<text x="708.3" y="191.85000000000002" font-size="14" text-anchor="start" font-weight="normal" fill="#1a1a1a">0.4</text>
<line x1="704.3" y1="232.9" x2="706.4" y2="232.9" stroke="#444" stroke-width="0.8"/>
<text x="708.3" y="238.20000000000002" font-size="14" text-anchor="start" font-weight="normal" fill="#1a1a1a">0.2</text>
<line x1="704.3" y1="279.25" x2="706.4" y2="279.25" stroke="#444" stroke-width="0.8"/>
<text x="708.3" y="284.55" font-size="14" text-anchor="start" font-weight="normal" fill="#1a1a1a">0.0</text>
<text x="735.2" y="162.0" font-size="17.3" text-anchor="middle" font-weight="normal" fill="#1a1a1a" transform="rotate(90 735.2 162.0)">Intensity (a.u.)</text>
<text transform="translate(9.0 365) scale(1.16 1)" x="0" y="0" font-size="18" text-anchor="start" font-weight="bold" fill="#111">(c)</text>
<text x="172.2" y="374.3" font-size="17.3" text-anchor="middle" font-weight="normal" fill="#1a1a1a">Wavelength (nm)</text>
<text x="75.2" y="394" font-size="14" text-anchor="middle" font-weight="normal" fill="#1a1a1a">579</text>
<line x1="75.2" y1="400.4" x2="75.2" y2="398.4" stroke="#8a8a8a" stroke-width="0.8"/>
<text x="137" y="394" font-size="14" text-anchor="middle" font-weight="normal" fill="#1a1a1a">576</text>
<line x1="137" y1="400.4" x2="137" y2="398.4" stroke="#8a8a8a" stroke-width="0.8"/>
<text x="199.3" y="394" font-size="14" text-anchor="middle" font-weight="normal" fill="#1a1a1a">573</text>
<line x1="199.3" y1="400.4" x2="199.3" y2="398.4" stroke="#8a8a8a" stroke-width="0.8"/>
<text x="260.7" y="394" font-size="14" text-anchor="middle" font-weight="normal" fill="#1a1a1a">570</text>
<line x1="260.7" y1="400.4" x2="260.7" y2="398.4" stroke="#8a8a8a" stroke-width="0.8"/>
<text x="68.9" y="654" font-size="14" text-anchor="middle" font-weight="normal" fill="#1a1a1a">2.14</text>
<line x1="68.9" y1="640.4" x2="68.9" y2="642.4" stroke="#8a8a8a" stroke-width="0.8"/>
<text x="134.9" y="654" font-size="14" text-anchor="middle" font-weight="normal" fill="#1a1a1a">2.15</text>
<line x1="134.9" y1="640.4" x2="134.9" y2="642.4" stroke="#8a8a8a" stroke-width="0.8"/>
<text x="200.8" y="654" font-size="14" text-anchor="middle" font-weight="normal" fill="#1a1a1a">2.16</text>
<line x1="200.8" y1="640.4" x2="200.8" y2="642.4" stroke="#8a8a8a" stroke-width="0.8"/>
<text x="266.4" y="654" font-size="14" text-anchor="middle" font-weight="normal" fill="#1a1a1a">2.17</text>
<line x1="266.4" y1="640.4" x2="266.4" y2="642.4" stroke="#8a8a8a" stroke-width="0.8"/>
<text x="170.3" y="673.7" font-size="17.3" text-anchor="middle" font-weight="normal" fill="#1a1a1a">Energy (eV)</text>
<text x="45.6" y="435.8" font-size="14" text-anchor="end" font-weight="normal" fill="#1a1a1a">1.75</text>
<line x1="49.4" y1="431" x2="47.4" y2="431" stroke="#8a8a8a" stroke-width="0.8"/>
<text x="45.6" y="497.40000000000003" font-size="14" text-anchor="end" font-weight="normal" fill="#1a1a1a">1.25</text>
<line x1="49.4" y1="492.6" x2="47.4" y2="492.6" stroke="#8a8a8a" stroke-width="0.8"/>
<text x="45.6" y="559.0" font-size="14" text-anchor="end" font-weight="normal" fill="#1a1a1a">0.75</text>
<line x1="49.4" y1="554.2" x2="47.4" y2="554.2" stroke="#8a8a8a" stroke-width="0.8"/>
<text x="45.6" y="620.5999999999999" font-size="14" text-anchor="end" font-weight="normal" fill="#1a1a1a">0.25</text>
<line x1="49.4" y1="615.8" x2="47.4" y2="615.8" stroke="#8a8a8a" stroke-width="0.8"/>
<text x="14.6" y="518.8" font-size="17.4" text-anchor="middle" font-weight="normal" fill="#1a1a1a" transform="rotate(-90 14.6 518.8)">Power (mW)</text>
<g clip-path="url(#cc)">
<g filter="url(#bv)">
<rect x="45" y="396.00" width="245" height="8.60" fill="url(#hc0)"/>
<rect x="45" y="404.00" width="245" height="4.60" fill="url(#hc1)"/>
<rect x="45" y="408.00" width="245" height="4.60" fill="url(#hc2)"/>
<rect x="45" y="412.00" width="245" height="4.60" fill="url(#hc3)"/>
<rect x="45" y="416.00" width="245" height="4.60" fill="url(#hc4)"/>
<rect x="45" y="420.00" width="245" height="4.60" fill="url(#hc5)"/>
<rect x="45" y="424.00" width="245" height="4.60" fill="url(#hc6)"/>
<rect x="45" y="428.00" width="245" height="4.60" fill="url(#hc7)"/>
<rect x="45" y="432.00" width="245" height="4.60" fill="url(#hc8)"/>
<rect x="45" y="436.00" width="245" height="4.60" fill="url(#hc9)"/>
<rect x="45" y="440.00" width="245" height="4.60" fill="url(#hc10)"/>
<rect x="45" y="444.00" width="245" height="4.60" fill="url(#hc11)"/>
<rect x="45" y="448.00" width="245" height="4.60" fill="url(#hc12)"/>
<rect x="45" y="452.00" width="245" height="4.60" fill="url(#hc13)"/>
<rect x="45" y="456.00" width="245" height="4.60" fill="url(#hc14)"/>
<rect x="45" y="460.00" width="245" height="4.60" fill="url(#hc15)"/>
<rect x="45" y="464.00" width="245" height="4.60" fill="url(#hc16)"/>
<rect x="45" y="468.00" width="245" height="4.60" fill="url(#hc17)"/>
<rect x="45" y="472.00" width="245" height="4.60" fill="url(#hc18)"/>
<rect x="45" y="476.00" width="245" height="4.60" fill="url(#hc19)"/>
<rect x="45" y="480.00" width="245" height="4.60" fill="url(#hc20)"/>
<rect x="45" y="484.00" width="245" height="4.60" fill="url(#hc21)"/>
<rect x="45" y="488.00" width="245" height="4.60" fill="url(#hc22)"/>
<rect x="45" y="492.00" width="245" height="4.60" fill="url(#hc23)"/>
<rect x="45" y="496.00" width="245" height="4.60" fill="url(#hc24)"/>
<rect x="45" y="500.00" width="245" height="4.60" fill="url(#hc25)"/>
<rect x="45" y="504.00" width="245" height="4.60" fill="url(#hc26)"/>
<rect x="45" y="508.00" width="245" height="4.60" fill="url(#hc27)"/>
<rect x="45" y="512.00" width="245" height="4.60" fill="url(#hc28)"/>
<rect x="45" y="516.00" width="245" height="4.60" fill="url(#hc29)"/>
<rect x="45" y="520.00" width="245" height="4.60" fill="url(#hc30)"/>
<rect x="45" y="524.00" width="245" height="4.60" fill="url(#hc31)"/>
<rect x="45" y="528.00" width="245" height="4.60" fill="url(#hc32)"/>
<rect x="45" y="532.00" width="245" height="4.60" fill="url(#hc33)"/>
<rect x="45" y="536.00" width="245" height="4.60" fill="url(#hc34)"/>
<rect x="45" y="540.00" width="245" height="4.60" fill="url(#hc35)"/>
<rect x="45" y="544.00" width="245" height="4.60" fill="url(#hc36)"/>
<rect x="45" y="548.00" width="245" height="4.60" fill="url(#hc37)"/>
<rect x="45" y="552.00" width="245" height="4.60" fill="url(#hc38)"/>
<rect x="45" y="556.00" width="245" height="4.60" fill="url(#hc39)"/>
<rect x="45" y="560.00" width="245" height="4.60" fill="url(#hc40)"/>
<rect x="45" y="564.00" width="245" height="4.60" fill="url(#hc41)"/>
<rect x="45" y="568.00" width="245" height="4.60" fill="url(#hc42)"/>
<rect x="45" y="572.00" width="245" height="4.60" fill="url(#hc43)"/>
<rect x="45" y="576.00" width="245" height="4.60" fill="url(#hc44)"/>
<rect x="45" y="580.00" width="245" height="4.60" fill="url(#hc45)"/>
<rect x="45" y="584.00" width="245" height="4.60" fill="url(#hc46)"/>
<rect x="45" y="588.00" width="245" height="4.60" fill="url(#hc47)"/>
<rect x="45" y="592.00" width="245" height="4.60" fill="url(#hc48)"/>
<rect x="45" y="596.00" width="245" height="4.60" fill="url(#hc49)"/>
<rect x="45" y="600.00" width="245" height="4.60" fill="url(#hc50)"/>
<rect x="45" y="604.00" width="245" height="4.60" fill="url(#hc51)"/>
<rect x="45" y="608.00" width="245" height="4.60" fill="url(#hc52)"/>
<rect x="45" y="612.00" width="245" height="4.60" fill="url(#hc53)"/>
<rect x="45" y="616.00" width="245" height="4.60" fill="url(#hc54)"/>
<rect x="45" y="620.00" width="245" height="4.60" fill="url(#hc55)"/>
<rect x="45" y="624.00" width="245" height="4.60" fill="url(#hc56)"/>
<rect x="45" y="628.00" width="245" height="4.60" fill="url(#hc57)"/>
<rect x="45" y="632.00" width="245" height="4.60" fill="url(#hc58)"/>
<rect x="45" y="636.00" width="245" height="4.60" fill="url(#hc59)"/>
<rect x="45" y="640.00" width="245" height="5.60" fill="url(#hc60)"/>
</g>
<g fill="#1a0070" opacity="0.2" filter="url(#b1)"><rect x="45.6" y="398" width="3" height="245"/><rect x="52.3" y="398" width="3" height="245"/><rect x="58.9" y="398" width="3" height="245"/><rect x="65.6" y="398" width="3" height="245"/><rect x="72.2" y="398" width="3" height="245"/><rect x="78.9" y="398" width="3" height="245"/><rect x="85.6" y="398" width="3" height="245"/><rect x="92.2" y="398" width="3" height="245"/><rect x="98.9" y="398" width="3" height="245"/><rect x="105.5" y="398" width="3" height="245"/><rect x="112.2" y="398" width="3" height="245"/><rect x="118.8" y="398" width="3" height="245"/><rect x="125.5" y="398" width="3" height="245"/><rect x="132.1" y="398" width="3" height="245"/><rect x="138.8" y="398" width="3" height="245"/><rect x="145.4" y="398" width="3" height="245"/><rect x="152.1" y="398" width="3" height="245"/><rect x="158.7" y="398" width="3" height="245"/><rect x="165.4" y="398" width="3" height="245"/><rect x="172.0" y="398" width="3" height="245"/><rect x="178.7" y="398" width="3" height="245"/><rect x="185.3" y="398" width="3" height="245"/><rect x="192.0" y="398" width="3" height="245"/><rect x="198.6" y="398" width="3" height="245"/><rect x="205.3" y="398" width="3" height="245"/><rect x="211.9" y="398" width="3" height="245"/><rect x="218.6" y="398" width="3" height="245"/><rect x="225.2" y="398" width="3" height="245"/><rect x="231.9" y="398" width="3" height="245"/><rect x="238.5" y="398" width="3" height="245"/><rect x="245.2" y="398" width="3" height="245"/><rect x="251.8" y="398" width="3" height="245"/><rect x="258.5" y="398" width="3" height="245"/><rect x="265.1" y="398" width="3" height="245"/><rect x="271.8" y="398" width="3" height="245"/><rect x="278.4" y="398" width="3" height="245"/><rect x="285.1" y="398" width="3" height="245"/></g>
<g fill="#1a0070"><rect x="49" y="401.5" width="240" height="1" fill-opacity="0.07"/><rect x="49" y="404.5" width="240" height="1" fill-opacity="0.09"/><rect x="49" y="407.0" width="240" height="1" fill-opacity="0.03"/><rect x="49" y="412.0" width="240" height="1" fill-opacity="0.03"/><rect x="49" y="415.5" width="240" height="1" fill-opacity="0.03"/><rect x="49" y="420.5" width="240" height="1" fill-opacity="0.05"/><rect x="49" y="423.0" width="240" height="1" fill-opacity="0.03"/><rect x="49" y="427.0" width="240" height="1" fill-opacity="0.09"/><rect x="49" y="429.5" width="240" height="1" fill-opacity="0.05"/><rect x="49" y="432.0" width="240" height="1" fill-opacity="0.09"/><rect x="49" y="434.5" width="240" height="1" fill-opacity="0.03"/><rect x="49" y="437.5" width="240" height="1" fill-opacity="0.03"/><rect x="49" y="442.5" width="240" height="1" fill-opacity="0.09"/><rect x="49" y="445.0" width="240" height="1" fill-opacity="0.05"/><rect x="49" y="447.5" width="240" height="1" fill-opacity="0.05"/><rect x="49" y="451.0" width="240" height="1" fill-opacity="0.09"/><rect x="49" y="454.0" width="240" height="1" fill-opacity="0.03"/><rect x="49" y="459.0" width="240" height="1" fill-opacity="0.07"/><rect x="49" y="464.0" width="240" height="1" fill-opacity="0.05"/><rect x="49" y="466.5" width="240" height="1" fill-opacity="0.05"/><rect x="49" y="470.0" width="240" height="1" fill-opacity="0.03"/><rect x="49" y="475.0" width="240" height="1" fill-opacity="0.03"/><rect x="49" y="480.0" width="240" height="1" fill-opacity="0.03"/><rect x="49" y="485.0" width="240" height="1" fill-opacity="0.05"/><rect x="49" y="489.0" width="240" height="1" fill-opacity="0.09"/><rect x="49" y="492.5" width="240" height="1" fill-opacity="0.09"/><rect x="49" y="497.5" width="240" height="1" fill-opacity="0.09"/><rect x="49" y="501.0" width="240" height="1" fill-opacity="0.07"/><rect x="49" y="504.0" width="240" height="1" fill-opacity="0.05"/><rect x="49" y="507.0" width="240" height="1" fill-opacity="0.03"/><rect x="49" y="512.0" width="240" height="1" fill-opacity="0.07"/><rect x="49" y="517.0" width="240" height="1" fill-opacity="0.09"/><rect x="49" y="520.5" width="240" height="1" fill-opacity="0.09"/><rect x="49" y="524.0" width="240" height="1" fill-opacity="0.03"/><rect x="49" y="526.5" width="240" height="1" fill-opacity="0.09"/><rect x="49" y="529.5" width="240" height="1" fill-opacity="0.07"/><rect x="49" y="532.5" width="240" height="1" fill-opacity="0.09"/><rect x="49" y="536.5" width="240" height="1" fill-opacity="0.03"/><rect x="49" y="539.0" width="240" height="1" fill-opacity="0.07"/><rect x="49" y="542.5" width="240" height="1" fill-opacity="0.07"/><rect x="49" y="547.5" width="240" height="1" fill-opacity="0.09"/><rect x="49" y="552.5" width="240" height="1" fill-opacity="0.09"/><rect x="49" y="555.0" width="240" height="1" fill-opacity="0.03"/><rect x="49" y="558.5" width="240" height="1" fill-opacity="0.09"/><rect x="49" y="561.0" width="240" height="1" fill-opacity="0.03"/><rect x="49" y="564.5" width="240" height="1" fill-opacity="0.09"/><rect x="49" y="568.0" width="240" height="1" fill-opacity="0.09"/><rect x="49" y="571.5" width="240" height="1" fill-opacity="0.03"/><rect x="49" y="575.5" width="240" height="1" fill-opacity="0.07"/><rect x="49" y="578.5" width="240" height="1" fill-opacity="0.03"/><rect x="49" y="582.5" width="240" height="1" fill-opacity="0.03"/><rect x="49" y="585.5" width="240" height="1" fill-opacity="0.07"/><rect x="49" y="588.5" width="240" height="1" fill-opacity="0.05"/><rect x="49" y="592.5" width="240" height="1" fill-opacity="0.09"/><rect x="49" y="596.5" width="240" height="1" fill-opacity="0.03"/><rect x="49" y="599.5" width="240" height="1" fill-opacity="0.09"/><rect x="49" y="603.5" width="240" height="1" fill-opacity="0.07"/><rect x="49" y="606.5" width="240" height="1" fill-opacity="0.09"/><rect x="49" y="611.5" width="240" height="1" fill-opacity="0.07"/><rect x="49" y="615.5" width="240" height="1" fill-opacity="0.07"/><rect x="49" y="619.5" width="240" height="1" fill-opacity="0.05"/><rect x="49" y="622.5" width="240" height="1" fill-opacity="0.03"/><rect x="49" y="625.5" width="240" height="1" fill-opacity="0.05"/><rect x="49" y="628.5" width="240" height="1" fill-opacity="0.05"/><rect x="49" y="631.0" width="240" height="1" fill-opacity="0.09"/><rect x="49" y="636.0" width="240" height="1" fill-opacity="0.05"/><rect x="49" y="639.5" width="240" height="1" fill-opacity="0.07"/></g>
<rect x="49" y="625" width="240" height="16" fill="#5060d0" opacity="0.34"/>
<rect x="49" y="626" width="240" height="1.2" fill="#8080e0" opacity="0.25"/>
</g>
<rect x="49.7" y="400.7" width="236" height="239.5" fill="none" stroke="#3a3050" stroke-width="0.9" stroke-opacity="0.85"/>
<path d="M106.30,401.80 C106.97,408.17 108.97,427.93 110.30,440.00 C111.63,452.07 113.30,464.20 114.30,474.20 C115.30,484.20 115.97,495.70 116.30,500.00" fill="none" stroke="#f4eef8" stroke-width="1.1" stroke-opacity="0.9" stroke-dasharray="4.3 7.1" stroke-linecap="butt"/>
<path d="M116.90,522.50 C117.33,532.08 118.72,562.32 119.50,580.00 C120.28,597.68 121.25,620.50 121.60,628.60" fill="none" stroke="#f4eef8" stroke-width="1.1" stroke-opacity="0.9" stroke-dasharray="4.3 7.1" stroke-linecap="butt"/>
<path d="M147.00,401.00 L146.80,445.00" fill="none" stroke="#f4eef8" stroke-width="1.1" stroke-opacity="0.9" stroke-dasharray="4.3 7.1" stroke-linecap="butt"/>
<path d="M146.60,463.20 C146.57,477.67 146.53,522.43 146.40,550.00 C146.27,577.57 145.90,615.50 145.80,628.60" fill="none" stroke="#f4eef8" stroke-width="1.1" stroke-opacity="0.9" stroke-dasharray="4.3 7.1" stroke-linecap="butt"/>
<path d="M191.20,402.00 C192.00,408.33 194.32,427.83 196.00,440.00 C197.68,452.17 199.82,463.62 201.30,475.00 C202.78,486.38 204.30,502.75 204.90,508.30" fill="none" stroke="#f4eef8" stroke-width="1.1" stroke-opacity="0.9" stroke-dasharray="4.3 7.1" stroke-linecap="butt"/>
<path d="M208.00,533.00 C208.50,540.83 210.13,564.07 211.00,580.00 C211.87,595.93 212.83,620.50 213.20,628.60" fill="none" stroke="#f4eef8" stroke-width="1.1" stroke-opacity="0.9" stroke-dasharray="4.3 7.1" stroke-linecap="butt"/>
<path d="M223.40,401.00 C224.22,407.50 226.68,428.10 228.30,440.00 C229.92,451.90 231.50,457.68 233.10,472.40 C234.70,487.12 237.10,518.98 237.90,528.30" fill="none" stroke="#f4eef8" stroke-width="1.1" stroke-opacity="0.9" stroke-dasharray="4.3 7.1" stroke-linecap="butt"/>
<path d="M240.30,552.00 C240.58,558.33 241.48,577.23 242.00,590.00 C242.52,602.77 243.17,622.17 243.40,628.60" fill="none" stroke="#f4eef8" stroke-width="1.1" stroke-opacity="0.9" stroke-dasharray="4.3 7.1" stroke-linecap="butt"/>
<path d="M238.40,401.00 L255.20,549.60" fill="none" stroke="#f4eef8" stroke-width="1.1" stroke-opacity="0.9" stroke-dasharray="4.3 7.1" stroke-linecap="butt"/>
<path d="M256.80,577.90 L259.20,628.60" fill="none" stroke="#f4eef8" stroke-width="1.1" stroke-opacity="0.9" stroke-dasharray="4.3 7.1" stroke-linecap="butt"/>
<text x="108.7" y="513.1" font-size="13.5" text-anchor="start" font-weight="normal" fill="#f4eef8">2p</text>
<text x="198.7" y="523.7" font-size="13.5" text-anchor="start" font-weight="normal" fill="#f4eef8">3p</text>
<text x="229.8" y="546.5" font-size="13.5" text-anchor="start" font-weight="normal" fill="#f4eef8">4p</text>
<text x="248.2" y="569.5" font-size="13.5" text-anchor="start" font-weight="normal" fill="#f4eef8">5p</text>
<text x="137.2" y="456.8" font-size="13.5" text-anchor="start" font-weight="normal" fill="#f4eef8">1sg*</text>
<rect x="300.7" y="400.5" width="12.8" height="240" fill="url(#pl)" stroke="#555" stroke-width="0.4"/>
<line x1="313.5" y1="443.6" x2="315.6" y2="443.6" stroke="#444" stroke-width="0.8"/>
<text x="317.3" y="448.40000000000003" font-size="14" text-anchor="start" font-weight="normal" fill="#1a1a1a">0.8</text>
<line x1="313.5" y1="493.20000000000005" x2="315.6" y2="493.20000000000005" stroke="#444" stroke-width="0.8"/>
<text x="317.3" y="498.00000000000006" font-size="14" text-anchor="start" font-weight="normal" fill="#1a1a1a">0.6</text>
<line x1="313.5" y1="542.8000000000001" x2="315.6" y2="542.8000000000001" stroke="#444" stroke-width="0.8"/>
<text x="317.3" y="547.6" font-size="14" text-anchor="start" font-weight="normal" fill="#1a1a1a">0.4</text>
<line x1="313.5" y1="592.4000000000001" x2="315.6" y2="592.4000000000001" stroke="#444" stroke-width="0.8"/>
<text x="317.3" y="597.2" font-size="14" text-anchor="start" font-weight="normal" fill="#1a1a1a">0.2</text>
<text x="342.6" y="516.5" font-size="17.6" text-anchor="middle" font-weight="normal" fill="#1a1a1a" transform="rotate(90 342.6 516.5)">Intensity (a.u.)</text>
</svg></body></html>
